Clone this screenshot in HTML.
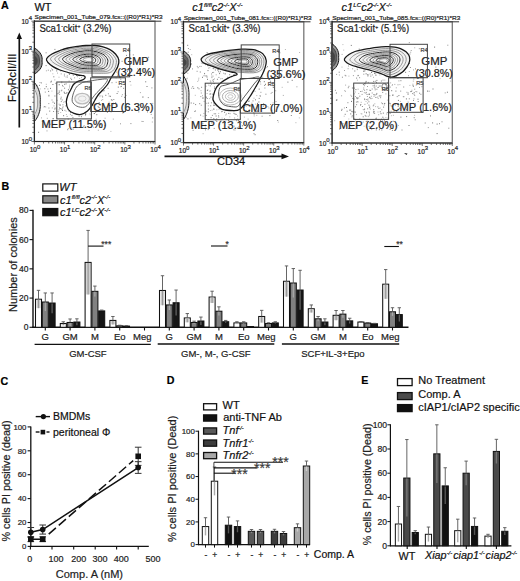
<!DOCTYPE html>
<html><head><meta charset="utf-8"><style>
html,body{margin:0;padding:0;background:#fff;}
svg{display:block;}
text{font-family:"Liberation Sans", sans-serif;}
</style></head><body>
<svg width="520" height="581" viewBox="0 0 520 581" font-family='"Liberation Sans", sans-serif'>
<rect width="520" height="581" fill="#fff"/>
<text x="1.00" y="9.20" font-size="10.7" text-anchor="start" font-weight="bold" font-style="normal" fill="#000" stroke="#000" stroke-width="0.2" >A</text>
<rect x="74.2" y="56.8" width="1" height="1" fill="rgb(116,116,116)"/>
<rect x="44.8" y="91.6" width="1" height="1" fill="rgb(156,156,156)"/>
<rect x="104.4" y="125.3" width="1" height="1" fill="rgb(137,137,137)"/>
<rect x="40.8" y="82.4" width="1" height="1" fill="rgb(118,118,118)"/>
<rect x="64.5" y="93.0" width="1" height="1" fill="rgb(117,117,117)"/>
<rect x="132.8" y="54.4" width="1" height="1" fill="rgb(138,138,138)"/>
<rect x="109.9" y="95.8" width="1" height="1" fill="rgb(117,117,117)"/>
<rect x="103.7" y="79.0" width="1" height="1" fill="rgb(138,138,138)"/>
<rect x="41.8" y="120.7" width="1" height="1" fill="rgb(147,147,147)"/>
<rect x="85.3" y="92.0" width="1" height="1" fill="rgb(183,183,183)"/>
<rect x="72.4" y="116.9" width="1" height="1" fill="rgb(133,133,133)"/>
<rect x="48.4" y="94.8" width="1" height="1" fill="rgb(134,134,134)"/>
<rect x="79.8" y="92.7" width="1" height="1" fill="rgb(118,118,118)"/>
<rect x="102.2" y="99.1" width="1" height="1" fill="rgb(173,173,173)"/>
<rect x="115.7" y="81.8" width="1" height="1" fill="rgb(150,150,150)"/>
<rect x="90.7" y="126.6" width="1" height="1" fill="rgb(156,156,156)"/>
<rect x="71.4" y="114.9" width="1" height="1" fill="rgb(141,141,141)"/>
<rect x="45.9" y="70.3" width="1" height="1" fill="rgb(173,173,173)"/>
<rect x="138.4" y="109.1" width="1" height="1" fill="rgb(146,146,146)"/>
<rect x="107.4" y="49.8" width="1" height="1" fill="rgb(175,175,175)"/>
<rect x="85.2" y="111.6" width="1" height="1" fill="rgb(129,129,129)"/>
<rect x="145.2" y="81.3" width="1" height="1" fill="rgb(119,119,119)"/>
<rect x="125.5" y="94.9" width="1" height="1" fill="rgb(150,150,150)"/>
<rect x="76.1" y="74.8" width="1" height="1" fill="rgb(173,173,173)"/>
<rect x="104.0" y="84.4" width="1" height="1" fill="rgb(121,121,121)"/>
<rect x="146.5" y="86.0" width="1" height="1" fill="rgb(118,118,118)"/>
<rect x="43.5" y="106.5" width="1" height="1" fill="rgb(183,183,183)"/>
<rect x="152.2" y="117.4" width="1" height="1" fill="rgb(146,146,146)"/>
<rect x="120.0" y="123.3" width="1" height="1" fill="rgb(154,154,154)"/>
<rect x="39.0" y="84.9" width="1" height="1" fill="rgb(131,131,131)"/>
<rect x="107.6" y="87.8" width="1" height="1" fill="rgb(137,137,137)"/>
<rect x="126.0" y="54.9" width="1" height="1" fill="rgb(141,141,141)"/>
<rect x="82.8" y="126.0" width="1" height="1" fill="rgb(173,173,173)"/>
<rect x="45.8" y="83.8" width="1" height="1" fill="rgb(180,180,180)"/>
<rect x="68.8" y="55.6" width="1" height="1" fill="rgb(165,165,165)"/>
<rect x="137.1" y="68.3" width="1" height="1" fill="rgb(163,163,163)"/>
<rect x="151.4" y="104.8" width="1" height="1" fill="rgb(158,158,158)"/>
<rect x="148.1" y="56.8" width="1" height="1" fill="rgb(132,132,132)"/>
<rect x="54.0" y="102.7" width="1" height="1" fill="rgb(111,111,111)"/>
<rect x="92.9" y="96.4" width="1" height="1" fill="rgb(143,143,143)"/>
<rect x="69.3" y="84.5" width="1" height="1" fill="rgb(178,178,178)"/>
<rect x="79.5" y="108.7" width="1" height="1" fill="rgb(126,126,126)"/>
<rect x="116.9" y="105.7" width="1" height="1" fill="rgb(189,189,189)"/>
<rect x="112.8" y="118.6" width="1" height="1" fill="rgb(168,168,168)"/>
<rect x="141.3" y="120.9" width="1" height="1" fill="rgb(181,181,181)"/>
<rect x="82.2" y="99.1" width="1" height="1" fill="rgb(123,123,123)"/>
<rect x="92.5" y="99.1" width="1" height="1" fill="rgb(134,134,134)"/>
<rect x="44.3" y="88.2" width="1" height="1" fill="rgb(130,130,130)"/>
<rect x="49.2" y="110.6" width="1" height="1" fill="rgb(123,123,123)"/>
<rect x="36.4" y="84.9" width="1" height="1" fill="rgb(122,122,122)"/>
<rect x="147.0" y="111.4" width="1" height="1" fill="rgb(119,119,119)"/>
<rect x="138.3" y="111.4" width="1" height="1" fill="rgb(129,129,129)"/>
<rect x="110.4" y="130.9" width="1" height="1" fill="rgb(187,187,187)"/>
<rect x="78.9" y="83.2" width="1" height="1" fill="rgb(172,172,172)"/>
<rect x="152.2" y="102.9" width="1" height="1" fill="rgb(171,171,171)"/>
<rect x="72.8" y="84.5" width="1" height="1" fill="rgb(153,153,153)"/>
<rect x="122.7" y="103.6" width="1" height="1" fill="rgb(130,130,130)"/>
<rect x="96.6" y="88.0" width="1" height="1" fill="rgb(177,177,177)"/>
<rect x="78.6" y="115.7" width="1" height="1" fill="rgb(113,113,113)"/>
<rect x="124.8" y="93.3" width="1" height="1" fill="rgb(121,121,121)"/>
<rect x="117.6" y="91.2" width="1" height="1" fill="rgb(156,156,156)"/>
<rect x="142.3" y="96.6" width="1" height="1" fill="rgb(138,138,138)"/>
<rect x="98.5" y="120.8" width="1" height="1" fill="rgb(152,152,152)"/>
<rect x="110.6" y="111.3" width="1" height="1" fill="rgb(134,134,134)"/>
<rect x="130.4" y="123.1" width="1" height="1" fill="rgb(139,139,139)"/>
<rect x="59.7" y="104.4" width="1" height="1" fill="rgb(113,113,113)"/>
<rect x="151.8" y="121.5" width="1" height="1" fill="rgb(170,170,170)"/>
<rect x="66.6" y="115.9" width="1" height="1" fill="rgb(154,154,154)"/>
<rect x="88.5" y="129.9" width="1" height="1" fill="rgb(154,154,154)"/>
<rect x="147.8" y="97.1" width="1" height="1" fill="rgb(138,138,138)"/>
<rect x="48.3" y="103.1" width="1" height="1" fill="rgb(153,153,153)"/>
<rect x="60.2" y="112.0" width="1" height="1" fill="rgb(188,188,188)"/>
<rect x="134.4" y="103.7" width="1" height="1" fill="rgb(154,154,154)"/>
<rect x="129.6" y="81.1" width="1" height="1" fill="rgb(125,125,125)"/>
<rect x="142.5" y="121.0" width="1" height="1" fill="rgb(135,135,135)"/>
<rect x="92.1" y="86.4" width="1" height="1" fill="rgb(152,152,152)"/>
<rect x="46.5" y="130.4" width="1" height="1" fill="rgb(160,160,160)"/>
<rect x="90.4" y="118.8" width="1" height="1" fill="rgb(120,120,120)"/>
<rect x="120.9" y="85.9" width="1" height="1" fill="rgb(126,126,126)"/>
<rect x="39.6" y="110.1" width="1" height="1" fill="rgb(169,169,169)"/>
<rect x="130.4" y="84.6" width="1" height="1" fill="rgb(186,186,186)"/>
<rect x="150.7" y="113.9" width="1" height="1" fill="rgb(154,154,154)"/>
<rect x="54.6" y="107.6" width="1" height="1" fill="rgb(112,112,112)"/>
<rect x="38.1" y="131.8" width="1" height="1" fill="rgb(123,123,123)"/>
<rect x="97.8" y="129.7" width="1" height="1" fill="rgb(165,165,165)"/>
<rect x="151.4" y="87.4" width="1" height="1" fill="rgb(137,137,137)"/>
<rect x="39.7" y="88.4" width="1" height="1" fill="rgb(174,174,174)"/>
<rect x="64.4" y="109.8" width="1" height="1" fill="rgb(143,143,143)"/>
<rect x="99.9" y="124.0" width="1" height="1" fill="rgb(117,117,117)"/>
<rect x="142.5" y="96.5" width="1" height="1" fill="rgb(168,168,168)"/>
<rect x="57.0" y="72.6" width="1" height="1" fill="rgb(176,176,176)"/>
<rect x="41.0" y="117.4" width="1" height="1" fill="rgb(174,174,174)"/>
<rect x="78.7" y="106.3" width="1" height="1" fill="rgb(175,175,175)"/>
<rect x="89.5" y="101.3" width="1" height="1" fill="rgb(133,133,133)"/>
<rect x="50.9" y="80.7" width="1" height="1" fill="rgb(129,129,129)"/>
<rect x="80.9" y="116.2" width="1" height="1" fill="rgb(125,125,125)"/>
<rect x="59.1" y="94.0" width="1" height="1" fill="rgb(176,176,176)"/>
<rect x="54.4" y="95.5" width="1" height="1" fill="rgb(123,123,123)"/>
<rect x="76.5" y="95.3" width="1" height="1" fill="rgb(134,134,134)"/>
<rect x="67.8" y="128.0" width="1" height="1" fill="rgb(174,174,174)"/>
<rect x="68.8" y="100.4" width="1" height="1" fill="rgb(118,118,118)"/>
<rect x="51.8" y="107.4" width="1" height="1" fill="rgb(174,174,174)"/>
<rect x="64.0" y="92.2" width="1" height="1" fill="rgb(145,145,145)"/>
<rect x="53.5" y="105.4" width="1" height="1" fill="rgb(171,171,171)"/>
<rect x="60.3" y="98.6" width="1" height="1" fill="rgb(176,176,176)"/>
<rect x="99.7" y="70.8" width="1" height="1" fill="rgb(143,143,143)"/>
<rect x="102.3" y="82.4" width="1" height="1" fill="rgb(135,135,135)"/>
<rect x="77.1" y="91.4" width="1" height="1" fill="rgb(125,125,125)"/>
<rect x="61.5" y="108.5" width="1" height="1" fill="rgb(140,140,140)"/>
<rect x="62.4" y="104.3" width="1" height="1" fill="rgb(148,148,148)"/>
<rect x="79.6" y="63.8" width="1" height="1" fill="rgb(129,129,129)"/>
<rect x="93.7" y="90.1" width="1" height="1" fill="rgb(156,156,156)"/>
<rect x="93.0" y="126.7" width="1" height="1" fill="rgb(169,169,169)"/>
<rect x="57.6" y="110.9" width="1" height="1" fill="rgb(138,138,138)"/>
<rect x="81.4" y="114.5" width="1" height="1" fill="rgb(175,175,175)"/>
<rect x="58.6" y="109.3" width="1" height="1" fill="rgb(155,155,155)"/>
<rect x="61.7" y="123.9" width="1" height="1" fill="rgb(112,112,112)"/>
<rect x="63.1" y="115.2" width="1" height="1" fill="rgb(112,112,112)"/>
<rect x="58.0" y="112.8" width="1" height="1" fill="rgb(147,147,147)"/>
<rect x="66.6" y="98.7" width="1" height="1" fill="rgb(139,139,139)"/>
<rect x="79.8" y="97.8" width="1" height="1" fill="rgb(143,143,143)"/>
<rect x="83.6" y="125.1" width="1" height="1" fill="rgb(164,164,164)"/>
<rect x="86.5" y="78.5" width="1" height="1" fill="rgb(143,143,143)"/>
<rect x="55.9" y="110.9" width="1" height="1" fill="rgb(175,175,175)"/>
<rect x="50.0" y="87.9" width="1" height="1" fill="rgb(121,121,121)"/>
<rect x="67.2" y="129.2" width="1" height="1" fill="rgb(133,133,133)"/>
<rect x="66.9" y="102.2" width="1" height="1" fill="rgb(112,112,112)"/>
<rect x="53.3" y="76.3" width="1" height="1" fill="rgb(120,120,120)"/>
<rect x="63.6" y="91.6" width="1" height="1" fill="rgb(143,143,143)"/>
<rect x="83.9" y="85.0" width="1" height="1" fill="rgb(153,153,153)"/>
<rect x="89.0" y="98.6" width="1" height="1" fill="rgb(144,144,144)"/>
<rect x="69.0" y="95.7" width="1" height="1" fill="rgb(140,140,140)"/>
<rect x="111.5" y="82.2" width="1" height="1" fill="rgb(143,143,143)"/>
<rect x="82.6" y="102.8" width="1" height="1" fill="rgb(149,149,149)"/>
<rect x="58.8" y="84.1" width="1" height="1" fill="rgb(136,136,136)"/>
<rect x="67.7" y="118.6" width="1" height="1" fill="rgb(132,132,132)"/>
<rect x="76.8" y="99.0" width="1" height="1" fill="rgb(112,112,112)"/>
<rect x="70.3" y="77.8" width="1" height="1" fill="rgb(134,134,134)"/>
<rect x="60.4" y="98.1" width="1" height="1" fill="rgb(167,167,167)"/>
<rect x="95.6" y="118.7" width="1" height="1" fill="rgb(165,165,165)"/>
<rect x="61.3" y="81.4" width="1" height="1" fill="rgb(160,160,160)"/>
<rect x="85.9" y="96.5" width="1" height="1" fill="rgb(137,137,137)"/>
<rect x="87.0" y="97.5" width="1" height="1" fill="rgb(127,127,127)"/>
<rect x="60.2" y="108.1" width="1" height="1" fill="rgb(116,116,116)"/>
<rect x="73.8" y="96.7" width="1" height="1" fill="rgb(190,190,190)"/>
<rect x="71.7" y="86.2" width="1" height="1" fill="rgb(130,130,130)"/>
<rect x="94.7" y="107.8" width="1" height="1" fill="rgb(158,158,158)"/>
<rect x="88.8" y="80.8" width="1" height="1" fill="rgb(146,146,146)"/>
<rect x="52.4" y="84.0" width="1" height="1" fill="rgb(115,115,115)"/>
<rect x="63.3" y="101.7" width="1" height="1" fill="rgb(167,167,167)"/>
<rect x="87.6" y="99.6" width="1" height="1" fill="rgb(152,152,152)"/>
<rect x="92.2" y="95.5" width="1" height="1" fill="rgb(141,141,141)"/>
<rect x="104.7" y="106.8" width="1" height="1" fill="rgb(137,137,137)"/>
<rect x="71.9" y="99.8" width="1" height="1" fill="rgb(158,158,158)"/>
<rect x="83.6" y="106.1" width="1" height="1" fill="rgb(135,135,135)"/>
<rect x="72.7" y="128.6" width="1" height="1" fill="rgb(121,121,121)"/>
<rect x="71.8" y="106.5" width="1" height="1" fill="rgb(161,161,161)"/>
<rect x="58.7" y="90.4" width="1" height="1" fill="rgb(148,148,148)"/>
<rect x="68.5" y="110.9" width="1" height="1" fill="rgb(184,184,184)"/>
<rect x="102.6" y="90.4" width="1" height="1" fill="rgb(129,129,129)"/>
<rect x="58.5" y="76.7" width="1" height="1" fill="rgb(186,186,186)"/>
<rect x="61.5" y="108.9" width="1" height="1" fill="rgb(173,173,173)"/>
<rect x="87.6" y="121.2" width="1" height="1" fill="rgb(128,128,128)"/>
<rect x="101.6" y="108.0" width="1" height="1" fill="rgb(175,175,175)"/>
<rect x="54.3" y="79.4" width="1" height="1" fill="rgb(174,174,174)"/>
<rect x="84.9" y="115.1" width="1" height="1" fill="rgb(174,174,174)"/>
<rect x="45.8" y="86.2" width="1" height="1" fill="rgb(112,112,112)"/>
<rect x="82.2" y="79.2" width="1" height="1" fill="rgb(139,139,139)"/>
<rect x="76.4" y="101.7" width="1" height="1" fill="rgb(156,156,156)"/>
<rect x="87.5" y="95.0" width="1" height="1" fill="rgb(167,167,167)"/>
<rect x="51.4" y="90.6" width="1" height="1" fill="rgb(190,190,190)"/>
<rect x="60.7" y="96.7" width="1" height="1" fill="rgb(143,143,143)"/>
<rect x="101.0" y="99.8" width="1" height="1" fill="rgb(174,174,174)"/>
<rect x="78.0" y="94.7" width="1" height="1" fill="rgb(177,177,177)"/>
<rect x="96.3" y="110.4" width="1" height="1" fill="rgb(142,142,142)"/>
<rect x="83.7" y="68.6" width="1" height="1" fill="rgb(140,140,140)"/>
<rect x="71.0" y="87.8" width="1" height="1" fill="rgb(168,168,168)"/>
<rect x="56.7" y="99.8" width="1" height="1" fill="rgb(171,171,171)"/>
<rect x="83.5" y="91.7" width="1" height="1" fill="rgb(115,115,115)"/>
<rect x="55.4" y="82.8" width="1" height="1" fill="rgb(119,119,119)"/>
<rect x="60.8" y="90.3" width="1" height="1" fill="rgb(148,148,148)"/>
<rect x="66.2" y="92.9" width="1" height="1" fill="rgb(171,171,171)"/>
<rect x="84.2" y="104.2" width="1" height="1" fill="rgb(122,122,122)"/>
<rect x="63.9" y="75.4" width="1" height="1" fill="rgb(147,147,147)"/>
<rect x="69.0" y="85.7" width="1" height="1" fill="rgb(169,169,169)"/>
<rect x="64.5" y="101.0" width="1" height="1" fill="rgb(180,180,180)"/>
<rect x="75.2" y="98.0" width="1" height="1" fill="rgb(168,168,168)"/>
<rect x="89.3" y="108.5" width="1" height="1" fill="rgb(167,167,167)"/>
<rect x="88.2" y="98.6" width="1" height="1" fill="rgb(136,136,136)"/>
<rect x="78.6" y="102.5" width="1" height="1" fill="rgb(177,177,177)"/>
<rect x="71.3" y="115.2" width="1" height="1" fill="rgb(187,187,187)"/>
<rect x="80.5" y="80.9" width="1" height="1" fill="rgb(124,124,124)"/>
<rect x="69.0" y="87.4" width="1" height="1" fill="rgb(172,172,172)"/>
<rect x="65.0" y="105.4" width="1" height="1" fill="rgb(172,172,172)"/>
<rect x="65.6" y="83.4" width="1" height="1" fill="rgb(128,128,128)"/>
<rect x="59.0" y="107.5" width="1" height="1" fill="rgb(125,125,125)"/>
<rect x="72.9" y="98.4" width="1" height="1" fill="rgb(153,153,153)"/>
<rect x="76.7" y="91.9" width="1" height="1" fill="rgb(135,135,135)"/>
<rect x="64.5" y="63.6" width="1" height="1" fill="rgb(147,147,147)"/>
<rect x="72.3" y="105.4" width="1" height="1" fill="rgb(159,159,159)"/>
<rect x="93.7" y="99.0" width="1" height="1" fill="rgb(156,156,156)"/>
<rect x="96.4" y="86.3" width="1" height="1" fill="rgb(116,116,116)"/>
<rect x="71.4" y="104.6" width="1" height="1" fill="rgb(146,146,146)"/>
<rect x="66.4" y="92.0" width="1" height="1" fill="rgb(144,144,144)"/>
<rect x="59.6" y="105.0" width="1" height="1" fill="rgb(157,157,157)"/>
<rect x="76.1" y="81.7" width="1" height="1" fill="rgb(113,113,113)"/>
<rect x="81.0" y="77.0" width="1" height="1" fill="rgb(180,180,180)"/>
<rect x="48.1" y="90.9" width="1" height="1" fill="rgb(116,116,116)"/>
<rect x="87.4" y="92.1" width="1" height="1" fill="rgb(188,188,188)"/>
<rect x="72.8" y="74.8" width="1" height="1" fill="rgb(146,146,146)"/>
<rect x="37.3" y="102.6" width="1" height="1" fill="rgb(180,180,180)"/>
<rect x="85.0" y="113.0" width="1" height="1" fill="rgb(153,153,153)"/>
<rect x="70.0" y="112.0" width="1" height="1" fill="rgb(143,143,143)"/>
<rect x="62.6" y="106.2" width="1" height="1" fill="rgb(171,171,171)"/>
<rect x="57.4" y="93.2" width="1" height="1" fill="rgb(131,131,131)"/>
<rect x="68.5" y="93.9" width="1" height="1" fill="rgb(174,174,174)"/>
<rect x="88.0" y="88.1" width="1" height="1" fill="rgb(138,138,138)"/>
<rect x="58.6" y="103.7" width="1" height="1" fill="rgb(167,167,167)"/>
<rect x="54.3" y="108.6" width="1" height="1" fill="rgb(141,141,141)"/>
<rect x="84.7" y="107.6" width="1" height="1" fill="rgb(121,121,121)"/>
<rect x="65.9" y="114.0" width="1" height="1" fill="rgb(182,182,182)"/>
<rect x="73.4" y="102.5" width="1" height="1" fill="rgb(162,162,162)"/>
<rect x="52.8" y="118.1" width="1" height="1" fill="rgb(136,136,136)"/>
<rect x="62.0" y="110.0" width="1" height="1" fill="rgb(117,117,117)"/>
<rect x="51.5" y="99.5" width="1" height="1" fill="rgb(156,156,156)"/>
<rect x="85.7" y="113.5" width="1" height="1" fill="rgb(190,190,190)"/>
<rect x="80.2" y="67.2" width="1" height="1" fill="rgb(121,121,121)"/>
<rect x="70.8" y="111.9" width="1" height="1" fill="rgb(161,161,161)"/>
<rect x="62.0" y="84.9" width="1" height="1" fill="rgb(149,149,149)"/>
<rect x="91.3" y="71.1" width="1" height="1" fill="rgb(112,112,112)"/>
<rect x="84.1" y="112.0" width="1" height="1" fill="rgb(170,170,170)"/>
<rect x="90.6" y="95.3" width="1" height="1" fill="rgb(119,119,119)"/>
<rect x="44.0" y="123.7" width="1" height="1" fill="rgb(177,177,177)"/>
<rect x="98.8" y="63.3" width="1" height="1" fill="rgb(141,141,141)"/>
<rect x="74.8" y="87.4" width="1" height="1" fill="rgb(129,129,129)"/>
<rect x="48.4" y="95.6" width="1" height="1" fill="rgb(168,168,168)"/>
<rect x="96.3" y="114.2" width="1" height="1" fill="rgb(110,110,110)"/>
<rect x="74.7" y="87.1" width="1" height="1" fill="rgb(114,114,114)"/>
<rect x="64.1" y="87.7" width="1" height="1" fill="rgb(126,126,126)"/>
<rect x="58.7" y="84.3" width="1" height="1" fill="rgb(165,165,165)"/>
<rect x="69.9" y="91.3" width="1" height="1" fill="rgb(119,119,119)"/>
<rect x="76.9" y="111.5" width="1" height="1" fill="rgb(186,186,186)"/>
<rect x="92.3" y="99.4" width="1" height="1" fill="rgb(168,168,168)"/>
<rect x="69.9" y="113.8" width="1" height="1" fill="rgb(141,141,141)"/>
<rect x="60.8" y="101.1" width="1" height="1" fill="rgb(141,141,141)"/>
<rect x="88.6" y="102.4" width="1" height="1" fill="rgb(149,149,149)"/>
<rect x="82.3" y="103.0" width="1" height="1" fill="rgb(163,163,163)"/>
<rect x="82.4" y="105.2" width="1" height="1" fill="rgb(164,164,164)"/>
<rect x="82.6" y="93.7" width="1" height="1" fill="rgb(114,114,114)"/>
<rect x="63.9" y="73.7" width="1" height="1" fill="rgb(156,156,156)"/>
<rect x="68.0" y="88.9" width="1" height="1" fill="rgb(147,147,147)"/>
<rect x="71.1" y="79.1" width="1" height="1" fill="rgb(136,136,136)"/>
<rect x="61.7" y="99.5" width="1" height="1" fill="rgb(134,134,134)"/>
<rect x="73.8" y="111.1" width="1" height="1" fill="rgb(147,147,147)"/>
<rect x="89.7" y="114.2" width="1" height="1" fill="rgb(188,188,188)"/>
<rect x="76.8" y="110.4" width="1" height="1" fill="rgb(163,163,163)"/>
<rect x="77.0" y="96.1" width="1" height="1" fill="rgb(186,186,186)"/>
<rect x="82.1" y="112.7" width="1" height="1" fill="rgb(137,137,137)"/>
<rect x="93.7" y="102.6" width="1" height="1" fill="rgb(163,163,163)"/>
<rect x="77.7" y="101.1" width="1" height="1" fill="rgb(160,160,160)"/>
<rect x="48.4" y="107.5" width="1" height="1" fill="rgb(150,150,150)"/>
<rect x="85.4" y="92.9" width="1" height="1" fill="rgb(133,133,133)"/>
<rect x="61.2" y="82.2" width="1" height="1" fill="rgb(169,169,169)"/>
<rect x="95.6" y="104.2" width="1" height="1" fill="rgb(158,158,158)"/>
<rect x="97.0" y="57.5" width="1" height="1" fill="rgb(166,166,166)"/>
<rect x="73.0" y="100.3" width="1" height="1" fill="rgb(145,145,145)"/>
<rect x="87.0" y="107.8" width="1" height="1" fill="rgb(125,125,125)"/>
<rect x="47.4" y="88.5" width="1" height="1" fill="rgb(158,158,158)"/>
<rect x="54.0" y="123.9" width="1" height="1" fill="rgb(165,165,165)"/>
<rect x="93.7" y="113.1" width="1" height="1" fill="rgb(135,135,135)"/>
<rect x="47.4" y="126.6" width="1" height="1" fill="rgb(134,134,134)"/>
<rect x="60.8" y="124.1" width="1" height="1" fill="rgb(170,170,170)"/>
<rect x="88.6" y="102.5" width="1" height="1" fill="rgb(190,190,190)"/>
<rect x="72.9" y="94.3" width="1" height="1" fill="rgb(114,114,114)"/>
<rect x="44.3" y="106.1" width="1" height="1" fill="rgb(117,117,117)"/>
<rect x="71.2" y="127.4" width="1" height="1" fill="rgb(187,187,187)"/>
<rect x="65.6" y="110.7" width="1" height="1" fill="rgb(188,188,188)"/>
<rect x="97.9" y="106.8" width="1" height="1" fill="rgb(150,150,150)"/>
<rect x="84.3" y="92.7" width="1" height="1" fill="rgb(186,186,186)"/>
<rect x="92.0" y="87.1" width="1" height="1" fill="rgb(118,118,118)"/>
<rect x="83.9" y="101.1" width="1" height="1" fill="rgb(170,170,170)"/>
<rect x="68.6" y="80.6" width="1" height="1" fill="rgb(159,159,159)"/>
<rect x="81.2" y="62.8" width="1" height="1" fill="rgb(173,173,173)"/>
<rect x="85.0" y="113.9" width="1" height="1" fill="rgb(111,111,111)"/>
<rect x="80.9" y="72.9" width="1" height="1" fill="rgb(129,129,129)"/>
<rect x="61.3" y="89.7" width="1" height="1" fill="rgb(150,150,150)"/>
<rect x="45.2" y="106.5" width="1" height="1" fill="rgb(186,186,186)"/>
<rect x="81.7" y="104.6" width="1" height="1" fill="rgb(130,130,130)"/>
<rect x="72.5" y="105.4" width="1" height="1" fill="rgb(114,114,114)"/>
<rect x="52.5" y="101.6" width="1" height="1" fill="rgb(130,130,130)"/>
<rect x="105.3" y="94.8" width="1" height="1" fill="rgb(119,119,119)"/>
<rect x="71.8" y="106.3" width="1" height="1" fill="rgb(122,122,122)"/>
<rect x="82.1" y="97.4" width="1" height="1" fill="rgb(127,127,127)"/>
<rect x="53.1" y="111.0" width="1" height="1" fill="rgb(140,140,140)"/>
<rect x="72.0" y="66.3" width="1" height="1" fill="rgb(125,125,125)"/>
<rect x="74.9" y="85.3" width="1" height="1" fill="rgb(145,145,145)"/>
<rect x="58.3" y="92.5" width="1" height="1" fill="rgb(143,143,143)"/>
<rect x="76.2" y="111.4" width="1" height="1" fill="rgb(141,141,141)"/>
<rect x="73.6" y="113.0" width="1" height="1" fill="rgb(184,184,184)"/>
<rect x="74.6" y="105.0" width="1" height="1" fill="rgb(142,142,142)"/>
<rect x="91.4" y="98.2" width="1" height="1" fill="rgb(139,139,139)"/>
<rect x="68.1" y="92.9" width="1" height="1" fill="rgb(169,169,169)"/>
<rect x="79.8" y="98.8" width="1" height="1" fill="rgb(170,170,170)"/>
<rect x="81.0" y="90.9" width="1" height="1" fill="rgb(167,167,167)"/>
<rect x="76.3" y="96.7" width="1" height="1" fill="rgb(147,147,147)"/>
<rect x="73.0" y="104.6" width="1" height="1" fill="rgb(186,186,186)"/>
<rect x="93.3" y="95.4" width="1" height="1" fill="rgb(119,119,119)"/>
<rect x="50.1" y="123.7" width="1" height="1" fill="rgb(167,167,167)"/>
<rect x="50.4" y="81.5" width="1" height="1" fill="rgb(110,110,110)"/>
<rect x="89.4" y="113.3" width="1" height="1" fill="rgb(189,189,189)"/>
<rect x="69.8" y="103.0" width="1" height="1" fill="rgb(153,153,153)"/>
<rect x="79.2" y="108.1" width="1" height="1" fill="rgb(142,142,142)"/>
<rect x="97.6" y="105.8" width="1" height="1" fill="rgb(136,136,136)"/>
<rect x="84.1" y="70.3" width="1" height="1" fill="rgb(162,162,162)"/>
<rect x="67.9" y="89.4" width="1" height="1" fill="rgb(149,149,149)"/>
<rect x="76.0" y="101.2" width="1" height="1" fill="rgb(173,173,173)"/>
<rect x="66.9" y="97.4" width="1" height="1" fill="rgb(122,122,122)"/>
<rect x="79.1" y="75.1" width="1" height="1" fill="rgb(129,129,129)"/>
<rect x="67.9" y="93.5" width="1" height="1" fill="rgb(130,130,130)"/>
<rect x="62.2" y="107.3" width="1" height="1" fill="rgb(146,146,146)"/>
<rect x="64.2" y="83.8" width="1" height="1" fill="rgb(116,116,116)"/>
<rect x="64.5" y="119.5" width="1" height="1" fill="rgb(155,155,155)"/>
<rect x="69.8" y="100.9" width="1" height="1" fill="rgb(156,156,156)"/>
<rect x="62.6" y="85.9" width="1" height="1" fill="rgb(161,161,161)"/>
<rect x="72.9" y="101.0" width="1" height="1" fill="rgb(130,130,130)"/>
<rect x="46.1" y="113.7" width="1" height="1" fill="rgb(161,161,161)"/>
<rect x="58.9" y="91.6" width="1" height="1" fill="rgb(130,130,130)"/>
<rect x="76.0" y="103.2" width="1" height="1" fill="rgb(128,128,128)"/>
<rect x="50.1" y="70.4" width="1" height="1" fill="rgb(121,121,121)"/>
<rect x="39.5" y="82.0" width="1" height="1" fill="rgb(174,174,174)"/>
<rect x="79.4" y="113.1" width="1" height="1" fill="rgb(130,130,130)"/>
<rect x="36.3" y="94.1" width="1" height="1" fill="rgb(123,123,123)"/>
<rect x="52.5" y="118.2" width="1" height="1" fill="rgb(135,135,135)"/>
<rect x="106.4" y="109.3" width="1" height="1" fill="rgb(150,150,150)"/>
<rect x="106.9" y="112.0" width="1" height="1" fill="rgb(159,159,159)"/>
<rect x="94.0" y="113.0" width="1" height="1" fill="rgb(130,130,130)"/>
<rect x="52.3" y="73.3" width="1" height="1" fill="rgb(189,189,189)"/>
<rect x="46.8" y="117.8" width="1" height="1" fill="rgb(170,170,170)"/>
<rect x="77.0" y="110.1" width="1" height="1" fill="rgb(161,161,161)"/>
<rect x="81.0" y="95.5" width="1" height="1" fill="rgb(155,155,155)"/>
<rect x="81.0" y="108.1" width="1" height="1" fill="rgb(134,134,134)"/>
<rect x="92.3" y="104.8" width="1" height="1" fill="rgb(114,114,114)"/>
<rect x="64.8" y="59.3" width="1" height="1" fill="rgb(159,159,159)"/>
<rect x="51.9" y="59.5" width="1" height="1" fill="rgb(190,190,190)"/>
<rect x="80.0" y="53.4" width="1" height="1" fill="rgb(149,149,149)"/>
<rect x="54.3" y="61.5" width="1" height="1" fill="rgb(157,157,157)"/>
<rect x="52.1" y="69.4" width="1" height="1" fill="rgb(112,112,112)"/>
<rect x="51.0" y="68.3" width="1" height="1" fill="rgb(189,189,189)"/>
<rect x="79.0" y="56.4" width="1" height="1" fill="rgb(132,132,132)"/>
<rect x="82.7" y="57.7" width="1" height="1" fill="rgb(118,118,118)"/>
<rect x="90.5" y="73.1" width="1" height="1" fill="rgb(121,121,121)"/>
<rect x="82.8" y="56.1" width="1" height="1" fill="rgb(115,115,115)"/>
<rect x="85.6" y="67.4" width="1" height="1" fill="rgb(150,150,150)"/>
<rect x="78.9" y="55.6" width="1" height="1" fill="rgb(116,116,116)"/>
<rect x="75.0" y="47.1" width="1" height="1" fill="rgb(127,127,127)"/>
<rect x="82.4" y="66.7" width="1" height="1" fill="rgb(188,188,188)"/>
<rect x="69.9" y="49.8" width="1" height="1" fill="rgb(134,134,134)"/>
<rect x="105.4" y="80.0" width="1" height="1" fill="rgb(146,146,146)"/>
<rect x="121.6" y="60.8" width="1" height="1" fill="rgb(131,131,131)"/>
<rect x="60.7" y="53.0" width="1" height="1" fill="rgb(138,138,138)"/>
<rect x="93.1" y="69.5" width="1" height="1" fill="rgb(142,142,142)"/>
<rect x="99.8" y="82.3" width="1" height="1" fill="rgb(145,145,145)"/>
<rect x="94.5" y="60.6" width="1" height="1" fill="rgb(142,142,142)"/>
<rect x="78.8" y="73.0" width="1" height="1" fill="rgb(174,174,174)"/>
<rect x="76.1" y="74.9" width="1" height="1" fill="rgb(135,135,135)"/>
<rect x="79.8" y="71.1" width="1" height="1" fill="rgb(145,145,145)"/>
<rect x="54.4" y="48.9" width="1" height="1" fill="rgb(131,131,131)"/>
<rect x="78.9" y="59.4" width="1" height="1" fill="rgb(177,177,177)"/>
<rect x="115.9" y="71.5" width="1" height="1" fill="rgb(167,167,167)"/>
<rect x="47.1" y="62.2" width="1" height="1" fill="rgb(123,123,123)"/>
<rect x="74.1" y="77.3" width="1" height="1" fill="rgb(160,160,160)"/>
<rect x="72.8" y="57.6" width="1" height="1" fill="rgb(158,158,158)"/>
<rect x="103.2" y="65.5" width="1" height="1" fill="rgb(156,156,156)"/>
<rect x="70.0" y="69.4" width="1" height="1" fill="rgb(139,139,139)"/>
<rect x="90.5" y="79.5" width="1" height="1" fill="rgb(116,116,116)"/>
<rect x="66.8" y="76.6" width="1" height="1" fill="rgb(149,149,149)"/>
<rect x="46.5" y="59.4" width="1" height="1" fill="rgb(150,150,150)"/>
<rect x="70.5" y="51.4" width="1" height="1" fill="rgb(138,138,138)"/>
<rect x="92.4" y="76.2" width="1" height="1" fill="rgb(165,165,165)"/>
<rect x="56.2" y="70.4" width="1" height="1" fill="rgb(116,116,116)"/>
<rect x="85.1" y="71.0" width="1" height="1" fill="rgb(115,115,115)"/>
<rect x="76.0" y="66.3" width="1" height="1" fill="rgb(155,155,155)"/>
<rect x="65.5" y="76.5" width="1" height="1" fill="rgb(178,178,178)"/>
<rect x="79.1" y="78.0" width="1" height="1" fill="rgb(185,185,185)"/>
<rect x="88.4" y="72.6" width="1" height="1" fill="rgb(170,170,170)"/>
<rect x="76.4" y="67.5" width="1" height="1" fill="rgb(141,141,141)"/>
<rect x="68.0" y="56.7" width="1" height="1" fill="rgb(118,118,118)"/>
<rect x="45.6" y="52.3" width="1" height="1" fill="rgb(144,144,144)"/>
<rect x="60.3" y="70.3" width="1" height="1" fill="rgb(111,111,111)"/>
<rect x="112.7" y="72.0" width="1" height="1" fill="rgb(154,154,154)"/>
<rect x="50.5" y="59.6" width="1" height="1" fill="rgb(187,187,187)"/>
<rect x="107.4" y="60.6" width="1" height="1" fill="rgb(141,141,141)"/>
<rect x="74.7" y="66.4" width="1" height="1" fill="rgb(117,117,117)"/>
<rect x="52.4" y="64.4" width="1" height="1" fill="rgb(140,140,140)"/>
<rect x="100.6" y="82.9" width="1" height="1" fill="rgb(123,123,123)"/>
<rect x="102.2" y="67.1" width="1" height="1" fill="rgb(135,135,135)"/>
<rect x="83.6" y="70.9" width="1" height="1" fill="rgb(187,187,187)"/>
<rect x="54.6" y="56.0" width="1" height="1" fill="rgb(163,163,163)"/>
<rect x="79.7" y="61.1" width="1" height="1" fill="rgb(149,149,149)"/>
<rect x="102.8" y="71.1" width="1" height="1" fill="rgb(171,171,171)"/>
<rect x="73.9" y="65.2" width="1" height="1" fill="rgb(165,165,165)"/>
<rect x="73.7" y="56.1" width="1" height="1" fill="rgb(167,167,167)"/>
<rect x="107.9" y="93.3" width="1" height="1" fill="rgb(143,143,143)"/>
<rect x="75.1" y="68.7" width="1" height="1" fill="rgb(152,152,152)"/>
<rect x="113.3" y="53.3" width="1" height="1" fill="rgb(143,143,143)"/>
<rect x="70.3" y="59.3" width="1" height="1" fill="rgb(180,180,180)"/>
<rect x="60.0" y="53.8" width="1" height="1" fill="rgb(176,176,176)"/>
<rect x="92.5" y="64.9" width="1" height="1" fill="rgb(137,137,137)"/>
<rect x="96.9" y="71.7" width="1" height="1" fill="rgb(131,131,131)"/>
<rect x="73.3" y="72.8" width="1" height="1" fill="rgb(135,135,135)"/>
<rect x="108.7" y="61.1" width="1" height="1" fill="rgb(151,151,151)"/>
<rect x="82.2" y="74.5" width="1" height="1" fill="rgb(186,186,186)"/>
<rect x="77.7" y="85.8" width="1" height="1" fill="rgb(190,190,190)"/>
<rect x="129.2" y="54.2" width="1" height="1" fill="rgb(178,178,178)"/>
<rect x="60.4" y="49.4" width="1" height="1" fill="rgb(165,165,165)"/>
<rect x="89.8" y="64.4" width="1" height="1" fill="rgb(149,149,149)"/>
<rect x="79.7" y="57.5" width="1" height="1" fill="rgb(184,184,184)"/>
<rect x="117.1" y="75.5" width="1" height="1" fill="rgb(128,128,128)"/>
<rect x="84.9" y="67.1" width="1" height="1" fill="rgb(189,189,189)"/>
<rect x="92.7" y="62.6" width="1" height="1" fill="rgb(128,128,128)"/>
<rect x="72.7" y="64.1" width="1" height="1" fill="rgb(127,127,127)"/>
<rect x="63.4" y="54.3" width="1" height="1" fill="rgb(118,118,118)"/>
<rect x="73.7" y="62.9" width="1" height="1" fill="rgb(185,185,185)"/>
<rect x="75.5" y="60.2" width="1" height="1" fill="rgb(178,178,178)"/>
<rect x="80.7" y="64.1" width="1" height="1" fill="rgb(159,159,159)"/>
<rect x="86.1" y="70.0" width="1" height="1" fill="rgb(124,124,124)"/>
<rect x="126.9" y="70.8" width="1" height="1" fill="rgb(121,121,121)"/>
<rect x="88.5" y="54.9" width="1" height="1" fill="rgb(146,146,146)"/>
<rect x="62.8" y="66.9" width="1" height="1" fill="rgb(136,136,136)"/>
<rect x="68.9" y="74.0" width="1" height="1" fill="rgb(143,143,143)"/>
<rect x="91.2" y="67.1" width="1" height="1" fill="rgb(146,146,146)"/>
<rect x="109.9" y="70.8" width="1" height="1" fill="rgb(151,151,151)"/>
<rect x="78.0" y="54.1" width="1" height="1" fill="rgb(170,170,170)"/>
<rect x="92.6" y="56.2" width="1" height="1" fill="rgb(113,113,113)"/>
<rect x="75.7" y="64.0" width="1" height="1" fill="rgb(176,176,176)"/>
<rect x="77.3" y="58.0" width="1" height="1" fill="rgb(116,116,116)"/>
<rect x="59.5" y="64.7" width="1" height="1" fill="rgb(121,121,121)"/>
<rect x="58.2" y="62.9" width="1" height="1" fill="rgb(165,165,165)"/>
<rect x="89.2" y="66.2" width="1" height="1" fill="rgb(116,116,116)"/>
<rect x="100.0" y="66.5" width="1" height="1" fill="rgb(172,172,172)"/>
<rect x="60.5" y="50.4" width="1" height="1" fill="rgb(173,173,173)"/>
<rect x="45.6" y="65.1" width="1" height="1" fill="rgb(130,130,130)"/>
<rect x="71.2" y="72.3" width="1" height="1" fill="rgb(139,139,139)"/>
<rect x="63.8" y="66.2" width="1" height="1" fill="rgb(120,120,120)"/>
<rect x="64.8" y="64.6" width="1" height="1" fill="rgb(151,151,151)"/>
<rect x="60.7" y="73.4" width="1" height="1" fill="rgb(160,160,160)"/>
<rect x="102.7" y="56.8" width="1" height="1" fill="rgb(164,164,164)"/>
<rect x="78.2" y="64.9" width="1" height="1" fill="rgb(136,136,136)"/>
<rect x="66.8" y="75.2" width="1" height="1" fill="rgb(179,179,179)"/>
<rect x="52.9" y="66.1" width="1" height="1" fill="rgb(190,190,190)"/>
<rect x="76.9" y="76.2" width="1" height="1" fill="rgb(178,178,178)"/>
<rect x="46.5" y="58.5" width="1" height="1" fill="rgb(187,187,187)"/>
<rect x="62.0" y="59.6" width="1" height="1" fill="rgb(151,151,151)"/>
<rect x="47.8" y="69.7" width="1" height="1" fill="rgb(151,151,151)"/>
<rect x="85.9" y="74.7" width="1" height="1" fill="rgb(142,142,142)"/>
<rect x="103.9" y="90.2" width="1" height="1" fill="rgb(169,169,169)"/>
<rect x="97.8" y="78.7" width="1" height="1" fill="rgb(174,174,174)"/>
<rect x="113.0" y="102.7" width="1" height="1" fill="rgb(189,189,189)"/>
<rect x="113.3" y="99.0" width="1" height="1" fill="rgb(141,141,141)"/>
<rect x="106.7" y="77.1" width="1" height="1" fill="rgb(154,154,154)"/>
<rect x="115.1" y="102.3" width="1" height="1" fill="rgb(134,134,134)"/>
<rect x="116.6" y="93.0" width="1" height="1" fill="rgb(123,123,123)"/>
<rect x="111.7" y="99.7" width="1" height="1" fill="rgb(128,128,128)"/>
<rect x="102.1" y="96.4" width="1" height="1" fill="rgb(123,123,123)"/>
<rect x="104.6" y="117.7" width="1" height="1" fill="rgb(169,169,169)"/>
<rect x="121.2" y="95.8" width="1" height="1" fill="rgb(165,165,165)"/>
<rect x="104.5" y="79.9" width="1" height="1" fill="rgb(190,190,190)"/>
<rect x="108.7" y="95.6" width="1" height="1" fill="rgb(142,142,142)"/>
<rect x="99.7" y="85.8" width="1" height="1" fill="rgb(141,141,141)"/>
<rect x="120.1" y="86.2" width="1" height="1" fill="rgb(183,183,183)"/>
<rect x="94.6" y="84.2" width="1" height="1" fill="rgb(139,139,139)"/>
<rect x="100.8" y="78.0" width="1" height="1" fill="rgb(184,184,184)"/>
<rect x="120.3" y="78.7" width="1" height="1" fill="rgb(125,125,125)"/>
<rect x="99.4" y="96.2" width="1" height="1" fill="rgb(190,190,190)"/>
<rect x="110.0" y="105.3" width="1" height="1" fill="rgb(190,190,190)"/>
<rect x="122.3" y="112.6" width="1" height="1" fill="rgb(171,171,171)"/>
<rect x="93.3" y="97.8" width="1" height="1" fill="rgb(162,162,162)"/>
<rect x="91.9" y="91.2" width="1" height="1" fill="rgb(133,133,133)"/>
<rect x="117.8" y="86.6" width="1" height="1" fill="rgb(111,111,111)"/>
<rect x="98.7" y="102.2" width="1" height="1" fill="rgb(123,123,123)"/>
<rect x="124.0" y="96.8" width="1" height="1" fill="rgb(130,130,130)"/>
<rect x="112.8" y="103.8" width="1" height="1" fill="rgb(183,183,183)"/>
<rect x="101.6" y="95.4" width="1" height="1" fill="rgb(170,170,170)"/>
<rect x="92.3" y="91.9" width="1" height="1" fill="rgb(157,157,157)"/>
<rect x="97.2" y="91.5" width="1" height="1" fill="rgb(168,168,168)"/>
<rect x="113.9" y="110.9" width="1" height="1" fill="rgb(160,160,160)"/>
<rect x="107.2" y="76.8" width="1" height="1" fill="rgb(117,117,117)"/>
<rect x="109.2" y="105.0" width="1" height="1" fill="rgb(117,117,117)"/>
<rect x="121.9" y="94.2" width="1" height="1" fill="rgb(163,163,163)"/>
<rect x="97.0" y="80.2" width="1" height="1" fill="rgb(184,184,184)"/>
<rect x="108.6" y="101.7" width="1" height="1" fill="rgb(161,161,161)"/>
<rect x="123.1" y="87.8" width="1" height="1" fill="rgb(138,138,138)"/>
<rect x="139.9" y="92.1" width="1" height="1" fill="rgb(169,169,169)"/>
<rect x="110.9" y="99.3" width="1" height="1" fill="rgb(118,118,118)"/>
<rect x="115.6" y="77.4" width="1" height="1" fill="rgb(170,170,170)"/>
<rect x="97.4" y="78.3" width="1" height="1" fill="rgb(128,128,128)"/>
<rect x="99.1" y="106.9" width="1" height="1" fill="rgb(162,162,162)"/>
<rect x="99.6" y="95.2" width="1" height="1" fill="rgb(180,180,180)"/>
<rect x="97.1" y="76.3" width="1" height="1" fill="rgb(170,170,170)"/>
<rect x="95.1" y="111.7" width="1" height="1" fill="rgb(144,144,144)"/>
<rect x="267.4" y="106.2" width="1" height="1" fill="rgb(164,164,164)"/>
<rect x="264.4" y="87.5" width="1" height="1" fill="rgb(145,145,145)"/>
<rect x="227.1" y="103.2" width="1" height="1" fill="rgb(151,151,151)"/>
<rect x="241.3" y="82.7" width="1" height="1" fill="rgb(120,120,120)"/>
<rect x="262.2" y="76.7" width="1" height="1" fill="rgb(148,148,148)"/>
<rect x="284.9" y="49.0" width="1" height="1" fill="rgb(182,182,182)"/>
<rect x="290.8" y="115.0" width="1" height="1" fill="rgb(127,127,127)"/>
<rect x="247.2" y="75.1" width="1" height="1" fill="rgb(184,184,184)"/>
<rect x="187.2" y="44.8" width="1" height="1" fill="rgb(119,119,119)"/>
<rect x="261.8" y="66.5" width="1" height="1" fill="rgb(122,122,122)"/>
<rect x="252.8" y="121.4" width="1" height="1" fill="rgb(133,133,133)"/>
<rect x="275.8" y="75.3" width="1" height="1" fill="rgb(129,129,129)"/>
<rect x="209.8" y="80.3" width="1" height="1" fill="rgb(178,178,178)"/>
<rect x="205.0" y="124.7" width="1" height="1" fill="rgb(187,187,187)"/>
<rect x="299.1" y="52.0" width="1" height="1" fill="rgb(180,180,180)"/>
<rect x="277.2" y="120.0" width="1" height="1" fill="rgb(135,135,135)"/>
<rect x="243.0" y="63.1" width="1" height="1" fill="rgb(120,120,120)"/>
<rect x="271.8" y="83.6" width="1" height="1" fill="rgb(124,124,124)"/>
<rect x="250.1" y="67.8" width="1" height="1" fill="rgb(139,139,139)"/>
<rect x="281.7" y="86.8" width="1" height="1" fill="rgb(181,181,181)"/>
<rect x="192.3" y="86.2" width="1" height="1" fill="rgb(128,128,128)"/>
<rect x="267.0" y="66.2" width="1" height="1" fill="rgb(131,131,131)"/>
<rect x="248.2" y="122.1" width="1" height="1" fill="rgb(110,110,110)"/>
<rect x="204.1" y="72.9" width="1" height="1" fill="rgb(182,182,182)"/>
<rect x="243.4" y="70.8" width="1" height="1" fill="rgb(169,169,169)"/>
<rect x="229.1" y="81.8" width="1" height="1" fill="rgb(119,119,119)"/>
<rect x="206.5" y="76.5" width="1" height="1" fill="rgb(113,113,113)"/>
<rect x="187.9" y="48.0" width="1" height="1" fill="rgb(152,152,152)"/>
<rect x="279.5" y="52.3" width="1" height="1" fill="rgb(171,171,171)"/>
<rect x="241.9" y="125.3" width="1" height="1" fill="rgb(114,114,114)"/>
<rect x="210.3" y="81.5" width="1" height="1" fill="rgb(126,126,126)"/>
<rect x="224.9" y="122.0" width="1" height="1" fill="rgb(156,156,156)"/>
<rect x="225.2" y="114.5" width="1" height="1" fill="rgb(180,180,180)"/>
<rect x="275.1" y="62.9" width="1" height="1" fill="rgb(165,165,165)"/>
<rect x="225.3" y="66.6" width="1" height="1" fill="rgb(116,116,116)"/>
<rect x="281.6" y="70.4" width="1" height="1" fill="rgb(173,173,173)"/>
<rect x="232.5" y="89.5" width="1" height="1" fill="rgb(144,144,144)"/>
<rect x="287.0" y="75.1" width="1" height="1" fill="rgb(136,136,136)"/>
<rect x="261.6" y="115.7" width="1" height="1" fill="rgb(152,152,152)"/>
<rect x="207.9" y="108.6" width="1" height="1" fill="rgb(126,126,126)"/>
<rect x="253.7" y="113.5" width="1" height="1" fill="rgb(115,115,115)"/>
<rect x="231.9" y="108.8" width="1" height="1" fill="rgb(161,161,161)"/>
<rect x="248.9" y="79.7" width="1" height="1" fill="rgb(148,148,148)"/>
<rect x="198.1" y="79.5" width="1" height="1" fill="rgb(170,170,170)"/>
<rect x="256.3" y="114.8" width="1" height="1" fill="rgb(174,174,174)"/>
<rect x="291.3" y="112.2" width="1" height="1" fill="rgb(188,188,188)"/>
<rect x="202.6" y="115.7" width="1" height="1" fill="rgb(186,186,186)"/>
<rect x="287.4" y="81.6" width="1" height="1" fill="rgb(115,115,115)"/>
<rect x="263.1" y="103.3" width="1" height="1" fill="rgb(132,132,132)"/>
<rect x="197.3" y="87.3" width="1" height="1" fill="rgb(114,114,114)"/>
<rect x="234.5" y="82.6" width="1" height="1" fill="rgb(111,111,111)"/>
<rect x="228.4" y="124.3" width="1" height="1" fill="rgb(149,149,149)"/>
<rect x="250.9" y="91.7" width="1" height="1" fill="rgb(148,148,148)"/>
<rect x="207.0" y="78.8" width="1" height="1" fill="rgb(112,112,112)"/>
<rect x="235.6" y="113.9" width="1" height="1" fill="rgb(116,116,116)"/>
<rect x="243.4" y="107.0" width="1" height="1" fill="rgb(125,125,125)"/>
<rect x="275.5" y="101.1" width="1" height="1" fill="rgb(161,161,161)"/>
<rect x="237.4" y="77.6" width="1" height="1" fill="rgb(159,159,159)"/>
<rect x="254.6" y="134.2" width="1" height="1" fill="rgb(129,129,129)"/>
<rect x="240.8" y="100.6" width="1" height="1" fill="rgb(123,123,123)"/>
<rect x="195.1" y="104.1" width="1" height="1" fill="rgb(129,129,129)"/>
<rect x="258.4" y="101.5" width="1" height="1" fill="rgb(111,111,111)"/>
<rect x="265.0" y="83.8" width="1" height="1" fill="rgb(121,121,121)"/>
<rect x="210.9" y="83.8" width="1" height="1" fill="rgb(170,170,170)"/>
<rect x="187.6" y="118.4" width="1" height="1" fill="rgb(141,141,141)"/>
<rect x="237.9" y="119.8" width="1" height="1" fill="rgb(116,116,116)"/>
<rect x="228.1" y="120.0" width="1" height="1" fill="rgb(128,128,128)"/>
<rect x="270.4" y="81.7" width="1" height="1" fill="rgb(190,190,190)"/>
<rect x="250.3" y="105.6" width="1" height="1" fill="rgb(142,142,142)"/>
<rect x="291.7" y="79.8" width="1" height="1" fill="rgb(114,114,114)"/>
<rect x="186.8" y="77.7" width="1" height="1" fill="rgb(189,189,189)"/>
<rect x="194.8" y="94.8" width="1" height="1" fill="rgb(186,186,186)"/>
<rect x="204.8" y="126.6" width="1" height="1" fill="rgb(172,172,172)"/>
<rect x="256.3" y="95.1" width="1" height="1" fill="rgb(183,183,183)"/>
<rect x="270.1" y="104.0" width="1" height="1" fill="rgb(131,131,131)"/>
<rect x="202.4" y="122.9" width="1" height="1" fill="rgb(156,156,156)"/>
<rect x="296.4" y="86.3" width="1" height="1" fill="rgb(163,163,163)"/>
<rect x="241.0" y="121.8" width="1" height="1" fill="rgb(167,167,167)"/>
<rect x="295.4" y="122.2" width="1" height="1" fill="rgb(182,182,182)"/>
<rect x="224.3" y="93.0" width="1" height="1" fill="rgb(189,189,189)"/>
<rect x="298.8" y="117.4" width="1" height="1" fill="rgb(186,186,186)"/>
<rect x="224.1" y="111.8" width="1" height="1" fill="rgb(111,111,111)"/>
<rect x="282.2" y="111.5" width="1" height="1" fill="rgb(149,149,149)"/>
<rect x="253.5" y="133.2" width="1" height="1" fill="rgb(141,141,141)"/>
<rect x="229.3" y="116.4" width="1" height="1" fill="rgb(187,187,187)"/>
<rect x="275.2" y="90.3" width="1" height="1" fill="rgb(167,167,167)"/>
<rect x="218.4" y="76.9" width="1" height="1" fill="rgb(143,143,143)"/>
<rect x="216.7" y="85.9" width="1" height="1" fill="rgb(115,115,115)"/>
<rect x="219.1" y="84.9" width="1" height="1" fill="rgb(183,183,183)"/>
<rect x="202.6" y="133.2" width="1" height="1" fill="rgb(180,180,180)"/>
<rect x="207.4" y="65.3" width="1" height="1" fill="rgb(154,154,154)"/>
<rect x="202.0" y="95.2" width="1" height="1" fill="rgb(172,172,172)"/>
<rect x="224.6" y="88.9" width="1" height="1" fill="rgb(139,139,139)"/>
<rect x="219.5" y="105.2" width="1" height="1" fill="rgb(160,160,160)"/>
<rect x="210.9" y="102.3" width="1" height="1" fill="rgb(142,142,142)"/>
<rect x="219.6" y="98.6" width="1" height="1" fill="rgb(159,159,159)"/>
<rect x="214.9" y="101.6" width="1" height="1" fill="rgb(155,155,155)"/>
<rect x="223.1" y="87.5" width="1" height="1" fill="rgb(184,184,184)"/>
<rect x="209.2" y="98.1" width="1" height="1" fill="rgb(176,176,176)"/>
<rect x="213.3" y="118.0" width="1" height="1" fill="rgb(135,135,135)"/>
<rect x="225.4" y="110.1" width="1" height="1" fill="rgb(133,133,133)"/>
<rect x="226.1" y="86.6" width="1" height="1" fill="rgb(183,183,183)"/>
<rect x="206.6" y="93.0" width="1" height="1" fill="rgb(176,176,176)"/>
<rect x="229.0" y="89.8" width="1" height="1" fill="rgb(173,173,173)"/>
<rect x="216.2" y="105.5" width="1" height="1" fill="rgb(190,190,190)"/>
<rect x="215.1" y="101.4" width="1" height="1" fill="rgb(150,150,150)"/>
<rect x="209.4" y="90.8" width="1" height="1" fill="rgb(176,176,176)"/>
<rect x="215.9" y="95.1" width="1" height="1" fill="rgb(136,136,136)"/>
<rect x="253.5" y="97.7" width="1" height="1" fill="rgb(172,172,172)"/>
<rect x="212.0" y="93.7" width="1" height="1" fill="rgb(145,145,145)"/>
<rect x="186.9" y="118.3" width="1" height="1" fill="rgb(185,185,185)"/>
<rect x="238.8" y="60.1" width="1" height="1" fill="rgb(142,142,142)"/>
<rect x="229.6" y="86.9" width="1" height="1" fill="rgb(133,133,133)"/>
<rect x="218.8" y="102.6" width="1" height="1" fill="rgb(114,114,114)"/>
<rect x="191.2" y="87.7" width="1" height="1" fill="rgb(168,168,168)"/>
<rect x="190.7" y="102.5" width="1" height="1" fill="rgb(118,118,118)"/>
<rect x="236.4" y="81.4" width="1" height="1" fill="rgb(125,125,125)"/>
<rect x="219.6" y="92.7" width="1" height="1" fill="rgb(150,150,150)"/>
<rect x="200.5" y="90.2" width="1" height="1" fill="rgb(174,174,174)"/>
<rect x="207.8" y="111.3" width="1" height="1" fill="rgb(130,130,130)"/>
<rect x="213.4" y="108.8" width="1" height="1" fill="rgb(138,138,138)"/>
<rect x="226.7" y="97.7" width="1" height="1" fill="rgb(180,180,180)"/>
<rect x="246.7" y="81.5" width="1" height="1" fill="rgb(116,116,116)"/>
<rect x="220.5" y="120.2" width="1" height="1" fill="rgb(171,171,171)"/>
<rect x="229.9" y="103.1" width="1" height="1" fill="rgb(110,110,110)"/>
<rect x="243.8" y="90.3" width="1" height="1" fill="rgb(148,148,148)"/>
<rect x="206.9" y="90.0" width="1" height="1" fill="rgb(123,123,123)"/>
<rect x="206.3" y="102.8" width="1" height="1" fill="rgb(159,159,159)"/>
<rect x="234.5" y="113.5" width="1" height="1" fill="rgb(131,131,131)"/>
<rect x="194.4" y="110.9" width="1" height="1" fill="rgb(111,111,111)"/>
<rect x="186.9" y="107.3" width="1" height="1" fill="rgb(114,114,114)"/>
<rect x="238.2" y="126.6" width="1" height="1" fill="rgb(119,119,119)"/>
<rect x="250.9" y="86.0" width="1" height="1" fill="rgb(127,127,127)"/>
<rect x="228.6" y="57.7" width="1" height="1" fill="rgb(159,159,159)"/>
<rect x="233.8" y="79.8" width="1" height="1" fill="rgb(167,167,167)"/>
<rect x="235.4" y="97.2" width="1" height="1" fill="rgb(139,139,139)"/>
<rect x="199.2" y="103.2" width="1" height="1" fill="rgb(128,128,128)"/>
<rect x="208.6" y="123.9" width="1" height="1" fill="rgb(133,133,133)"/>
<rect x="216.9" y="78.8" width="1" height="1" fill="rgb(128,128,128)"/>
<rect x="213.1" y="103.4" width="1" height="1" fill="rgb(163,163,163)"/>
<rect x="213.6" y="105.0" width="1" height="1" fill="rgb(144,144,144)"/>
<rect x="209.4" y="93.6" width="1" height="1" fill="rgb(131,131,131)"/>
<rect x="221.0" y="108.0" width="1" height="1" fill="rgb(168,168,168)"/>
<rect x="228.0" y="95.0" width="1" height="1" fill="rgb(175,175,175)"/>
<rect x="253.3" y="112.4" width="1" height="1" fill="rgb(137,137,137)"/>
<rect x="193.2" y="87.9" width="1" height="1" fill="rgb(125,125,125)"/>
<rect x="221.0" y="111.2" width="1" height="1" fill="rgb(156,156,156)"/>
<rect x="210.2" y="105.3" width="1" height="1" fill="rgb(140,140,140)"/>
<rect x="228.0" y="96.3" width="1" height="1" fill="rgb(147,147,147)"/>
<rect x="213.3" y="104.9" width="1" height="1" fill="rgb(147,147,147)"/>
<rect x="235.6" y="118.9" width="1" height="1" fill="rgb(166,166,166)"/>
<rect x="226.6" y="85.3" width="1" height="1" fill="rgb(127,127,127)"/>
<rect x="195.0" y="110.3" width="1" height="1" fill="rgb(177,177,177)"/>
<rect x="218.1" y="115.4" width="1" height="1" fill="rgb(115,115,115)"/>
<rect x="231.1" y="93.5" width="1" height="1" fill="rgb(183,183,183)"/>
<rect x="234.5" y="129.5" width="1" height="1" fill="rgb(176,176,176)"/>
<rect x="224.7" y="73.2" width="1" height="1" fill="rgb(135,135,135)"/>
<rect x="197.2" y="80.9" width="1" height="1" fill="rgb(187,187,187)"/>
<rect x="218.2" y="71.2" width="1" height="1" fill="rgb(132,132,132)"/>
<rect x="227.5" y="122.3" width="1" height="1" fill="rgb(190,190,190)"/>
<rect x="229.5" y="79.0" width="1" height="1" fill="rgb(135,135,135)"/>
<rect x="246.0" y="101.4" width="1" height="1" fill="rgb(176,176,176)"/>
<rect x="200.1" y="114.6" width="1" height="1" fill="rgb(117,117,117)"/>
<rect x="206.8" y="98.0" width="1" height="1" fill="rgb(146,146,146)"/>
<rect x="239.0" y="71.3" width="1" height="1" fill="rgb(173,173,173)"/>
<rect x="235.3" y="109.2" width="1" height="1" fill="rgb(171,171,171)"/>
<rect x="237.3" y="118.5" width="1" height="1" fill="rgb(141,141,141)"/>
<rect x="233.3" y="129.3" width="1" height="1" fill="rgb(156,156,156)"/>
<rect x="245.7" y="105.8" width="1" height="1" fill="rgb(183,183,183)"/>
<rect x="220.2" y="98.9" width="1" height="1" fill="rgb(176,176,176)"/>
<rect x="259.8" y="81.3" width="1" height="1" fill="rgb(119,119,119)"/>
<rect x="239.9" y="118.3" width="1" height="1" fill="rgb(151,151,151)"/>
<rect x="227.4" y="66.2" width="1" height="1" fill="rgb(183,183,183)"/>
<rect x="221.5" y="93.8" width="1" height="1" fill="rgb(123,123,123)"/>
<rect x="239.4" y="94.1" width="1" height="1" fill="rgb(175,175,175)"/>
<rect x="250.0" y="104.7" width="1" height="1" fill="rgb(127,127,127)"/>
<rect x="263.0" y="105.6" width="1" height="1" fill="rgb(138,138,138)"/>
<rect x="214.4" y="92.8" width="1" height="1" fill="rgb(149,149,149)"/>
<rect x="228.6" y="101.2" width="1" height="1" fill="rgb(134,134,134)"/>
<rect x="209.8" y="85.4" width="1" height="1" fill="rgb(140,140,140)"/>
<rect x="219.3" y="92.2" width="1" height="1" fill="rgb(122,122,122)"/>
<rect x="220.5" y="94.7" width="1" height="1" fill="rgb(125,125,125)"/>
<rect x="200.8" y="104.7" width="1" height="1" fill="rgb(145,145,145)"/>
<rect x="227.8" y="105.3" width="1" height="1" fill="rgb(127,127,127)"/>
<rect x="210.4" y="96.6" width="1" height="1" fill="rgb(139,139,139)"/>
<rect x="234.1" y="117.5" width="1" height="1" fill="rgb(160,160,160)"/>
<rect x="236.8" y="127.1" width="1" height="1" fill="rgb(159,159,159)"/>
<rect x="214.0" y="78.3" width="1" height="1" fill="rgb(187,187,187)"/>
<rect x="205.7" y="97.1" width="1" height="1" fill="rgb(116,116,116)"/>
<rect x="223.9" y="84.6" width="1" height="1" fill="rgb(140,140,140)"/>
<rect x="234.9" y="76.9" width="1" height="1" fill="rgb(182,182,182)"/>
<rect x="233.3" y="64.4" width="1" height="1" fill="rgb(161,161,161)"/>
<rect x="224.6" y="95.2" width="1" height="1" fill="rgb(176,176,176)"/>
<rect x="236.1" y="120.2" width="1" height="1" fill="rgb(155,155,155)"/>
<rect x="221.6" y="117.6" width="1" height="1" fill="rgb(190,190,190)"/>
<rect x="229.2" y="100.4" width="1" height="1" fill="rgb(133,133,133)"/>
<rect x="237.0" y="107.4" width="1" height="1" fill="rgb(174,174,174)"/>
<rect x="215.9" y="89.2" width="1" height="1" fill="rgb(163,163,163)"/>
<rect x="248.7" y="94.2" width="1" height="1" fill="rgb(168,168,168)"/>
<rect x="202.0" y="76.8" width="1" height="1" fill="rgb(115,115,115)"/>
<rect x="243.9" y="105.0" width="1" height="1" fill="rgb(144,144,144)"/>
<rect x="241.0" y="88.1" width="1" height="1" fill="rgb(190,190,190)"/>
<rect x="186.4" y="89.7" width="1" height="1" fill="rgb(189,189,189)"/>
<rect x="228.1" y="104.9" width="1" height="1" fill="rgb(111,111,111)"/>
<rect x="185.6" y="116.7" width="1" height="1" fill="rgb(146,146,146)"/>
<rect x="232.7" y="110.0" width="1" height="1" fill="rgb(131,131,131)"/>
<rect x="237.1" y="115.5" width="1" height="1" fill="rgb(175,175,175)"/>
<rect x="227.0" y="95.7" width="1" height="1" fill="rgb(185,185,185)"/>
<rect x="212.6" y="97.8" width="1" height="1" fill="rgb(125,125,125)"/>
<rect x="188.3" y="97.2" width="1" height="1" fill="rgb(162,162,162)"/>
<rect x="210.2" y="93.4" width="1" height="1" fill="rgb(121,121,121)"/>
<rect x="220.7" y="85.8" width="1" height="1" fill="rgb(168,168,168)"/>
<rect x="205.5" y="85.7" width="1" height="1" fill="rgb(159,159,159)"/>
<rect x="229.1" y="125.3" width="1" height="1" fill="rgb(168,168,168)"/>
<rect x="232.1" y="90.7" width="1" height="1" fill="rgb(171,171,171)"/>
<rect x="208.0" y="102.6" width="1" height="1" fill="rgb(141,141,141)"/>
<rect x="216.3" y="109.3" width="1" height="1" fill="rgb(179,179,179)"/>
<rect x="205.7" y="114.9" width="1" height="1" fill="rgb(111,111,111)"/>
<rect x="230.0" y="95.2" width="1" height="1" fill="rgb(140,140,140)"/>
<rect x="215.1" y="113.3" width="1" height="1" fill="rgb(144,144,144)"/>
<rect x="213.7" y="127.9" width="1" height="1" fill="rgb(130,130,130)"/>
<rect x="200.8" y="92.5" width="1" height="1" fill="rgb(154,154,154)"/>
<rect x="216.2" y="102.0" width="1" height="1" fill="rgb(159,159,159)"/>
<rect x="229.1" y="86.1" width="1" height="1" fill="rgb(123,123,123)"/>
<rect x="205.1" y="64.2" width="1" height="1" fill="rgb(163,163,163)"/>
<rect x="213.7" y="113.3" width="1" height="1" fill="rgb(135,135,135)"/>
<rect x="198.3" y="77.7" width="1" height="1" fill="rgb(176,176,176)"/>
<rect x="247.6" y="118.6" width="1" height="1" fill="rgb(170,170,170)"/>
<rect x="218.9" y="123.6" width="1" height="1" fill="rgb(190,190,190)"/>
<rect x="228.7" y="95.3" width="1" height="1" fill="rgb(123,123,123)"/>
<rect x="248.7" y="100.6" width="1" height="1" fill="rgb(184,184,184)"/>
<rect x="233.4" y="111.3" width="1" height="1" fill="rgb(183,183,183)"/>
<rect x="239.9" y="126.5" width="1" height="1" fill="rgb(145,145,145)"/>
<rect x="236.8" y="83.1" width="1" height="1" fill="rgb(158,158,158)"/>
<rect x="236.2" y="78.8" width="1" height="1" fill="rgb(146,146,146)"/>
<rect x="219.3" y="85.8" width="1" height="1" fill="rgb(160,160,160)"/>
<rect x="200.3" y="96.1" width="1" height="1" fill="rgb(151,151,151)"/>
<rect x="248.0" y="101.0" width="1" height="1" fill="rgb(173,173,173)"/>
<rect x="211.6" y="109.6" width="1" height="1" fill="rgb(178,178,178)"/>
<rect x="218.5" y="108.8" width="1" height="1" fill="rgb(183,183,183)"/>
<rect x="213.2" y="108.4" width="1" height="1" fill="rgb(152,152,152)"/>
<rect x="207.7" y="129.1" width="1" height="1" fill="rgb(141,141,141)"/>
<rect x="232.0" y="96.9" width="1" height="1" fill="rgb(164,164,164)"/>
<rect x="252.5" y="73.0" width="1" height="1" fill="rgb(113,113,113)"/>
<rect x="241.2" y="106.2" width="1" height="1" fill="rgb(173,173,173)"/>
<rect x="215.4" y="119.9" width="1" height="1" fill="rgb(149,149,149)"/>
<rect x="202.3" y="97.6" width="1" height="1" fill="rgb(165,165,165)"/>
<rect x="209.9" y="110.0" width="1" height="1" fill="rgb(186,186,186)"/>
<rect x="213.6" y="83.1" width="1" height="1" fill="rgb(111,111,111)"/>
<rect x="212.8" y="81.2" width="1" height="1" fill="rgb(122,122,122)"/>
<rect x="205.6" y="110.6" width="1" height="1" fill="rgb(181,181,181)"/>
<rect x="229.8" y="95.5" width="1" height="1" fill="rgb(134,134,134)"/>
<rect x="239.5" y="95.5" width="1" height="1" fill="rgb(166,166,166)"/>
<rect x="225.2" y="63.6" width="1" height="1" fill="rgb(185,185,185)"/>
<rect x="210.6" y="117.2" width="1" height="1" fill="rgb(121,121,121)"/>
<rect x="228.2" y="112.9" width="1" height="1" fill="rgb(119,119,119)"/>
<rect x="230.3" y="81.7" width="1" height="1" fill="rgb(124,124,124)"/>
<rect x="214.0" y="88.0" width="1" height="1" fill="rgb(153,153,153)"/>
<rect x="242.4" y="53.1" width="1" height="1" fill="rgb(163,163,163)"/>
<rect x="208.3" y="84.6" width="1" height="1" fill="rgb(175,175,175)"/>
<rect x="216.7" y="102.9" width="1" height="1" fill="rgb(182,182,182)"/>
<rect x="209.6" y="90.2" width="1" height="1" fill="rgb(190,190,190)"/>
<rect x="218.4" y="96.0" width="1" height="1" fill="rgb(162,162,162)"/>
<rect x="222.7" y="99.9" width="1" height="1" fill="rgb(180,180,180)"/>
<rect x="235.1" y="100.2" width="1" height="1" fill="rgb(122,122,122)"/>
<rect x="201.1" y="86.8" width="1" height="1" fill="rgb(135,135,135)"/>
<rect x="233.9" y="125.7" width="1" height="1" fill="rgb(182,182,182)"/>
<rect x="219.2" y="124.2" width="1" height="1" fill="rgb(178,178,178)"/>
<rect x="212.6" y="98.9" width="1" height="1" fill="rgb(135,135,135)"/>
<rect x="214.6" y="104.4" width="1" height="1" fill="rgb(130,130,130)"/>
<rect x="202.5" y="97.5" width="1" height="1" fill="rgb(113,113,113)"/>
<rect x="229.4" y="105.9" width="1" height="1" fill="rgb(176,176,176)"/>
<rect x="203.6" y="100.9" width="1" height="1" fill="rgb(165,165,165)"/>
<rect x="223.5" y="94.1" width="1" height="1" fill="rgb(111,111,111)"/>
<rect x="213.1" y="79.3" width="1" height="1" fill="rgb(128,128,128)"/>
<rect x="218.3" y="84.3" width="1" height="1" fill="rgb(131,131,131)"/>
<rect x="243.5" y="104.7" width="1" height="1" fill="rgb(184,184,184)"/>
<rect x="231.1" y="104.1" width="1" height="1" fill="rgb(189,189,189)"/>
<rect x="217.5" y="103.6" width="1" height="1" fill="rgb(160,160,160)"/>
<rect x="186.3" y="78.4" width="1" height="1" fill="rgb(166,166,166)"/>
<rect x="232.6" y="104.0" width="1" height="1" fill="rgb(138,138,138)"/>
<rect x="257.1" y="110.5" width="1" height="1" fill="rgb(132,132,132)"/>
<rect x="227.0" y="86.6" width="1" height="1" fill="rgb(187,187,187)"/>
<rect x="227.4" y="99.0" width="1" height="1" fill="rgb(159,159,159)"/>
<rect x="211.9" y="79.7" width="1" height="1" fill="rgb(162,162,162)"/>
<rect x="193.2" y="102.8" width="1" height="1" fill="rgb(141,141,141)"/>
<rect x="229.8" y="105.2" width="1" height="1" fill="rgb(158,158,158)"/>
<rect x="216.3" y="120.9" width="1" height="1" fill="rgb(124,124,124)"/>
<rect x="205.0" y="129.4" width="1" height="1" fill="rgb(152,152,152)"/>
<rect x="216.7" y="103.4" width="1" height="1" fill="rgb(125,125,125)"/>
<rect x="190.3" y="117.4" width="1" height="1" fill="rgb(180,180,180)"/>
<rect x="221.8" y="110.9" width="1" height="1" fill="rgb(146,146,146)"/>
<rect x="211.9" y="114.9" width="1" height="1" fill="rgb(145,145,145)"/>
<rect x="214.0" y="86.5" width="1" height="1" fill="rgb(129,129,129)"/>
<rect x="221.9" y="108.8" width="1" height="1" fill="rgb(135,135,135)"/>
<rect x="233.5" y="113.0" width="1" height="1" fill="rgb(140,140,140)"/>
<rect x="229.6" y="113.2" width="1" height="1" fill="rgb(161,161,161)"/>
<rect x="192.6" y="129.8" width="1" height="1" fill="rgb(136,136,136)"/>
<rect x="216.2" y="118.3" width="1" height="1" fill="rgb(136,136,136)"/>
<rect x="224.0" y="118.3" width="1" height="1" fill="rgb(126,126,126)"/>
<rect x="207.3" y="89.4" width="1" height="1" fill="rgb(157,157,157)"/>
<rect x="205.6" y="96.1" width="1" height="1" fill="rgb(175,175,175)"/>
<rect x="235.3" y="114.0" width="1" height="1" fill="rgb(179,179,179)"/>
<rect x="237.1" y="77.5" width="1" height="1" fill="rgb(159,159,159)"/>
<rect x="246.6" y="104.7" width="1" height="1" fill="rgb(128,128,128)"/>
<rect x="215.6" y="115.5" width="1" height="1" fill="rgb(121,121,121)"/>
<rect x="212.1" y="72.1" width="1" height="1" fill="rgb(139,139,139)"/>
<rect x="211.3" y="122.4" width="1" height="1" fill="rgb(123,123,123)"/>
<rect x="253.7" y="115.4" width="1" height="1" fill="rgb(174,174,174)"/>
<rect x="222.1" y="88.7" width="1" height="1" fill="rgb(149,149,149)"/>
<rect x="232.7" y="107.2" width="1" height="1" fill="rgb(161,161,161)"/>
<rect x="218.2" y="116.7" width="1" height="1" fill="rgb(169,169,169)"/>
<rect x="226.7" y="65.0" width="1" height="1" fill="rgb(126,126,126)"/>
<rect x="230.7" y="95.7" width="1" height="1" fill="rgb(156,156,156)"/>
<rect x="211.4" y="77.1" width="1" height="1" fill="rgb(154,154,154)"/>
<rect x="224.4" y="97.5" width="1" height="1" fill="rgb(169,169,169)"/>
<rect x="208.0" y="119.0" width="1" height="1" fill="rgb(133,133,133)"/>
<rect x="218.2" y="112.9" width="1" height="1" fill="rgb(187,187,187)"/>
<rect x="219.0" y="73.1" width="1" height="1" fill="rgb(115,115,115)"/>
<rect x="203.4" y="112.9" width="1" height="1" fill="rgb(165,165,165)"/>
<rect x="225.9" y="113.5" width="1" height="1" fill="rgb(158,158,158)"/>
<rect x="220.0" y="78.3" width="1" height="1" fill="rgb(190,190,190)"/>
<rect x="215.0" y="91.6" width="1" height="1" fill="rgb(139,139,139)"/>
<rect x="198.5" y="88.3" width="1" height="1" fill="rgb(142,142,142)"/>
<rect x="242.8" y="88.4" width="1" height="1" fill="rgb(183,183,183)"/>
<rect x="221.1" y="100.4" width="1" height="1" fill="rgb(146,146,146)"/>
<rect x="248.0" y="79.6" width="1" height="1" fill="rgb(184,184,184)"/>
<rect x="217.6" y="96.5" width="1" height="1" fill="rgb(141,141,141)"/>
<rect x="219.7" y="95.6" width="1" height="1" fill="rgb(150,150,150)"/>
<rect x="221.5" y="92.6" width="1" height="1" fill="rgb(160,160,160)"/>
<rect x="243.6" y="99.5" width="1" height="1" fill="rgb(138,138,138)"/>
<rect x="220.1" y="107.0" width="1" height="1" fill="rgb(164,164,164)"/>
<rect x="207.8" y="105.3" width="1" height="1" fill="rgb(174,174,174)"/>
<rect x="219.3" y="67.9" width="1" height="1" fill="rgb(190,190,190)"/>
<rect x="205.1" y="59.2" width="1" height="1" fill="rgb(136,136,136)"/>
<rect x="199.8" y="71.5" width="1" height="1" fill="rgb(126,126,126)"/>
<rect x="209.3" y="67.2" width="1" height="1" fill="rgb(181,181,181)"/>
<rect x="221.6" y="78.1" width="1" height="1" fill="rgb(140,140,140)"/>
<rect x="207.5" y="64.9" width="1" height="1" fill="rgb(117,117,117)"/>
<rect x="233.5" y="74.0" width="1" height="1" fill="rgb(121,121,121)"/>
<rect x="229.2" y="74.2" width="1" height="1" fill="rgb(127,127,127)"/>
<rect x="213.6" y="57.2" width="1" height="1" fill="rgb(171,171,171)"/>
<rect x="224.7" y="73.5" width="1" height="1" fill="rgb(175,175,175)"/>
<rect x="219.3" y="62.3" width="1" height="1" fill="rgb(154,154,154)"/>
<rect x="219.7" y="62.2" width="1" height="1" fill="rgb(128,128,128)"/>
<rect x="209.6" y="63.3" width="1" height="1" fill="rgb(190,190,190)"/>
<rect x="234.6" y="56.4" width="1" height="1" fill="rgb(131,131,131)"/>
<rect x="217.9" y="62.1" width="1" height="1" fill="rgb(169,169,169)"/>
<rect x="235.5" y="59.0" width="1" height="1" fill="rgb(136,136,136)"/>
<rect x="237.2" y="71.7" width="1" height="1" fill="rgb(156,156,156)"/>
<rect x="217.0" y="67.0" width="1" height="1" fill="rgb(145,145,145)"/>
<rect x="220.0" y="70.9" width="1" height="1" fill="rgb(149,149,149)"/>
<rect x="213.3" y="68.2" width="1" height="1" fill="rgb(151,151,151)"/>
<rect x="196.6" y="70.8" width="1" height="1" fill="rgb(147,147,147)"/>
<rect x="227.7" y="69.8" width="1" height="1" fill="rgb(111,111,111)"/>
<rect x="187.2" y="68.2" width="1" height="1" fill="rgb(152,152,152)"/>
<rect x="251.6" y="65.4" width="1" height="1" fill="rgb(123,123,123)"/>
<rect x="189.7" y="49.0" width="1" height="1" fill="rgb(172,172,172)"/>
<rect x="233.7" y="77.3" width="1" height="1" fill="rgb(111,111,111)"/>
<rect x="217.4" y="69.8" width="1" height="1" fill="rgb(146,146,146)"/>
<rect x="187.7" y="51.7" width="1" height="1" fill="rgb(142,142,142)"/>
<rect x="218.4" y="63.8" width="1" height="1" fill="rgb(113,113,113)"/>
<rect x="245.3" y="68.2" width="1" height="1" fill="rgb(128,128,128)"/>
<rect x="219.5" y="72.3" width="1" height="1" fill="rgb(177,177,177)"/>
<rect x="252.0" y="49.8" width="1" height="1" fill="rgb(131,131,131)"/>
<rect x="251.6" y="75.4" width="1" height="1" fill="rgb(149,149,149)"/>
<rect x="222.6" y="58.8" width="1" height="1" fill="rgb(133,133,133)"/>
<rect x="211.1" y="60.1" width="1" height="1" fill="rgb(139,139,139)"/>
<rect x="204.6" y="75.2" width="1" height="1" fill="rgb(157,157,157)"/>
<rect x="232.3" y="60.9" width="1" height="1" fill="rgb(117,117,117)"/>
<rect x="251.0" y="69.8" width="1" height="1" fill="rgb(190,190,190)"/>
<rect x="217.7" y="68.5" width="1" height="1" fill="rgb(137,137,137)"/>
<rect x="197.6" y="67.2" width="1" height="1" fill="rgb(130,130,130)"/>
<rect x="253.4" y="66.5" width="1" height="1" fill="rgb(190,190,190)"/>
<rect x="252.9" y="73.4" width="1" height="1" fill="rgb(130,130,130)"/>
<rect x="243.7" y="76.6" width="1" height="1" fill="rgb(161,161,161)"/>
<rect x="228.8" y="68.2" width="1" height="1" fill="rgb(166,166,166)"/>
<rect x="208.2" y="67.6" width="1" height="1" fill="rgb(157,157,157)"/>
<rect x="265.7" y="67.1" width="1" height="1" fill="rgb(175,175,175)"/>
<rect x="207.5" y="70.1" width="1" height="1" fill="rgb(117,117,117)"/>
<rect x="200.6" y="65.9" width="1" height="1" fill="rgb(153,153,153)"/>
<rect x="226.2" y="67.3" width="1" height="1" fill="rgb(132,132,132)"/>
<rect x="234.4" y="63.7" width="1" height="1" fill="rgb(147,147,147)"/>
<rect x="263.2" y="67.2" width="1" height="1" fill="rgb(154,154,154)"/>
<rect x="200.9" y="62.6" width="1" height="1" fill="rgb(179,179,179)"/>
<rect x="212.6" y="75.7" width="1" height="1" fill="rgb(178,178,178)"/>
<rect x="260.5" y="57.0" width="1" height="1" fill="rgb(161,161,161)"/>
<rect x="253.2" y="63.8" width="1" height="1" fill="rgb(117,117,117)"/>
<rect x="220.1" y="58.8" width="1" height="1" fill="rgb(148,148,148)"/>
<rect x="202.4" y="63.1" width="1" height="1" fill="rgb(157,157,157)"/>
<rect x="192.0" y="68.4" width="1" height="1" fill="rgb(148,148,148)"/>
<rect x="241.4" y="58.5" width="1" height="1" fill="rgb(113,113,113)"/>
<rect x="232.5" y="61.6" width="1" height="1" fill="rgb(167,167,167)"/>
<rect x="219.0" y="62.1" width="1" height="1" fill="rgb(184,184,184)"/>
<rect x="203.4" y="75.3" width="1" height="1" fill="rgb(163,163,163)"/>
<rect x="213.1" y="71.9" width="1" height="1" fill="rgb(166,166,166)"/>
<rect x="214.9" y="69.5" width="1" height="1" fill="rgb(133,133,133)"/>
<rect x="238.0" y="65.6" width="1" height="1" fill="rgb(124,124,124)"/>
<rect x="231.0" y="83.7" width="1" height="1" fill="rgb(122,122,122)"/>
<rect x="236.0" y="79.2" width="1" height="1" fill="rgb(172,172,172)"/>
<rect x="227.0" y="76.7" width="1" height="1" fill="rgb(179,179,179)"/>
<rect x="213.8" y="64.9" width="1" height="1" fill="rgb(175,175,175)"/>
<rect x="247.5" y="60.5" width="1" height="1" fill="rgb(162,162,162)"/>
<rect x="206.6" y="52.2" width="1" height="1" fill="rgb(127,127,127)"/>
<rect x="241.7" y="58.2" width="1" height="1" fill="rgb(124,124,124)"/>
<rect x="199.2" y="65.9" width="1" height="1" fill="rgb(160,160,160)"/>
<rect x="232.5" y="76.3" width="1" height="1" fill="rgb(121,121,121)"/>
<rect x="248.3" y="78.6" width="1" height="1" fill="rgb(117,117,117)"/>
<rect x="217.9" y="68.4" width="1" height="1" fill="rgb(115,115,115)"/>
<rect x="252.9" y="68.0" width="1" height="1" fill="rgb(137,137,137)"/>
<rect x="212.7" y="67.9" width="1" height="1" fill="rgb(127,127,127)"/>
<rect x="191.2" y="54.2" width="1" height="1" fill="rgb(182,182,182)"/>
<rect x="250.2" y="76.4" width="1" height="1" fill="rgb(155,155,155)"/>
<rect x="241.4" y="79.8" width="1" height="1" fill="rgb(153,153,153)"/>
<rect x="235.5" y="53.0" width="1" height="1" fill="rgb(111,111,111)"/>
<rect x="228.7" y="62.7" width="1" height="1" fill="rgb(157,157,157)"/>
<rect x="196.8" y="65.9" width="1" height="1" fill="rgb(155,155,155)"/>
<rect x="222.3" y="64.2" width="1" height="1" fill="rgb(187,187,187)"/>
<rect x="211.0" y="73.5" width="1" height="1" fill="rgb(151,151,151)"/>
<rect x="227.0" y="62.6" width="1" height="1" fill="rgb(141,141,141)"/>
<rect x="223.1" y="72.7" width="1" height="1" fill="rgb(167,167,167)"/>
<rect x="187.3" y="72.7" width="1" height="1" fill="rgb(172,172,172)"/>
<rect x="253.9" y="77.1" width="1" height="1" fill="rgb(133,133,133)"/>
<rect x="253.3" y="83.7" width="1" height="1" fill="rgb(158,158,158)"/>
<rect x="238.6" y="56.5" width="1" height="1" fill="rgb(142,142,142)"/>
<rect x="190.8" y="63.5" width="1" height="1" fill="rgb(144,144,144)"/>
<rect x="227.0" y="66.3" width="1" height="1" fill="rgb(153,153,153)"/>
<rect x="248.9" y="66.4" width="1" height="1" fill="rgb(171,171,171)"/>
<rect x="251.1" y="55.2" width="1" height="1" fill="rgb(114,114,114)"/>
<rect x="250.8" y="72.5" width="1" height="1" fill="rgb(186,186,186)"/>
<rect x="204.0" y="73.2" width="1" height="1" fill="rgb(130,130,130)"/>
<rect x="215.1" y="57.6" width="1" height="1" fill="rgb(139,139,139)"/>
<rect x="244.6" y="57.9" width="1" height="1" fill="rgb(119,119,119)"/>
<rect x="206.2" y="75.3" width="1" height="1" fill="rgb(149,149,149)"/>
<rect x="246.6" y="59.4" width="1" height="1" fill="rgb(115,115,115)"/>
<rect x="233.3" y="83.0" width="1" height="1" fill="rgb(169,169,169)"/>
<rect x="211.4" y="75.6" width="1" height="1" fill="rgb(155,155,155)"/>
<rect x="215.7" y="74.3" width="1" height="1" fill="rgb(171,171,171)"/>
<rect x="221.2" y="68.4" width="1" height="1" fill="rgb(168,168,168)"/>
<rect x="245.0" y="58.2" width="1" height="1" fill="rgb(190,190,190)"/>
<rect x="243.5" y="77.4" width="1" height="1" fill="rgb(144,144,144)"/>
<rect x="217.5" y="69.0" width="1" height="1" fill="rgb(143,143,143)"/>
<rect x="205.6" y="76.0" width="1" height="1" fill="rgb(184,184,184)"/>
<rect x="251.1" y="69.3" width="1" height="1" fill="rgb(122,122,122)"/>
<rect x="249.9" y="55.6" width="1" height="1" fill="rgb(183,183,183)"/>
<rect x="209.6" y="60.4" width="1" height="1" fill="rgb(146,146,146)"/>
<rect x="227.8" y="60.4" width="1" height="1" fill="rgb(128,128,128)"/>
<rect x="254.2" y="84.5" width="1" height="1" fill="rgb(153,153,153)"/>
<rect x="257.6" y="79.5" width="1" height="1" fill="rgb(141,141,141)"/>
<rect x="249.5" y="106.1" width="1" height="1" fill="rgb(161,161,161)"/>
<rect x="249.0" y="110.0" width="1" height="1" fill="rgb(151,151,151)"/>
<rect x="274.1" y="79.8" width="1" height="1" fill="rgb(174,174,174)"/>
<rect x="252.5" y="100.4" width="1" height="1" fill="rgb(140,140,140)"/>
<rect x="265.4" y="93.7" width="1" height="1" fill="rgb(136,136,136)"/>
<rect x="282.8" y="94.9" width="1" height="1" fill="rgb(168,168,168)"/>
<rect x="248.5" y="100.6" width="1" height="1" fill="rgb(148,148,148)"/>
<rect x="272.9" y="87.0" width="1" height="1" fill="rgb(128,128,128)"/>
<rect x="255.2" y="103.6" width="1" height="1" fill="rgb(183,183,183)"/>
<rect x="243.9" y="116.6" width="1" height="1" fill="rgb(184,184,184)"/>
<rect x="272.7" y="86.6" width="1" height="1" fill="rgb(148,148,148)"/>
<rect x="245.6" y="110.0" width="1" height="1" fill="rgb(164,164,164)"/>
<rect x="264.1" y="84.9" width="1" height="1" fill="rgb(132,132,132)"/>
<rect x="257.0" y="102.9" width="1" height="1" fill="rgb(112,112,112)"/>
<rect x="259.4" y="77.0" width="1" height="1" fill="rgb(140,140,140)"/>
<rect x="256.1" y="85.7" width="1" height="1" fill="rgb(161,161,161)"/>
<rect x="234.5" y="102.0" width="1" height="1" fill="rgb(146,146,146)"/>
<rect x="269.9" y="80.7" width="1" height="1" fill="rgb(135,135,135)"/>
<rect x="258.7" y="97.9" width="1" height="1" fill="rgb(126,126,126)"/>
<rect x="254.6" y="90.9" width="1" height="1" fill="rgb(183,183,183)"/>
<rect x="255.0" y="99.3" width="1" height="1" fill="rgb(134,134,134)"/>
<rect x="256.3" y="110.9" width="1" height="1" fill="rgb(111,111,111)"/>
<rect x="261.0" y="104.2" width="1" height="1" fill="rgb(113,113,113)"/>
<rect x="251.2" y="84.0" width="1" height="1" fill="rgb(153,153,153)"/>
<rect x="269.4" y="115.1" width="1" height="1" fill="rgb(115,115,115)"/>
<rect x="272.6" y="102.4" width="1" height="1" fill="rgb(173,173,173)"/>
<rect x="270.6" y="92.9" width="1" height="1" fill="rgb(169,169,169)"/>
<rect x="260.4" y="91.8" width="1" height="1" fill="rgb(150,150,150)"/>
<rect x="274.0" y="99.5" width="1" height="1" fill="rgb(152,152,152)"/>
<rect x="259.8" y="95.7" width="1" height="1" fill="rgb(136,136,136)"/>
<rect x="271.3" y="109.8" width="1" height="1" fill="rgb(121,121,121)"/>
<rect x="251.4" y="102.7" width="1" height="1" fill="rgb(154,154,154)"/>
<rect x="243.0" y="90.0" width="1" height="1" fill="rgb(181,181,181)"/>
<rect x="277.8" y="121.6" width="1" height="1" fill="rgb(183,183,183)"/>
<rect x="248.9" y="111.0" width="1" height="1" fill="rgb(143,143,143)"/>
<rect x="263.8" y="81.2" width="1" height="1" fill="rgb(114,114,114)"/>
<rect x="260.2" y="83.6" width="1" height="1" fill="rgb(180,180,180)"/>
<rect x="271.6" y="91.9" width="1" height="1" fill="rgb(145,145,145)"/>
<rect x="249.0" y="105.1" width="1" height="1" fill="rgb(145,145,145)"/>
<rect x="259.6" y="95.0" width="1" height="1" fill="rgb(170,170,170)"/>
<rect x="276.2" y="106.6" width="1" height="1" fill="rgb(156,156,156)"/>
<rect x="268.4" y="107.5" width="1" height="1" fill="rgb(161,161,161)"/>
<rect x="258.7" y="88.6" width="1" height="1" fill="rgb(113,113,113)"/>
<rect x="406.7" y="54.9" width="1" height="1" fill="rgb(179,179,179)"/>
<rect x="392.4" y="94.4" width="1" height="1" fill="rgb(133,133,133)"/>
<rect x="364.2" y="99.1" width="1" height="1" fill="rgb(129,129,129)"/>
<rect x="439.0" y="123.2" width="1" height="1" fill="rgb(130,130,130)"/>
<rect x="395.5" y="75.8" width="1" height="1" fill="rgb(141,141,141)"/>
<rect x="385.4" y="122.2" width="1" height="1" fill="rgb(137,137,137)"/>
<rect x="408.0" y="75.2" width="1" height="1" fill="rgb(159,159,159)"/>
<rect x="387.6" y="73.3" width="1" height="1" fill="rgb(113,113,113)"/>
<rect x="346.6" y="110.7" width="1" height="1" fill="rgb(118,118,118)"/>
<rect x="427.8" y="127.1" width="1" height="1" fill="rgb(154,154,154)"/>
<rect x="341.1" y="95.3" width="1" height="1" fill="rgb(162,162,162)"/>
<rect x="439.5" y="78.1" width="1" height="1" fill="rgb(190,190,190)"/>
<rect x="434.1" y="46.6" width="1" height="1" fill="rgb(112,112,112)"/>
<rect x="364.6" y="83.4" width="1" height="1" fill="rgb(139,139,139)"/>
<rect x="375.3" y="73.5" width="1" height="1" fill="rgb(164,164,164)"/>
<rect x="408.8" y="71.0" width="1" height="1" fill="rgb(173,173,173)"/>
<rect x="359.3" y="95.7" width="1" height="1" fill="rgb(130,130,130)"/>
<rect x="389.6" y="129.0" width="1" height="1" fill="rgb(144,144,144)"/>
<rect x="445.0" y="56.3" width="1" height="1" fill="rgb(148,148,148)"/>
<rect x="366.9" y="74.0" width="1" height="1" fill="rgb(172,172,172)"/>
<rect x="435.4" y="66.6" width="1" height="1" fill="rgb(150,150,150)"/>
<rect x="413.4" y="98.3" width="1" height="1" fill="rgb(167,167,167)"/>
<rect x="358.7" y="48.6" width="1" height="1" fill="rgb(136,136,136)"/>
<rect x="433.0" y="110.9" width="1" height="1" fill="rgb(115,115,115)"/>
<rect x="424.7" y="122.5" width="1" height="1" fill="rgb(133,133,133)"/>
<rect x="384.6" y="56.5" width="1" height="1" fill="rgb(148,148,148)"/>
<rect x="413.7" y="117.2" width="1" height="1" fill="rgb(129,129,129)"/>
<rect x="447.3" y="44.7" width="1" height="1" fill="rgb(148,148,148)"/>
<rect x="351.6" y="110.9" width="1" height="1" fill="rgb(122,122,122)"/>
<rect x="421.4" y="86.2" width="1" height="1" fill="rgb(160,160,160)"/>
<rect x="344.6" y="74.8" width="1" height="1" fill="rgb(160,160,160)"/>
<rect x="436.6" y="133.1" width="1" height="1" fill="rgb(114,114,114)"/>
<rect x="402.1" y="62.2" width="1" height="1" fill="rgb(190,190,190)"/>
<rect x="414.2" y="47.3" width="1" height="1" fill="rgb(174,174,174)"/>
<rect x="403.3" y="96.2" width="1" height="1" fill="rgb(123,123,123)"/>
<rect x="418.8" y="48.2" width="1" height="1" fill="rgb(150,150,150)"/>
<rect x="341.6" y="53.9" width="1" height="1" fill="rgb(172,172,172)"/>
<rect x="446.9" y="91.7" width="1" height="1" fill="rgb(110,110,110)"/>
<rect x="354.9" y="106.3" width="1" height="1" fill="rgb(128,128,128)"/>
<rect x="407.7" y="93.6" width="1" height="1" fill="rgb(124,124,124)"/>
<rect x="395.7" y="125.7" width="1" height="1" fill="rgb(119,119,119)"/>
<rect x="374.7" y="89.3" width="1" height="1" fill="rgb(138,138,138)"/>
<rect x="419.1" y="92.7" width="1" height="1" fill="rgb(132,132,132)"/>
<rect x="335.9" y="92.5" width="1" height="1" fill="rgb(115,115,115)"/>
<rect x="356.9" y="79.6" width="1" height="1" fill="rgb(181,181,181)"/>
<rect x="444.7" y="92.4" width="1" height="1" fill="rgb(151,151,151)"/>
<rect x="414.1" y="114.8" width="1" height="1" fill="rgb(179,179,179)"/>
<rect x="366.9" y="96.0" width="1" height="1" fill="rgb(162,162,162)"/>
<rect x="448.3" y="127.7" width="1" height="1" fill="rgb(144,144,144)"/>
<rect x="380.5" y="95.3" width="1" height="1" fill="rgb(163,163,163)"/>
<rect x="378.6" y="85.6" width="1" height="1" fill="rgb(159,159,159)"/>
<rect x="436.6" y="123.6" width="1" height="1" fill="rgb(110,110,110)"/>
<rect x="361.9" y="106.0" width="1" height="1" fill="rgb(142,142,142)"/>
<rect x="414.7" y="119.3" width="1" height="1" fill="rgb(140,140,140)"/>
<rect x="430.0" y="115.4" width="1" height="1" fill="rgb(121,121,121)"/>
<rect x="432.1" y="122.4" width="1" height="1" fill="rgb(116,116,116)"/>
<rect x="381.3" y="109.3" width="1" height="1" fill="rgb(166,166,166)"/>
<rect x="397.9" y="95.2" width="1" height="1" fill="rgb(183,183,183)"/>
<rect x="334.2" y="120.2" width="1" height="1" fill="rgb(170,170,170)"/>
<rect x="393.4" y="111.3" width="1" height="1" fill="rgb(158,158,158)"/>
<rect x="361.3" y="113.4" width="1" height="1" fill="rgb(158,158,158)"/>
<rect x="375.4" y="80.5" width="1" height="1" fill="rgb(177,177,177)"/>
<rect x="365.1" y="115.2" width="1" height="1" fill="rgb(151,151,151)"/>
<rect x="342.5" y="123.2" width="1" height="1" fill="rgb(138,138,138)"/>
<rect x="441.5" y="121.3" width="1" height="1" fill="rgb(143,143,143)"/>
<rect x="439.7" y="104.3" width="1" height="1" fill="rgb(154,154,154)"/>
<rect x="394.8" y="104.5" width="1" height="1" fill="rgb(138,138,138)"/>
<rect x="450.2" y="80.6" width="1" height="1" fill="rgb(177,177,177)"/>
<rect x="376.4" y="88.7" width="1" height="1" fill="rgb(131,131,131)"/>
<rect x="428.6" y="90.7" width="1" height="1" fill="rgb(132,132,132)"/>
<rect x="351.8" y="115.3" width="1" height="1" fill="rgb(132,132,132)"/>
<rect x="408.5" y="125.0" width="1" height="1" fill="rgb(115,115,115)"/>
<rect x="371.5" y="97.9" width="1" height="1" fill="rgb(164,164,164)"/>
<rect x="348.4" y="85.8" width="1" height="1" fill="rgb(142,142,142)"/>
<rect x="377.7" y="98.0" width="1" height="1" fill="rgb(176,176,176)"/>
<rect x="394.7" y="103.2" width="1" height="1" fill="rgb(121,121,121)"/>
<rect x="366.1" y="93.7" width="1" height="1" fill="rgb(167,167,167)"/>
<rect x="414.9" y="103.0" width="1" height="1" fill="rgb(171,171,171)"/>
<rect x="419.0" y="87.0" width="1" height="1" fill="rgb(176,176,176)"/>
<rect x="351.5" y="116.4" width="1" height="1" fill="rgb(156,156,156)"/>
<rect x="390.9" y="115.2" width="1" height="1" fill="rgb(189,189,189)"/>
<rect x="377.2" y="96.6" width="1" height="1" fill="rgb(158,158,158)"/>
<rect x="363.5" y="109.2" width="1" height="1" fill="rgb(110,110,110)"/>
<rect x="400.4" y="80.2" width="1" height="1" fill="rgb(132,132,132)"/>
<rect x="369.7" y="108.5" width="1" height="1" fill="rgb(151,151,151)"/>
<rect x="363.8" y="92.2" width="1" height="1" fill="rgb(166,166,166)"/>
<rect x="344.7" y="113.8" width="1" height="1" fill="rgb(121,121,121)"/>
<rect x="357.5" y="101.4" width="1" height="1" fill="rgb(147,147,147)"/>
<rect x="405.9" y="98.4" width="1" height="1" fill="rgb(115,115,115)"/>
<rect x="417.5" y="98.7" width="1" height="1" fill="rgb(115,115,115)"/>
<rect x="367.0" y="86.0" width="1" height="1" fill="rgb(162,162,162)"/>
<rect x="350.2" y="109.6" width="1" height="1" fill="rgb(142,142,142)"/>
<rect x="360.6" y="113.2" width="1" height="1" fill="rgb(184,184,184)"/>
<rect x="385.4" y="117.0" width="1" height="1" fill="rgb(184,184,184)"/>
<rect x="353.6" y="117.9" width="1" height="1" fill="rgb(152,152,152)"/>
<rect x="374.3" y="94.5" width="1" height="1" fill="rgb(167,167,167)"/>
<rect x="355.9" y="114.1" width="1" height="1" fill="rgb(173,173,173)"/>
<rect x="391.2" y="90.2" width="1" height="1" fill="rgb(113,113,113)"/>
<rect x="386.2" y="113.5" width="1" height="1" fill="rgb(169,169,169)"/>
<rect x="364.9" y="82.5" width="1" height="1" fill="rgb(170,170,170)"/>
<rect x="372.7" y="105.4" width="1" height="1" fill="rgb(160,160,160)"/>
<rect x="351.0" y="100.9" width="1" height="1" fill="rgb(111,111,111)"/>
<rect x="357.5" y="75.3" width="1" height="1" fill="rgb(161,161,161)"/>
<rect x="334.9" y="89.8" width="1" height="1" fill="rgb(147,147,147)"/>
<rect x="344.3" y="90.1" width="1" height="1" fill="rgb(168,168,168)"/>
<rect x="378.4" y="107.9" width="1" height="1" fill="rgb(119,119,119)"/>
<rect x="367.6" y="98.5" width="1" height="1" fill="rgb(173,173,173)"/>
<rect x="392.9" y="114.8" width="1" height="1" fill="rgb(182,182,182)"/>
<rect x="341.5" y="108.8" width="1" height="1" fill="rgb(135,135,135)"/>
<rect x="365.6" y="80.9" width="1" height="1" fill="rgb(117,117,117)"/>
<rect x="344.9" y="91.0" width="1" height="1" fill="rgb(184,184,184)"/>
<rect x="380.5" y="113.2" width="1" height="1" fill="rgb(116,116,116)"/>
<rect x="376.3" y="92.9" width="1" height="1" fill="rgb(152,152,152)"/>
<rect x="377.9" y="119.3" width="1" height="1" fill="rgb(176,176,176)"/>
<rect x="369.0" y="114.5" width="1" height="1" fill="rgb(142,142,142)"/>
<rect x="363.2" y="87.5" width="1" height="1" fill="rgb(160,160,160)"/>
<rect x="353.4" y="98.6" width="1" height="1" fill="rgb(116,116,116)"/>
<rect x="365.9" y="111.8" width="1" height="1" fill="rgb(158,158,158)"/>
<rect x="380.2" y="68.1" width="1" height="1" fill="rgb(142,142,142)"/>
<rect x="367.2" y="108.3" width="1" height="1" fill="rgb(136,136,136)"/>
<rect x="355.0" y="96.0" width="1" height="1" fill="rgb(169,169,169)"/>
<rect x="356.1" y="77.6" width="1" height="1" fill="rgb(128,128,128)"/>
<rect x="351.0" y="122.6" width="1" height="1" fill="rgb(135,135,135)"/>
<rect x="346.0" y="107.0" width="1" height="1" fill="rgb(116,116,116)"/>
<rect x="369.8" y="97.6" width="1" height="1" fill="rgb(118,118,118)"/>
<rect x="352.7" y="111.7" width="1" height="1" fill="rgb(151,151,151)"/>
<rect x="381.1" y="102.4" width="1" height="1" fill="rgb(166,166,166)"/>
<rect x="363.6" y="125.7" width="1" height="1" fill="rgb(185,185,185)"/>
<rect x="357.6" y="88.7" width="1" height="1" fill="rgb(166,166,166)"/>
<rect x="373.2" y="110.8" width="1" height="1" fill="rgb(133,133,133)"/>
<rect x="349.2" y="109.6" width="1" height="1" fill="rgb(116,116,116)"/>
<rect x="391.6" y="126.3" width="1" height="1" fill="rgb(186,186,186)"/>
<rect x="367.4" y="99.9" width="1" height="1" fill="rgb(181,181,181)"/>
<rect x="369.3" y="89.7" width="1" height="1" fill="rgb(138,138,138)"/>
<rect x="359.1" y="77.2" width="1" height="1" fill="rgb(147,147,147)"/>
<rect x="376.4" y="79.9" width="1" height="1" fill="rgb(130,130,130)"/>
<rect x="391.9" y="129.9" width="1" height="1" fill="rgb(136,136,136)"/>
<rect x="352.3" y="97.9" width="1" height="1" fill="rgb(135,135,135)"/>
<rect x="378.5" y="59.0" width="1" height="1" fill="rgb(163,163,163)"/>
<rect x="365.4" y="82.1" width="1" height="1" fill="rgb(164,164,164)"/>
<rect x="373.2" y="104.6" width="1" height="1" fill="rgb(127,127,127)"/>
<rect x="399.5" y="108.2" width="1" height="1" fill="rgb(147,147,147)"/>
<rect x="371.8" y="65.2" width="1" height="1" fill="rgb(150,150,150)"/>
<rect x="363.3" y="73.7" width="1" height="1" fill="rgb(149,149,149)"/>
<rect x="382.2" y="91.9" width="1" height="1" fill="rgb(137,137,137)"/>
<rect x="386.7" y="124.7" width="1" height="1" fill="rgb(139,139,139)"/>
<rect x="366.9" y="102.6" width="1" height="1" fill="rgb(158,158,158)"/>
<rect x="377.5" y="111.5" width="1" height="1" fill="rgb(179,179,179)"/>
<rect x="366.4" y="89.2" width="1" height="1" fill="rgb(129,129,129)"/>
<rect x="367.8" y="81.9" width="1" height="1" fill="rgb(161,161,161)"/>
<rect x="392.7" y="120.8" width="1" height="1" fill="rgb(125,125,125)"/>
<rect x="364.1" y="90.0" width="1" height="1" fill="rgb(177,177,177)"/>
<rect x="357.0" y="97.5" width="1" height="1" fill="rgb(154,154,154)"/>
<rect x="397.8" y="103.1" width="1" height="1" fill="rgb(121,121,121)"/>
<rect x="374.1" y="112.9" width="1" height="1" fill="rgb(148,148,148)"/>
<rect x="353.8" y="87.6" width="1" height="1" fill="rgb(121,121,121)"/>
<rect x="375.5" y="118.1" width="1" height="1" fill="rgb(139,139,139)"/>
<rect x="358.2" y="93.0" width="1" height="1" fill="rgb(184,184,184)"/>
<rect x="336.1" y="73.9" width="1" height="1" fill="rgb(154,154,154)"/>
<rect x="373.2" y="109.0" width="1" height="1" fill="rgb(148,148,148)"/>
<rect x="383.8" y="104.5" width="1" height="1" fill="rgb(167,167,167)"/>
<rect x="355.9" y="101.6" width="1" height="1" fill="rgb(156,156,156)"/>
<rect x="382.3" y="126.8" width="1" height="1" fill="rgb(148,148,148)"/>
<rect x="379.4" y="74.4" width="1" height="1" fill="rgb(168,168,168)"/>
<rect x="386.8" y="112.0" width="1" height="1" fill="rgb(130,130,130)"/>
<rect x="355.4" y="89.1" width="1" height="1" fill="rgb(114,114,114)"/>
<rect x="390.5" y="105.3" width="1" height="1" fill="rgb(162,162,162)"/>
<rect x="365.0" y="92.6" width="1" height="1" fill="rgb(183,183,183)"/>
<rect x="373.4" y="94.0" width="1" height="1" fill="rgb(130,130,130)"/>
<rect x="355.1" y="119.2" width="1" height="1" fill="rgb(121,121,121)"/>
<rect x="355.0" y="128.3" width="1" height="1" fill="rgb(171,171,171)"/>
<rect x="366.0" y="112.3" width="1" height="1" fill="rgb(123,123,123)"/>
<rect x="375.9" y="94.0" width="1" height="1" fill="rgb(173,173,173)"/>
<rect x="367.5" y="120.8" width="1" height="1" fill="rgb(151,151,151)"/>
<rect x="360.7" y="101.8" width="1" height="1" fill="rgb(178,178,178)"/>
<rect x="382.0" y="103.2" width="1" height="1" fill="rgb(135,135,135)"/>
<rect x="365.8" y="121.0" width="1" height="1" fill="rgb(126,126,126)"/>
<rect x="391.7" y="84.9" width="1" height="1" fill="rgb(178,178,178)"/>
<rect x="336.4" y="99.4" width="1" height="1" fill="rgb(111,111,111)"/>
<rect x="374.3" y="103.3" width="1" height="1" fill="rgb(183,183,183)"/>
<rect x="376.5" y="127.0" width="1" height="1" fill="rgb(121,121,121)"/>
<rect x="370.1" y="90.0" width="1" height="1" fill="rgb(143,143,143)"/>
<rect x="386.9" y="99.6" width="1" height="1" fill="rgb(189,189,189)"/>
<rect x="356.9" y="98.2" width="1" height="1" fill="rgb(125,125,125)"/>
<rect x="388.2" y="111.1" width="1" height="1" fill="rgb(139,139,139)"/>
<rect x="371.2" y="129.1" width="1" height="1" fill="rgb(175,175,175)"/>
<rect x="368.7" y="93.9" width="1" height="1" fill="rgb(141,141,141)"/>
<rect x="383.1" y="106.6" width="1" height="1" fill="rgb(122,122,122)"/>
<rect x="391.6" y="105.8" width="1" height="1" fill="rgb(132,132,132)"/>
<rect x="375.9" y="85.5" width="1" height="1" fill="rgb(169,169,169)"/>
<rect x="361.6" y="93.9" width="1" height="1" fill="rgb(150,150,150)"/>
<rect x="385.4" y="93.4" width="1" height="1" fill="rgb(162,162,162)"/>
<rect x="397.7" y="105.8" width="1" height="1" fill="rgb(128,128,128)"/>
<rect x="367.6" y="74.3" width="1" height="1" fill="rgb(129,129,129)"/>
<rect x="378.2" y="71.9" width="1" height="1" fill="rgb(136,136,136)"/>
<rect x="373.7" y="111.1" width="1" height="1" fill="rgb(152,152,152)"/>
<rect x="368.6" y="93.7" width="1" height="1" fill="rgb(110,110,110)"/>
<rect x="374.8" y="81.0" width="1" height="1" fill="rgb(173,173,173)"/>
<rect x="356.0" y="97.4" width="1" height="1" fill="rgb(118,118,118)"/>
<rect x="370.3" y="75.6" width="1" height="1" fill="rgb(135,135,135)"/>
<rect x="373.5" y="95.7" width="1" height="1" fill="rgb(156,156,156)"/>
<rect x="371.7" y="92.5" width="1" height="1" fill="rgb(154,154,154)"/>
<rect x="345.1" y="84.6" width="1" height="1" fill="rgb(173,173,173)"/>
<rect x="357.7" y="74.9" width="1" height="1" fill="rgb(127,127,127)"/>
<rect x="368.7" y="125.9" width="1" height="1" fill="rgb(148,148,148)"/>
<rect x="392.0" y="84.0" width="1" height="1" fill="rgb(185,185,185)"/>
<rect x="378.2" y="114.2" width="1" height="1" fill="rgb(175,175,175)"/>
<rect x="401.5" y="129.5" width="1" height="1" fill="rgb(142,142,142)"/>
<rect x="370.2" y="66.8" width="1" height="1" fill="rgb(140,140,140)"/>
<rect x="375.8" y="117.6" width="1" height="1" fill="rgb(140,140,140)"/>
<rect x="385.1" y="84.3" width="1" height="1" fill="rgb(116,116,116)"/>
<rect x="348.3" y="118.5" width="1" height="1" fill="rgb(190,190,190)"/>
<rect x="354.5" y="62.8" width="1" height="1" fill="rgb(158,158,158)"/>
<rect x="364.4" y="103.8" width="1" height="1" fill="rgb(153,153,153)"/>
<rect x="352.1" y="68.3" width="1" height="1" fill="rgb(164,164,164)"/>
<rect x="370.5" y="98.2" width="1" height="1" fill="rgb(172,172,172)"/>
<rect x="338.9" y="74.5" width="1" height="1" fill="rgb(170,170,170)"/>
<rect x="351.1" y="111.1" width="1" height="1" fill="rgb(168,168,168)"/>
<rect x="382.3" y="116.7" width="1" height="1" fill="rgb(120,120,120)"/>
<rect x="351.4" y="125.9" width="1" height="1" fill="rgb(189,189,189)"/>
<rect x="384.3" y="102.9" width="1" height="1" fill="rgb(144,144,144)"/>
<rect x="353.5" y="111.4" width="1" height="1" fill="rgb(140,140,140)"/>
<rect x="387.7" y="117.5" width="1" height="1" fill="rgb(115,115,115)"/>
<rect x="345.9" y="125.3" width="1" height="1" fill="rgb(159,159,159)"/>
<rect x="362.7" y="109.0" width="1" height="1" fill="rgb(188,188,188)"/>
<rect x="400.1" y="70.6" width="1" height="1" fill="rgb(149,149,149)"/>
<rect x="381.3" y="129.5" width="1" height="1" fill="rgb(130,130,130)"/>
<rect x="368.4" y="101.3" width="1" height="1" fill="rgb(132,132,132)"/>
<rect x="379.7" y="107.5" width="1" height="1" fill="rgb(182,182,182)"/>
<rect x="374.5" y="87.8" width="1" height="1" fill="rgb(155,155,155)"/>
<rect x="349.4" y="55.9" width="1" height="1" fill="rgb(175,175,175)"/>
<rect x="365.8" y="91.9" width="1" height="1" fill="rgb(142,142,142)"/>
<rect x="366.9" y="94.0" width="1" height="1" fill="rgb(189,189,189)"/>
<rect x="364.0" y="111.5" width="1" height="1" fill="rgb(147,147,147)"/>
<rect x="354.9" y="118.9" width="1" height="1" fill="rgb(190,190,190)"/>
<rect x="355.4" y="62.9" width="1" height="1" fill="rgb(117,117,117)"/>
<rect x="385.8" y="88.8" width="1" height="1" fill="rgb(156,156,156)"/>
<rect x="369.0" y="96.8" width="1" height="1" fill="rgb(125,125,125)"/>
<rect x="353.8" y="93.3" width="1" height="1" fill="rgb(175,175,175)"/>
<rect x="390.1" y="82.4" width="1" height="1" fill="rgb(168,168,168)"/>
<rect x="383.9" y="103.1" width="1" height="1" fill="rgb(127,127,127)"/>
<rect x="407.6" y="101.6" width="1" height="1" fill="rgb(144,144,144)"/>
<rect x="383.2" y="117.6" width="1" height="1" fill="rgb(183,183,183)"/>
<rect x="380.0" y="119.9" width="1" height="1" fill="rgb(145,145,145)"/>
<rect x="361.8" y="90.7" width="1" height="1" fill="rgb(179,179,179)"/>
<rect x="390.0" y="103.3" width="1" height="1" fill="rgb(162,162,162)"/>
<rect x="352.9" y="75.1" width="1" height="1" fill="rgb(158,158,158)"/>
<rect x="348.0" y="128.0" width="1" height="1" fill="rgb(151,151,151)"/>
<rect x="381.1" y="118.7" width="1" height="1" fill="rgb(116,116,116)"/>
<rect x="374.1" y="84.7" width="1" height="1" fill="rgb(127,127,127)"/>
<rect x="378.9" y="129.2" width="1" height="1" fill="rgb(117,117,117)"/>
<rect x="383.8" y="123.5" width="1" height="1" fill="rgb(131,131,131)"/>
<rect x="355.5" y="66.1" width="1" height="1" fill="rgb(185,185,185)"/>
<rect x="365.5" y="115.8" width="1" height="1" fill="rgb(156,156,156)"/>
<rect x="380.1" y="97.2" width="1" height="1" fill="rgb(149,149,149)"/>
<rect x="384.2" y="87.6" width="1" height="1" fill="rgb(189,189,189)"/>
<rect x="362.7" y="116.3" width="1" height="1" fill="rgb(123,123,123)"/>
<rect x="363.8" y="85.2" width="1" height="1" fill="rgb(150,150,150)"/>
<rect x="339.1" y="128.6" width="1" height="1" fill="rgb(144,144,144)"/>
<rect x="397.9" y="125.0" width="1" height="1" fill="rgb(189,189,189)"/>
<rect x="341.1" y="109.8" width="1" height="1" fill="rgb(130,130,130)"/>
<rect x="372.6" y="85.3" width="1" height="1" fill="rgb(129,129,129)"/>
<rect x="366.5" y="120.5" width="1" height="1" fill="rgb(181,181,181)"/>
<rect x="379.6" y="85.5" width="1" height="1" fill="rgb(119,119,119)"/>
<rect x="367.7" y="115.7" width="1" height="1" fill="rgb(160,160,160)"/>
<rect x="357.1" y="97.2" width="1" height="1" fill="rgb(190,190,190)"/>
<rect x="382.8" y="112.6" width="1" height="1" fill="rgb(111,111,111)"/>
<rect x="399.0" y="108.0" width="1" height="1" fill="rgb(182,182,182)"/>
<rect x="362.7" y="121.5" width="1" height="1" fill="rgb(156,156,156)"/>
<rect x="368.9" y="112.4" width="1" height="1" fill="rgb(118,118,118)"/>
<rect x="375.2" y="94.4" width="1" height="1" fill="rgb(187,187,187)"/>
<rect x="362.9" y="84.0" width="1" height="1" fill="rgb(124,124,124)"/>
<rect x="378.8" y="95.4" width="1" height="1" fill="rgb(132,132,132)"/>
<rect x="392.3" y="94.9" width="1" height="1" fill="rgb(125,125,125)"/>
<rect x="372.6" y="83.0" width="1" height="1" fill="rgb(153,153,153)"/>
<rect x="354.9" y="111.6" width="1" height="1" fill="rgb(153,153,153)"/>
<rect x="364.1" y="108.6" width="1" height="1" fill="rgb(128,128,128)"/>
<rect x="351.1" y="95.7" width="1" height="1" fill="rgb(146,146,146)"/>
<rect x="379.8" y="111.3" width="1" height="1" fill="rgb(118,118,118)"/>
<rect x="375.4" y="96.9" width="1" height="1" fill="rgb(110,110,110)"/>
<rect x="384.3" y="79.6" width="1" height="1" fill="rgb(183,183,183)"/>
<rect x="360.0" y="104.7" width="1" height="1" fill="rgb(145,145,145)"/>
<rect x="375.4" y="74.8" width="1" height="1" fill="rgb(126,126,126)"/>
<rect x="384.0" y="120.4" width="1" height="1" fill="rgb(140,140,140)"/>
<rect x="335.9" y="99.7" width="1" height="1" fill="rgb(114,114,114)"/>
<rect x="368.8" y="68.3" width="1" height="1" fill="rgb(158,158,158)"/>
<rect x="376.2" y="93.6" width="1" height="1" fill="rgb(159,159,159)"/>
<rect x="360.3" y="91.0" width="1" height="1" fill="rgb(118,118,118)"/>
<rect x="373.0" y="76.8" width="1" height="1" fill="rgb(175,175,175)"/>
<rect x="368.5" y="111.4" width="1" height="1" fill="rgb(138,138,138)"/>
<rect x="364.6" y="114.8" width="1" height="1" fill="rgb(182,182,182)"/>
<rect x="398.5" y="95.0" width="1" height="1" fill="rgb(156,156,156)"/>
<rect x="389.2" y="102.8" width="1" height="1" fill="rgb(125,125,125)"/>
<rect x="377.6" y="87.0" width="1" height="1" fill="rgb(110,110,110)"/>
<rect x="343.9" y="107.4" width="1" height="1" fill="rgb(167,167,167)"/>
<rect x="369.2" y="105.7" width="1" height="1" fill="rgb(167,167,167)"/>
<rect x="351.9" y="87.5" width="1" height="1" fill="rgb(114,114,114)"/>
<rect x="399.2" y="107.6" width="1" height="1" fill="rgb(124,124,124)"/>
<rect x="356.8" y="101.2" width="1" height="1" fill="rgb(153,153,153)"/>
<rect x="389.3" y="95.2" width="1" height="1" fill="rgb(139,139,139)"/>
<rect x="375.8" y="129.4" width="1" height="1" fill="rgb(136,136,136)"/>
<rect x="347.8" y="87.2" width="1" height="1" fill="rgb(138,138,138)"/>
<rect x="370.8" y="95.8" width="1" height="1" fill="rgb(174,174,174)"/>
<rect x="368.3" y="116.2" width="1" height="1" fill="rgb(190,190,190)"/>
<rect x="369.1" y="107.1" width="1" height="1" fill="rgb(124,124,124)"/>
<rect x="354.6" y="111.8" width="1" height="1" fill="rgb(185,185,185)"/>
<rect x="350.2" y="113.4" width="1" height="1" fill="rgb(117,117,117)"/>
<rect x="383.7" y="58.9" width="1" height="1" fill="rgb(152,152,152)"/>
<rect x="363.4" y="89.0" width="1" height="1" fill="rgb(171,171,171)"/>
<rect x="355.0" y="91.5" width="1" height="1" fill="rgb(189,189,189)"/>
<rect x="356.1" y="104.2" width="1" height="1" fill="rgb(134,134,134)"/>
<rect x="377.4" y="106.4" width="1" height="1" fill="rgb(134,134,134)"/>
<rect x="400.4" y="116.6" width="1" height="1" fill="rgb(112,112,112)"/>
<rect x="360.3" y="104.0" width="1" height="1" fill="rgb(135,135,135)"/>
<rect x="371.7" y="88.5" width="1" height="1" fill="rgb(147,147,147)"/>
<rect x="369.5" y="58.4" width="1" height="1" fill="rgb(188,188,188)"/>
<rect x="369.0" y="93.8" width="1" height="1" fill="rgb(136,136,136)"/>
<rect x="343.7" y="115.7" width="1" height="1" fill="rgb(190,190,190)"/>
<rect x="350.2" y="94.7" width="1" height="1" fill="rgb(190,190,190)"/>
<rect x="381.8" y="120.4" width="1" height="1" fill="rgb(155,155,155)"/>
<rect x="368.4" y="104.6" width="1" height="1" fill="rgb(132,132,132)"/>
<rect x="364.1" y="83.2" width="1" height="1" fill="rgb(113,113,113)"/>
<rect x="376.0" y="82.2" width="1" height="1" fill="rgb(123,123,123)"/>
<rect x="352.7" y="127.8" width="1" height="1" fill="rgb(156,156,156)"/>
<rect x="373.2" y="80.9" width="1" height="1" fill="rgb(120,120,120)"/>
<rect x="394.3" y="83.9" width="1" height="1" fill="rgb(170,170,170)"/>
<rect x="405.1" y="71.8" width="1" height="1" fill="rgb(123,123,123)"/>
<rect x="358.1" y="97.5" width="1" height="1" fill="rgb(159,159,159)"/>
<rect x="373.2" y="112.3" width="1" height="1" fill="rgb(112,112,112)"/>
<rect x="379.8" y="95.5" width="1" height="1" fill="rgb(145,145,145)"/>
<rect x="412.4" y="83.7" width="1" height="1" fill="rgb(165,165,165)"/>
<rect x="374.0" y="72.8" width="1" height="1" fill="rgb(130,130,130)"/>
<rect x="381.7" y="69.6" width="1" height="1" fill="rgb(127,127,127)"/>
<rect x="375.1" y="106.1" width="1" height="1" fill="rgb(184,184,184)"/>
<rect x="366.4" y="99.0" width="1" height="1" fill="rgb(121,121,121)"/>
<rect x="365.5" y="100.9" width="1" height="1" fill="rgb(183,183,183)"/>
<rect x="364.1" y="98.4" width="1" height="1" fill="rgb(151,151,151)"/>
<rect x="359.3" y="118.3" width="1" height="1" fill="rgb(169,169,169)"/>
<rect x="347.4" y="102.2" width="1" height="1" fill="rgb(136,136,136)"/>
<rect x="387.0" y="67.1" width="1" height="1" fill="rgb(155,155,155)"/>
<rect x="364.5" y="69.6" width="1" height="1" fill="rgb(185,185,185)"/>
<rect x="410.2" y="51.7" width="1" height="1" fill="rgb(166,166,166)"/>
<rect x="344.0" y="70.0" width="1" height="1" fill="rgb(166,166,166)"/>
<rect x="374.2" y="55.1" width="1" height="1" fill="rgb(116,116,116)"/>
<rect x="380.7" y="62.6" width="1" height="1" fill="rgb(140,140,140)"/>
<rect x="367.0" y="56.9" width="1" height="1" fill="rgb(170,170,170)"/>
<rect x="363.4" y="64.0" width="1" height="1" fill="rgb(173,173,173)"/>
<rect x="365.7" y="64.9" width="1" height="1" fill="rgb(140,140,140)"/>
<rect x="386.4" y="48.8" width="1" height="1" fill="rgb(110,110,110)"/>
<rect x="341.9" y="76.7" width="1" height="1" fill="rgb(138,138,138)"/>
<rect x="348.0" y="55.8" width="1" height="1" fill="rgb(114,114,114)"/>
<rect x="374.3" y="86.4" width="1" height="1" fill="rgb(135,135,135)"/>
<rect x="374.1" y="64.4" width="1" height="1" fill="rgb(116,116,116)"/>
<rect x="408.9" y="62.9" width="1" height="1" fill="rgb(115,115,115)"/>
<rect x="400.5" y="61.4" width="1" height="1" fill="rgb(162,162,162)"/>
<rect x="371.1" y="72.0" width="1" height="1" fill="rgb(112,112,112)"/>
<rect x="374.8" y="48.2" width="1" height="1" fill="rgb(122,122,122)"/>
<rect x="387.5" y="81.9" width="1" height="1" fill="rgb(130,130,130)"/>
<rect x="357.6" y="61.5" width="1" height="1" fill="rgb(175,175,175)"/>
<rect x="382.7" y="48.4" width="1" height="1" fill="rgb(110,110,110)"/>
<rect x="377.0" y="67.8" width="1" height="1" fill="rgb(120,120,120)"/>
<rect x="341.5" y="66.6" width="1" height="1" fill="rgb(186,186,186)"/>
<rect x="379.2" y="56.0" width="1" height="1" fill="rgb(116,116,116)"/>
<rect x="356.0" y="56.2" width="1" height="1" fill="rgb(168,168,168)"/>
<rect x="369.9" y="67.5" width="1" height="1" fill="rgb(136,136,136)"/>
<rect x="413.0" y="69.4" width="1" height="1" fill="rgb(168,168,168)"/>
<rect x="380.9" y="80.5" width="1" height="1" fill="rgb(136,136,136)"/>
<rect x="342.4" y="44.1" width="1" height="1" fill="rgb(188,188,188)"/>
<rect x="399.5" y="65.1" width="1" height="1" fill="rgb(155,155,155)"/>
<rect x="368.0" y="63.3" width="1" height="1" fill="rgb(140,140,140)"/>
<rect x="397.2" y="52.6" width="1" height="1" fill="rgb(122,122,122)"/>
<rect x="387.0" y="70.7" width="1" height="1" fill="rgb(149,149,149)"/>
<rect x="373.1" y="61.7" width="1" height="1" fill="rgb(187,187,187)"/>
<rect x="354.5" y="63.1" width="1" height="1" fill="rgb(134,134,134)"/>
<rect x="380.8" y="67.0" width="1" height="1" fill="rgb(124,124,124)"/>
<rect x="356.7" y="52.8" width="1" height="1" fill="rgb(137,137,137)"/>
<rect x="348.0" y="65.5" width="1" height="1" fill="rgb(162,162,162)"/>
<rect x="397.6" y="61.4" width="1" height="1" fill="rgb(136,136,136)"/>
<rect x="403.0" y="59.5" width="1" height="1" fill="rgb(120,120,120)"/>
<rect x="407.9" y="57.9" width="1" height="1" fill="rgb(113,113,113)"/>
<rect x="366.4" y="62.6" width="1" height="1" fill="rgb(165,165,165)"/>
<rect x="374.4" y="63.9" width="1" height="1" fill="rgb(189,189,189)"/>
<rect x="394.3" y="63.4" width="1" height="1" fill="rgb(127,127,127)"/>
<rect x="371.8" y="74.4" width="1" height="1" fill="rgb(154,154,154)"/>
<rect x="393.4" y="68.4" width="1" height="1" fill="rgb(130,130,130)"/>
<rect x="343.2" y="49.6" width="1" height="1" fill="rgb(189,189,189)"/>
<rect x="408.8" y="42.1" width="1" height="1" fill="rgb(151,151,151)"/>
<rect x="369.6" y="73.5" width="1" height="1" fill="rgb(162,162,162)"/>
<rect x="352.6" y="64.9" width="1" height="1" fill="rgb(179,179,179)"/>
<rect x="409.5" y="53.5" width="1" height="1" fill="rgb(152,152,152)"/>
<rect x="409.9" y="67.0" width="1" height="1" fill="rgb(140,140,140)"/>
<rect x="402.2" y="56.6" width="1" height="1" fill="rgb(178,178,178)"/>
<rect x="375.2" y="68.9" width="1" height="1" fill="rgb(150,150,150)"/>
<rect x="354.3" y="70.5" width="1" height="1" fill="rgb(118,118,118)"/>
<rect x="386.4" y="76.2" width="1" height="1" fill="rgb(178,178,178)"/>
<rect x="373.7" y="86.9" width="1" height="1" fill="rgb(176,176,176)"/>
<rect x="350.8" y="44.9" width="1" height="1" fill="rgb(121,121,121)"/>
<rect x="362.9" y="61.7" width="1" height="1" fill="rgb(111,111,111)"/>
<rect x="366.9" y="57.5" width="1" height="1" fill="rgb(125,125,125)"/>
<rect x="385.8" y="66.4" width="1" height="1" fill="rgb(166,166,166)"/>
<rect x="362.1" y="63.2" width="1" height="1" fill="rgb(146,146,146)"/>
<rect x="372.4" y="60.0" width="1" height="1" fill="rgb(142,142,142)"/>
<rect x="381.5" y="65.8" width="1" height="1" fill="rgb(136,136,136)"/>
<rect x="352.8" y="57.1" width="1" height="1" fill="rgb(185,185,185)"/>
<rect x="377.3" y="69.5" width="1" height="1" fill="rgb(118,118,118)"/>
<rect x="365.7" y="59.6" width="1" height="1" fill="rgb(118,118,118)"/>
<rect x="368.6" y="55.7" width="1" height="1" fill="rgb(119,119,119)"/>
<rect x="364.2" y="70.6" width="1" height="1" fill="rgb(124,124,124)"/>
<rect x="366.6" y="54.0" width="1" height="1" fill="rgb(175,175,175)"/>
<rect x="365.4" y="60.2" width="1" height="1" fill="rgb(167,167,167)"/>
<rect x="376.5" y="70.5" width="1" height="1" fill="rgb(148,148,148)"/>
<rect x="345.3" y="75.3" width="1" height="1" fill="rgb(132,132,132)"/>
<rect x="338.7" y="71.7" width="1" height="1" fill="rgb(122,122,122)"/>
<rect x="387.8" y="59.1" width="1" height="1" fill="rgb(151,151,151)"/>
<rect x="374.8" y="64.8" width="1" height="1" fill="rgb(138,138,138)"/>
<rect x="383.9" y="70.6" width="1" height="1" fill="rgb(154,154,154)"/>
<rect x="363.6" y="60.4" width="1" height="1" fill="rgb(111,111,111)"/>
<rect x="376.9" y="63.9" width="1" height="1" fill="rgb(121,121,121)"/>
<rect x="389.7" y="77.9" width="1" height="1" fill="rgb(185,185,185)"/>
<rect x="365.6" y="73.3" width="1" height="1" fill="rgb(115,115,115)"/>
<rect x="378.3" y="70.0" width="1" height="1" fill="rgb(117,117,117)"/>
<rect x="348.4" y="75.6" width="1" height="1" fill="rgb(182,182,182)"/>
<rect x="365.3" y="65.2" width="1" height="1" fill="rgb(147,147,147)"/>
<rect x="415.0" y="68.4" width="1" height="1" fill="rgb(126,126,126)"/>
<rect x="391.1" y="63.5" width="1" height="1" fill="rgb(179,179,179)"/>
<rect x="370.0" y="62.0" width="1" height="1" fill="rgb(142,142,142)"/>
<rect x="363.0" y="70.7" width="1" height="1" fill="rgb(124,124,124)"/>
<rect x="405.6" y="52.6" width="1" height="1" fill="rgb(131,131,131)"/>
<rect x="367.4" y="75.4" width="1" height="1" fill="rgb(113,113,113)"/>
<rect x="374.5" y="72.6" width="1" height="1" fill="rgb(138,138,138)"/>
<rect x="375.5" y="49.2" width="1" height="1" fill="rgb(140,140,140)"/>
<rect x="356.4" y="58.9" width="1" height="1" fill="rgb(110,110,110)"/>
<rect x="403.0" y="71.0" width="1" height="1" fill="rgb(157,157,157)"/>
<rect x="372.6" y="69.0" width="1" height="1" fill="rgb(166,166,166)"/>
<rect x="361.5" y="67.1" width="1" height="1" fill="rgb(181,181,181)"/>
<rect x="369.8" y="62.9" width="1" height="1" fill="rgb(125,125,125)"/>
<rect x="391.7" y="61.7" width="1" height="1" fill="rgb(117,117,117)"/>
<rect x="378.2" y="69.1" width="1" height="1" fill="rgb(156,156,156)"/>
<rect x="356.8" y="69.1" width="1" height="1" fill="rgb(153,153,153)"/>
<rect x="364.1" y="65.6" width="1" height="1" fill="rgb(138,138,138)"/>
<rect x="356.8" y="67.4" width="1" height="1" fill="rgb(188,188,188)"/>
<rect x="410.7" y="50.0" width="1" height="1" fill="rgb(158,158,158)"/>
<rect x="412.8" y="80.6" width="1" height="1" fill="rgb(177,177,177)"/>
<rect x="397.2" y="70.6" width="1" height="1" fill="rgb(175,175,175)"/>
<rect x="382.1" y="62.1" width="1" height="1" fill="rgb(120,120,120)"/>
<rect x="347.6" y="68.2" width="1" height="1" fill="rgb(168,168,168)"/>
<rect x="374.7" y="62.1" width="1" height="1" fill="rgb(167,167,167)"/>
<rect x="365.3" y="63.8" width="1" height="1" fill="rgb(145,145,145)"/>
<rect x="361.3" y="59.5" width="1" height="1" fill="rgb(125,125,125)"/>
<rect x="364.9" y="57.0" width="1" height="1" fill="rgb(142,142,142)"/>
<rect x="373.5" y="68.0" width="1" height="1" fill="rgb(175,175,175)"/>
<rect x="398.0" y="59.4" width="1" height="1" fill="rgb(114,114,114)"/>
<rect x="356.5" y="65.3" width="1" height="1" fill="rgb(173,173,173)"/>
<rect x="365.9" y="62.6" width="1" height="1" fill="rgb(156,156,156)"/>
<rect x="420.4" y="110.9" width="1" height="1" fill="rgb(151,151,151)"/>
<rect x="389.6" y="112.9" width="1" height="1" fill="rgb(133,133,133)"/>
<rect x="406.4" y="91.8" width="1" height="1" fill="rgb(168,168,168)"/>
<rect x="411.1" y="90.9" width="1" height="1" fill="rgb(137,137,137)"/>
<rect x="412.9" y="85.8" width="1" height="1" fill="rgb(127,127,127)"/>
<rect x="412.5" y="85.1" width="1" height="1" fill="rgb(150,150,150)"/>
<rect x="382.5" y="79.6" width="1" height="1" fill="rgb(161,161,161)"/>
<rect x="414.2" y="94.9" width="1" height="1" fill="rgb(156,156,156)"/>
<rect x="415.4" y="91.0" width="1" height="1" fill="rgb(171,171,171)"/>
<rect x="390.6" y="110.6" width="1" height="1" fill="rgb(172,172,172)"/>
<rect x="403.2" y="86.5" width="1" height="1" fill="rgb(137,137,137)"/>
<rect x="411.9" y="106.5" width="1" height="1" fill="rgb(149,149,149)"/>
<rect x="420.4" y="93.8" width="1" height="1" fill="rgb(138,138,138)"/>
<rect x="427.0" y="90.6" width="1" height="1" fill="rgb(114,114,114)"/>
<rect x="397.9" y="99.9" width="1" height="1" fill="rgb(112,112,112)"/>
<rect x="388.4" y="85.2" width="1" height="1" fill="rgb(140,140,140)"/>
<rect x="407.2" y="93.6" width="1" height="1" fill="rgb(187,187,187)"/>
<rect x="413.3" y="78.6" width="1" height="1" fill="rgb(170,170,170)"/>
<rect x="389.6" y="86.6" width="1" height="1" fill="rgb(127,127,127)"/>
<rect x="406.0" y="109.2" width="1" height="1" fill="rgb(145,145,145)"/>
<rect x="413.7" y="92.1" width="1" height="1" fill="rgb(127,127,127)"/>
<rect x="413.6" y="93.7" width="1" height="1" fill="rgb(151,151,151)"/>
<rect x="410.2" y="91.1" width="1" height="1" fill="rgb(139,139,139)"/>
<rect x="402.8" y="96.1" width="1" height="1" fill="rgb(167,167,167)"/>
<rect x="409.4" y="84.9" width="1" height="1" fill="rgb(182,182,182)"/>
<rect x="416.3" y="91.3" width="1" height="1" fill="rgb(162,162,162)"/>
<rect x="417.7" y="101.0" width="1" height="1" fill="rgb(123,123,123)"/>
<rect x="432.5" y="88.5" width="1" height="1" fill="rgb(119,119,119)"/>
<rect x="415.7" y="84.7" width="1" height="1" fill="rgb(177,177,177)"/>
<rect x="399.8" y="100.9" width="1" height="1" fill="rgb(175,175,175)"/>
<rect x="395.8" y="87.3" width="1" height="1" fill="rgb(173,173,173)"/>
<rect x="398.4" y="80.4" width="1" height="1" fill="rgb(157,157,157)"/>
<rect x="408.8" y="98.3" width="1" height="1" fill="rgb(142,142,142)"/>
<rect x="400.2" y="90.6" width="1" height="1" fill="rgb(142,142,142)"/>
<rect x="399.4" y="84.1" width="1" height="1" fill="rgb(177,177,177)"/>
<rect x="406.1" y="116.1" width="1" height="1" fill="rgb(117,117,117)"/>
<rect x="397.5" y="84.3" width="1" height="1" fill="rgb(151,151,151)"/>
<rect x="407.6" y="92.2" width="1" height="1" fill="rgb(170,170,170)"/>
<rect x="396.2" y="110.9" width="1" height="1" fill="rgb(133,133,133)"/>
<rect x="396.7" y="96.1" width="1" height="1" fill="rgb(139,139,139)"/>
<rect x="412.2" y="93.1" width="1" height="1" fill="rgb(136,136,136)"/>
<rect x="395.4" y="90.6" width="1" height="1" fill="rgb(127,127,127)"/>
<rect x="414.2" y="88.7" width="1" height="1" fill="rgb(156,156,156)"/>
<rect x="396.9" y="103.4" width="1" height="1" fill="rgb(156,156,156)"/>
<rect x="413.0" y="99.9" width="1" height="1" fill="rgb(137,137,137)"/>
<rect x="411.4" y="89.7" width="1" height="1" fill="rgb(175,175,175)"/>
<text x="34.40" y="11.20" font-size="11" font-style="normal" fill="#111" stroke="#111" stroke-width="0.2"><tspan dy="0.00">WT</tspan></text>
<text x="34.60" y="19.20" font-size="6.0" text-anchor="start" font-weight="normal" font-style="normal" fill="#222" stroke="#222" stroke-width="0.2" textLength="128" lengthAdjust="spacingAndGlyphs">Specimen_001_Tube_079.fcs::((R0)*R1)*R3</text>
<rect x="34.40" y="21.20" width="120.60" height="120.30" fill="none" stroke="#777" stroke-width="1.3" />
<line x1="34.40" y1="21.20" x2="161.40" y2="21.20" stroke="#333" stroke-width="1.0" />
<line x1="34.40" y1="20.20" x2="34.40" y2="142.00" stroke="#222" stroke-width="1.1" />
<line x1="33.90" y1="141.50" x2="155.00" y2="141.50" stroke="#222" stroke-width="1.1" />
<line x1="31.40" y1="141.50" x2="34.40" y2="141.50" stroke="#333" stroke-width="0.7" />
<line x1="34.40" y1="141.50" x2="34.40" y2="144.50" stroke="#333" stroke-width="0.7" />
<line x1="32.40" y1="132.45" x2="34.40" y2="132.45" stroke="#333" stroke-width="0.7" />
<line x1="43.48" y1="141.50" x2="43.48" y2="143.50" stroke="#333" stroke-width="0.7" />
<line x1="32.40" y1="127.15" x2="34.40" y2="127.15" stroke="#333" stroke-width="0.7" />
<line x1="48.79" y1="141.50" x2="48.79" y2="143.50" stroke="#333" stroke-width="0.7" />
<line x1="32.40" y1="123.39" x2="34.40" y2="123.39" stroke="#333" stroke-width="0.7" />
<line x1="52.55" y1="141.50" x2="52.55" y2="143.50" stroke="#333" stroke-width="0.7" />
<line x1="32.40" y1="120.48" x2="34.40" y2="120.48" stroke="#333" stroke-width="0.7" />
<line x1="55.47" y1="141.50" x2="55.47" y2="143.50" stroke="#333" stroke-width="0.7" />
<line x1="32.40" y1="118.10" x2="34.40" y2="118.10" stroke="#333" stroke-width="0.7" />
<line x1="57.86" y1="141.50" x2="57.86" y2="143.50" stroke="#333" stroke-width="0.7" />
<line x1="32.40" y1="116.08" x2="34.40" y2="116.08" stroke="#333" stroke-width="0.7" />
<line x1="59.88" y1="141.50" x2="59.88" y2="143.50" stroke="#333" stroke-width="0.7" />
<line x1="32.40" y1="114.34" x2="34.40" y2="114.34" stroke="#333" stroke-width="0.7" />
<line x1="61.63" y1="141.50" x2="61.63" y2="143.50" stroke="#333" stroke-width="0.7" />
<line x1="32.40" y1="112.80" x2="34.40" y2="112.80" stroke="#333" stroke-width="0.7" />
<line x1="63.17" y1="141.50" x2="63.17" y2="143.50" stroke="#333" stroke-width="0.7" />
<line x1="31.40" y1="111.42" x2="34.40" y2="111.42" stroke="#333" stroke-width="0.7" />
<line x1="64.55" y1="141.50" x2="64.55" y2="144.50" stroke="#333" stroke-width="0.7" />
<line x1="32.40" y1="102.37" x2="34.40" y2="102.37" stroke="#333" stroke-width="0.7" />
<line x1="73.63" y1="141.50" x2="73.63" y2="143.50" stroke="#333" stroke-width="0.7" />
<line x1="32.40" y1="97.08" x2="34.40" y2="97.08" stroke="#333" stroke-width="0.7" />
<line x1="78.94" y1="141.50" x2="78.94" y2="143.50" stroke="#333" stroke-width="0.7" />
<line x1="32.40" y1="93.32" x2="34.40" y2="93.32" stroke="#333" stroke-width="0.7" />
<line x1="82.70" y1="141.50" x2="82.70" y2="143.50" stroke="#333" stroke-width="0.7" />
<line x1="32.40" y1="90.40" x2="34.40" y2="90.40" stroke="#333" stroke-width="0.7" />
<line x1="85.62" y1="141.50" x2="85.62" y2="143.50" stroke="#333" stroke-width="0.7" />
<line x1="32.40" y1="88.02" x2="34.40" y2="88.02" stroke="#333" stroke-width="0.7" />
<line x1="88.01" y1="141.50" x2="88.01" y2="143.50" stroke="#333" stroke-width="0.7" />
<line x1="32.40" y1="86.01" x2="34.40" y2="86.01" stroke="#333" stroke-width="0.7" />
<line x1="90.03" y1="141.50" x2="90.03" y2="143.50" stroke="#333" stroke-width="0.7" />
<line x1="32.40" y1="84.26" x2="34.40" y2="84.26" stroke="#333" stroke-width="0.7" />
<line x1="91.78" y1="141.50" x2="91.78" y2="143.50" stroke="#333" stroke-width="0.7" />
<line x1="32.40" y1="82.73" x2="34.40" y2="82.73" stroke="#333" stroke-width="0.7" />
<line x1="93.32" y1="141.50" x2="93.32" y2="143.50" stroke="#333" stroke-width="0.7" />
<line x1="31.40" y1="81.35" x2="34.40" y2="81.35" stroke="#333" stroke-width="0.7" />
<line x1="94.70" y1="141.50" x2="94.70" y2="144.50" stroke="#333" stroke-width="0.7" />
<line x1="32.40" y1="72.30" x2="34.40" y2="72.30" stroke="#333" stroke-width="0.7" />
<line x1="103.78" y1="141.50" x2="103.78" y2="143.50" stroke="#333" stroke-width="0.7" />
<line x1="32.40" y1="67.00" x2="34.40" y2="67.00" stroke="#333" stroke-width="0.7" />
<line x1="109.09" y1="141.50" x2="109.09" y2="143.50" stroke="#333" stroke-width="0.7" />
<line x1="32.40" y1="63.24" x2="34.40" y2="63.24" stroke="#333" stroke-width="0.7" />
<line x1="112.85" y1="141.50" x2="112.85" y2="143.50" stroke="#333" stroke-width="0.7" />
<line x1="32.40" y1="60.33" x2="34.40" y2="60.33" stroke="#333" stroke-width="0.7" />
<line x1="115.77" y1="141.50" x2="115.77" y2="143.50" stroke="#333" stroke-width="0.7" />
<line x1="32.40" y1="57.95" x2="34.40" y2="57.95" stroke="#333" stroke-width="0.7" />
<line x1="118.16" y1="141.50" x2="118.16" y2="143.50" stroke="#333" stroke-width="0.7" />
<line x1="32.40" y1="55.93" x2="34.40" y2="55.93" stroke="#333" stroke-width="0.7" />
<line x1="120.18" y1="141.50" x2="120.18" y2="143.50" stroke="#333" stroke-width="0.7" />
<line x1="32.40" y1="54.19" x2="34.40" y2="54.19" stroke="#333" stroke-width="0.7" />
<line x1="121.93" y1="141.50" x2="121.93" y2="143.50" stroke="#333" stroke-width="0.7" />
<line x1="32.40" y1="52.65" x2="34.40" y2="52.65" stroke="#333" stroke-width="0.7" />
<line x1="123.47" y1="141.50" x2="123.47" y2="143.50" stroke="#333" stroke-width="0.7" />
<line x1="31.40" y1="51.28" x2="34.40" y2="51.28" stroke="#333" stroke-width="0.7" />
<line x1="124.85" y1="141.50" x2="124.85" y2="144.50" stroke="#333" stroke-width="0.7" />
<line x1="32.40" y1="42.22" x2="34.40" y2="42.22" stroke="#333" stroke-width="0.7" />
<line x1="133.93" y1="141.50" x2="133.93" y2="143.50" stroke="#333" stroke-width="0.7" />
<line x1="32.40" y1="36.93" x2="34.40" y2="36.93" stroke="#333" stroke-width="0.7" />
<line x1="139.24" y1="141.50" x2="139.24" y2="143.50" stroke="#333" stroke-width="0.7" />
<line x1="32.40" y1="33.17" x2="34.40" y2="33.17" stroke="#333" stroke-width="0.7" />
<line x1="143.00" y1="141.50" x2="143.00" y2="143.50" stroke="#333" stroke-width="0.7" />
<line x1="32.40" y1="30.25" x2="34.40" y2="30.25" stroke="#333" stroke-width="0.7" />
<line x1="145.92" y1="141.50" x2="145.92" y2="143.50" stroke="#333" stroke-width="0.7" />
<line x1="32.40" y1="27.87" x2="34.40" y2="27.87" stroke="#333" stroke-width="0.7" />
<line x1="148.31" y1="141.50" x2="148.31" y2="143.50" stroke="#333" stroke-width="0.7" />
<line x1="32.40" y1="25.86" x2="34.40" y2="25.86" stroke="#333" stroke-width="0.7" />
<line x1="150.33" y1="141.50" x2="150.33" y2="143.50" stroke="#333" stroke-width="0.7" />
<line x1="32.40" y1="24.11" x2="34.40" y2="24.11" stroke="#333" stroke-width="0.7" />
<line x1="152.08" y1="141.50" x2="152.08" y2="143.50" stroke="#333" stroke-width="0.7" />
<line x1="32.40" y1="22.58" x2="34.40" y2="22.58" stroke="#333" stroke-width="0.7" />
<line x1="153.62" y1="141.50" x2="153.62" y2="143.50" stroke="#333" stroke-width="0.7" />
<line x1="31.40" y1="21.20" x2="34.40" y2="21.20" stroke="#333" stroke-width="0.7" />
<line x1="155.00" y1="141.50" x2="155.00" y2="144.50" stroke="#333" stroke-width="0.7" />
<text x="32.00" y="144.10" font-size="6.5" text-anchor="end" fill="#222" stroke="#222" stroke-width="0.2">10<tspan font-size="6" dy="-3.6">0</tspan></text>
<text x="35.00" y="152.30" font-size="6.5" text-anchor="middle" fill="#222" stroke="#222" stroke-width="0.2">10<tspan font-size="6" dy="-3.6">0</tspan></text>
<text x="32.00" y="114.02" font-size="6.5" text-anchor="end" fill="#222" stroke="#222" stroke-width="0.2">10<tspan font-size="6" dy="-3.6">1</tspan></text>
<text x="65.15" y="152.30" font-size="6.5" text-anchor="middle" fill="#222" stroke="#222" stroke-width="0.2">10<tspan font-size="6" dy="-3.6">1</tspan></text>
<text x="32.00" y="83.95" font-size="6.5" text-anchor="end" fill="#222" stroke="#222" stroke-width="0.2">10<tspan font-size="6" dy="-3.6">2</tspan></text>
<text x="95.30" y="152.30" font-size="6.5" text-anchor="middle" fill="#222" stroke="#222" stroke-width="0.2">10<tspan font-size="6" dy="-3.6">2</tspan></text>
<text x="32.00" y="53.88" font-size="6.5" text-anchor="end" fill="#222" stroke="#222" stroke-width="0.2">10<tspan font-size="6" dy="-3.6">3</tspan></text>
<text x="125.45" y="152.30" font-size="6.5" text-anchor="middle" fill="#222" stroke="#222" stroke-width="0.2">10<tspan font-size="6" dy="-3.6">3</tspan></text>
<text x="32.00" y="23.80" font-size="6.5" text-anchor="end" fill="#222" stroke="#222" stroke-width="0.2">10<tspan font-size="6" dy="-3.6">4</tspan></text>
<text x="155.60" y="152.30" font-size="6.5" text-anchor="middle" fill="#222" stroke="#222" stroke-width="0.2">10<tspan font-size="6" dy="-3.6">4</tspan></text>
<text x="39.40" y="31.80" font-size="10" fill="#222" stroke="#222" stroke-width="0.2" textLength="72" lengthAdjust="spacingAndGlyphs">Sca1<tspan font-size="5.3" dy="-3.8">-</tspan><tspan dy="3.8">ckit</tspan><tspan font-size="5.3" dy="-3.8">+</tspan><tspan dy="3.8"> (3.2%)</tspan></text>
<text x="123.70" y="64.80" font-size="10.6" text-anchor="start" font-weight="normal" font-style="normal" fill="#222" stroke="#222" stroke-width="0.2" textLength="25.0" lengthAdjust="spacingAndGlyphs">GMP</text>
<text x="117.20" y="75.90" font-size="10.6" text-anchor="start" font-weight="normal" font-style="normal" fill="#222" stroke="#222" stroke-width="0.2" textLength="38.0" lengthAdjust="spacingAndGlyphs">(32.4%)</text>
<text x="93.20" y="110.80" font-size="10.6" text-anchor="start" font-weight="normal" font-style="normal" fill="#222" stroke="#222" stroke-width="0.2" textLength="60.2" lengthAdjust="spacingAndGlyphs">CMP (6.3%)</text>
<text x="41.50" y="128.40" font-size="10.6" text-anchor="start" font-weight="normal" font-style="normal" fill="#222" stroke="#222" stroke-width="0.2" textLength="65.0" lengthAdjust="spacingAndGlyphs">MEP (11.5%)</text>
<text x="192.30" y="11.20" font-size="11" font-style="italic" fill="#111" stroke="#111" stroke-width="0.2"><tspan dy="0.00">c1</tspan><tspan font-size="6.2" dy="-4.40">fl/fl</tspan><tspan dy="4.40">c2</tspan><tspan font-size="6.2" dy="-4.40">-/-</tspan><tspan dy="4.40">X</tspan><tspan font-size="6.2" dy="-4.40">-/-</tspan></text>
<text x="183.70" y="19.80" font-size="6.0" text-anchor="start" font-weight="normal" font-style="normal" fill="#222" stroke="#222" stroke-width="0.2" textLength="128" lengthAdjust="spacingAndGlyphs">Specimen_001_Tube_081.fcs::((R0)*R1)*R3</text>
<rect x="183.50" y="21.80" width="120.30" height="120.80" fill="none" stroke="#777" stroke-width="1.3" />
<line x1="183.50" y1="21.80" x2="310.50" y2="21.80" stroke="#333" stroke-width="1.0" />
<line x1="183.50" y1="20.80" x2="183.50" y2="143.10" stroke="#222" stroke-width="1.1" />
<line x1="183.00" y1="142.60" x2="303.80" y2="142.60" stroke="#222" stroke-width="1.1" />
<line x1="180.50" y1="142.60" x2="183.50" y2="142.60" stroke="#333" stroke-width="0.7" />
<line x1="183.50" y1="142.60" x2="183.50" y2="145.60" stroke="#333" stroke-width="0.7" />
<line x1="181.50" y1="133.51" x2="183.50" y2="133.51" stroke="#333" stroke-width="0.7" />
<line x1="192.55" y1="142.60" x2="192.55" y2="144.60" stroke="#333" stroke-width="0.7" />
<line x1="181.50" y1="128.19" x2="183.50" y2="128.19" stroke="#333" stroke-width="0.7" />
<line x1="197.85" y1="142.60" x2="197.85" y2="144.60" stroke="#333" stroke-width="0.7" />
<line x1="181.50" y1="124.42" x2="183.50" y2="124.42" stroke="#333" stroke-width="0.7" />
<line x1="201.61" y1="142.60" x2="201.61" y2="144.60" stroke="#333" stroke-width="0.7" />
<line x1="181.50" y1="121.49" x2="183.50" y2="121.49" stroke="#333" stroke-width="0.7" />
<line x1="204.52" y1="142.60" x2="204.52" y2="144.60" stroke="#333" stroke-width="0.7" />
<line x1="181.50" y1="119.10" x2="183.50" y2="119.10" stroke="#333" stroke-width="0.7" />
<line x1="206.90" y1="142.60" x2="206.90" y2="144.60" stroke="#333" stroke-width="0.7" />
<line x1="181.50" y1="117.08" x2="183.50" y2="117.08" stroke="#333" stroke-width="0.7" />
<line x1="208.92" y1="142.60" x2="208.92" y2="144.60" stroke="#333" stroke-width="0.7" />
<line x1="181.50" y1="115.33" x2="183.50" y2="115.33" stroke="#333" stroke-width="0.7" />
<line x1="210.66" y1="142.60" x2="210.66" y2="144.60" stroke="#333" stroke-width="0.7" />
<line x1="181.50" y1="113.78" x2="183.50" y2="113.78" stroke="#333" stroke-width="0.7" />
<line x1="212.20" y1="142.60" x2="212.20" y2="144.60" stroke="#333" stroke-width="0.7" />
<line x1="180.50" y1="112.40" x2="183.50" y2="112.40" stroke="#333" stroke-width="0.7" />
<line x1="213.57" y1="142.60" x2="213.57" y2="145.60" stroke="#333" stroke-width="0.7" />
<line x1="181.50" y1="103.31" x2="183.50" y2="103.31" stroke="#333" stroke-width="0.7" />
<line x1="222.63" y1="142.60" x2="222.63" y2="144.60" stroke="#333" stroke-width="0.7" />
<line x1="181.50" y1="97.99" x2="183.50" y2="97.99" stroke="#333" stroke-width="0.7" />
<line x1="227.92" y1="142.60" x2="227.92" y2="144.60" stroke="#333" stroke-width="0.7" />
<line x1="181.50" y1="94.22" x2="183.50" y2="94.22" stroke="#333" stroke-width="0.7" />
<line x1="231.68" y1="142.60" x2="231.68" y2="144.60" stroke="#333" stroke-width="0.7" />
<line x1="181.50" y1="91.29" x2="183.50" y2="91.29" stroke="#333" stroke-width="0.7" />
<line x1="234.60" y1="142.60" x2="234.60" y2="144.60" stroke="#333" stroke-width="0.7" />
<line x1="181.50" y1="88.90" x2="183.50" y2="88.90" stroke="#333" stroke-width="0.7" />
<line x1="236.98" y1="142.60" x2="236.98" y2="144.60" stroke="#333" stroke-width="0.7" />
<line x1="181.50" y1="86.88" x2="183.50" y2="86.88" stroke="#333" stroke-width="0.7" />
<line x1="238.99" y1="142.60" x2="238.99" y2="144.60" stroke="#333" stroke-width="0.7" />
<line x1="181.50" y1="85.13" x2="183.50" y2="85.13" stroke="#333" stroke-width="0.7" />
<line x1="240.74" y1="142.60" x2="240.74" y2="144.60" stroke="#333" stroke-width="0.7" />
<line x1="181.50" y1="83.58" x2="183.50" y2="83.58" stroke="#333" stroke-width="0.7" />
<line x1="242.27" y1="142.60" x2="242.27" y2="144.60" stroke="#333" stroke-width="0.7" />
<line x1="180.50" y1="82.20" x2="183.50" y2="82.20" stroke="#333" stroke-width="0.7" />
<line x1="243.65" y1="142.60" x2="243.65" y2="145.60" stroke="#333" stroke-width="0.7" />
<line x1="181.50" y1="73.11" x2="183.50" y2="73.11" stroke="#333" stroke-width="0.7" />
<line x1="252.70" y1="142.60" x2="252.70" y2="144.60" stroke="#333" stroke-width="0.7" />
<line x1="181.50" y1="67.79" x2="183.50" y2="67.79" stroke="#333" stroke-width="0.7" />
<line x1="258.00" y1="142.60" x2="258.00" y2="144.60" stroke="#333" stroke-width="0.7" />
<line x1="181.50" y1="64.02" x2="183.50" y2="64.02" stroke="#333" stroke-width="0.7" />
<line x1="261.76" y1="142.60" x2="261.76" y2="144.60" stroke="#333" stroke-width="0.7" />
<line x1="181.50" y1="61.09" x2="183.50" y2="61.09" stroke="#333" stroke-width="0.7" />
<line x1="264.67" y1="142.60" x2="264.67" y2="144.60" stroke="#333" stroke-width="0.7" />
<line x1="181.50" y1="58.70" x2="183.50" y2="58.70" stroke="#333" stroke-width="0.7" />
<line x1="267.05" y1="142.60" x2="267.05" y2="144.60" stroke="#333" stroke-width="0.7" />
<line x1="181.50" y1="56.68" x2="183.50" y2="56.68" stroke="#333" stroke-width="0.7" />
<line x1="269.07" y1="142.60" x2="269.07" y2="144.60" stroke="#333" stroke-width="0.7" />
<line x1="181.50" y1="54.93" x2="183.50" y2="54.93" stroke="#333" stroke-width="0.7" />
<line x1="270.81" y1="142.60" x2="270.81" y2="144.60" stroke="#333" stroke-width="0.7" />
<line x1="181.50" y1="53.38" x2="183.50" y2="53.38" stroke="#333" stroke-width="0.7" />
<line x1="272.35" y1="142.60" x2="272.35" y2="144.60" stroke="#333" stroke-width="0.7" />
<line x1="180.50" y1="52.00" x2="183.50" y2="52.00" stroke="#333" stroke-width="0.7" />
<line x1="273.73" y1="142.60" x2="273.73" y2="145.60" stroke="#333" stroke-width="0.7" />
<line x1="181.50" y1="42.91" x2="183.50" y2="42.91" stroke="#333" stroke-width="0.7" />
<line x1="282.78" y1="142.60" x2="282.78" y2="144.60" stroke="#333" stroke-width="0.7" />
<line x1="181.50" y1="37.59" x2="183.50" y2="37.59" stroke="#333" stroke-width="0.7" />
<line x1="288.07" y1="142.60" x2="288.07" y2="144.60" stroke="#333" stroke-width="0.7" />
<line x1="181.50" y1="33.82" x2="183.50" y2="33.82" stroke="#333" stroke-width="0.7" />
<line x1="291.83" y1="142.60" x2="291.83" y2="144.60" stroke="#333" stroke-width="0.7" />
<line x1="181.50" y1="30.89" x2="183.50" y2="30.89" stroke="#333" stroke-width="0.7" />
<line x1="294.75" y1="142.60" x2="294.75" y2="144.60" stroke="#333" stroke-width="0.7" />
<line x1="181.50" y1="28.50" x2="183.50" y2="28.50" stroke="#333" stroke-width="0.7" />
<line x1="297.13" y1="142.60" x2="297.13" y2="144.60" stroke="#333" stroke-width="0.7" />
<line x1="181.50" y1="26.48" x2="183.50" y2="26.48" stroke="#333" stroke-width="0.7" />
<line x1="299.14" y1="142.60" x2="299.14" y2="144.60" stroke="#333" stroke-width="0.7" />
<line x1="181.50" y1="24.73" x2="183.50" y2="24.73" stroke="#333" stroke-width="0.7" />
<line x1="300.89" y1="142.60" x2="300.89" y2="144.60" stroke="#333" stroke-width="0.7" />
<line x1="181.50" y1="23.18" x2="183.50" y2="23.18" stroke="#333" stroke-width="0.7" />
<line x1="302.42" y1="142.60" x2="302.42" y2="144.60" stroke="#333" stroke-width="0.7" />
<line x1="180.50" y1="21.80" x2="183.50" y2="21.80" stroke="#333" stroke-width="0.7" />
<line x1="303.80" y1="142.60" x2="303.80" y2="145.60" stroke="#333" stroke-width="0.7" />
<text x="181.10" y="145.20" font-size="6.5" text-anchor="end" fill="#222" stroke="#222" stroke-width="0.2">10<tspan font-size="6" dy="-3.6">0</tspan></text>
<text x="184.10" y="153.40" font-size="6.5" text-anchor="middle" fill="#222" stroke="#222" stroke-width="0.2">10<tspan font-size="6" dy="-3.6">0</tspan></text>
<text x="181.10" y="115.00" font-size="6.5" text-anchor="end" fill="#222" stroke="#222" stroke-width="0.2">10<tspan font-size="6" dy="-3.6">1</tspan></text>
<text x="214.17" y="153.40" font-size="6.5" text-anchor="middle" fill="#222" stroke="#222" stroke-width="0.2">10<tspan font-size="6" dy="-3.6">1</tspan></text>
<text x="181.10" y="84.80" font-size="6.5" text-anchor="end" fill="#222" stroke="#222" stroke-width="0.2">10<tspan font-size="6" dy="-3.6">2</tspan></text>
<text x="244.25" y="153.40" font-size="6.5" text-anchor="middle" fill="#222" stroke="#222" stroke-width="0.2">10<tspan font-size="6" dy="-3.6">2</tspan></text>
<text x="181.10" y="54.60" font-size="6.5" text-anchor="end" fill="#222" stroke="#222" stroke-width="0.2">10<tspan font-size="6" dy="-3.6">3</tspan></text>
<text x="274.33" y="153.40" font-size="6.5" text-anchor="middle" fill="#222" stroke="#222" stroke-width="0.2">10<tspan font-size="6" dy="-3.6">3</tspan></text>
<text x="181.10" y="24.40" font-size="6.5" text-anchor="end" fill="#222" stroke="#222" stroke-width="0.2">10<tspan font-size="6" dy="-3.6">4</tspan></text>
<text x="304.40" y="153.40" font-size="6.5" text-anchor="middle" fill="#222" stroke="#222" stroke-width="0.2">10<tspan font-size="6" dy="-3.6">4</tspan></text>
<text x="188.50" y="32.40" font-size="10" fill="#222" stroke="#222" stroke-width="0.2" textLength="72" lengthAdjust="spacingAndGlyphs">Sca1<tspan font-size="5.3" dy="-3.8">-</tspan><tspan dy="3.8">ckit</tspan><tspan font-size="5.3" dy="-3.8">+</tspan><tspan dy="3.8"> (3.3%)</tspan></text>
<text x="273.20" y="66.20" font-size="10.6" text-anchor="start" font-weight="normal" font-style="normal" fill="#222" stroke="#222" stroke-width="0.2" textLength="25.1" lengthAdjust="spacingAndGlyphs">GMP</text>
<text x="266.40" y="77.70" font-size="10.6" text-anchor="start" font-weight="normal" font-style="normal" fill="#222" stroke="#222" stroke-width="0.2" textLength="39.0" lengthAdjust="spacingAndGlyphs">(35.6%)</text>
<text x="242.50" y="112.00" font-size="10.6" text-anchor="start" font-weight="normal" font-style="normal" fill="#222" stroke="#222" stroke-width="0.2" textLength="60.2" lengthAdjust="spacingAndGlyphs">CMP (7.0%)</text>
<text x="190.90" y="129.00" font-size="10.6" text-anchor="start" font-weight="normal" font-style="normal" fill="#222" stroke="#222" stroke-width="0.2" textLength="65.5" lengthAdjust="spacingAndGlyphs">MEP (13.1%)</text>
<text x="341.60" y="11.20" font-size="11" font-style="italic" fill="#111" stroke="#111" stroke-width="0.2"><tspan dy="0.00">c1</tspan><tspan font-size="6.2" dy="-4.40">LC</tspan><tspan dy="4.40">c2</tspan><tspan font-size="6.2" dy="-4.40">-/-</tspan><tspan dy="4.40">X</tspan><tspan font-size="6.2" dy="-4.40">-/-</tspan></text>
<text x="332.30" y="19.80" font-size="6.0" text-anchor="start" font-weight="normal" font-style="normal" fill="#222" stroke="#222" stroke-width="0.2" textLength="128" lengthAdjust="spacingAndGlyphs">Specimen_001_Tube_085.fcs::((R0)*R1)*R3</text>
<rect x="332.10" y="21.80" width="120.20" height="121.20" fill="none" stroke="#777" stroke-width="1.3" />
<line x1="332.10" y1="21.80" x2="459.10" y2="21.80" stroke="#333" stroke-width="1.0" />
<line x1="332.10" y1="20.80" x2="332.10" y2="143.50" stroke="#222" stroke-width="1.1" />
<line x1="331.60" y1="143.00" x2="452.30" y2="143.00" stroke="#222" stroke-width="1.1" />
<line x1="329.10" y1="143.00" x2="332.10" y2="143.00" stroke="#333" stroke-width="0.7" />
<line x1="332.10" y1="143.00" x2="332.10" y2="146.00" stroke="#333" stroke-width="0.7" />
<line x1="330.10" y1="133.88" x2="332.10" y2="133.88" stroke="#333" stroke-width="0.7" />
<line x1="341.15" y1="143.00" x2="341.15" y2="145.00" stroke="#333" stroke-width="0.7" />
<line x1="330.10" y1="128.54" x2="332.10" y2="128.54" stroke="#333" stroke-width="0.7" />
<line x1="346.44" y1="143.00" x2="346.44" y2="145.00" stroke="#333" stroke-width="0.7" />
<line x1="330.10" y1="124.76" x2="332.10" y2="124.76" stroke="#333" stroke-width="0.7" />
<line x1="350.19" y1="143.00" x2="350.19" y2="145.00" stroke="#333" stroke-width="0.7" />
<line x1="330.10" y1="121.82" x2="332.10" y2="121.82" stroke="#333" stroke-width="0.7" />
<line x1="353.10" y1="143.00" x2="353.10" y2="145.00" stroke="#333" stroke-width="0.7" />
<line x1="330.10" y1="119.42" x2="332.10" y2="119.42" stroke="#333" stroke-width="0.7" />
<line x1="355.48" y1="143.00" x2="355.48" y2="145.00" stroke="#333" stroke-width="0.7" />
<line x1="330.10" y1="117.39" x2="332.10" y2="117.39" stroke="#333" stroke-width="0.7" />
<line x1="357.50" y1="143.00" x2="357.50" y2="145.00" stroke="#333" stroke-width="0.7" />
<line x1="330.10" y1="115.64" x2="332.10" y2="115.64" stroke="#333" stroke-width="0.7" />
<line x1="359.24" y1="143.00" x2="359.24" y2="145.00" stroke="#333" stroke-width="0.7" />
<line x1="330.10" y1="114.09" x2="332.10" y2="114.09" stroke="#333" stroke-width="0.7" />
<line x1="360.77" y1="143.00" x2="360.77" y2="145.00" stroke="#333" stroke-width="0.7" />
<line x1="329.10" y1="112.70" x2="332.10" y2="112.70" stroke="#333" stroke-width="0.7" />
<line x1="362.15" y1="143.00" x2="362.15" y2="146.00" stroke="#333" stroke-width="0.7" />
<line x1="330.10" y1="103.58" x2="332.10" y2="103.58" stroke="#333" stroke-width="0.7" />
<line x1="371.20" y1="143.00" x2="371.20" y2="145.00" stroke="#333" stroke-width="0.7" />
<line x1="330.10" y1="98.24" x2="332.10" y2="98.24" stroke="#333" stroke-width="0.7" />
<line x1="376.49" y1="143.00" x2="376.49" y2="145.00" stroke="#333" stroke-width="0.7" />
<line x1="330.10" y1="94.46" x2="332.10" y2="94.46" stroke="#333" stroke-width="0.7" />
<line x1="380.24" y1="143.00" x2="380.24" y2="145.00" stroke="#333" stroke-width="0.7" />
<line x1="330.10" y1="91.52" x2="332.10" y2="91.52" stroke="#333" stroke-width="0.7" />
<line x1="383.15" y1="143.00" x2="383.15" y2="145.00" stroke="#333" stroke-width="0.7" />
<line x1="330.10" y1="89.12" x2="332.10" y2="89.12" stroke="#333" stroke-width="0.7" />
<line x1="385.53" y1="143.00" x2="385.53" y2="145.00" stroke="#333" stroke-width="0.7" />
<line x1="330.10" y1="87.09" x2="332.10" y2="87.09" stroke="#333" stroke-width="0.7" />
<line x1="387.55" y1="143.00" x2="387.55" y2="145.00" stroke="#333" stroke-width="0.7" />
<line x1="330.10" y1="85.34" x2="332.10" y2="85.34" stroke="#333" stroke-width="0.7" />
<line x1="389.29" y1="143.00" x2="389.29" y2="145.00" stroke="#333" stroke-width="0.7" />
<line x1="330.10" y1="83.79" x2="332.10" y2="83.79" stroke="#333" stroke-width="0.7" />
<line x1="390.82" y1="143.00" x2="390.82" y2="145.00" stroke="#333" stroke-width="0.7" />
<line x1="329.10" y1="82.40" x2="332.10" y2="82.40" stroke="#333" stroke-width="0.7" />
<line x1="392.20" y1="143.00" x2="392.20" y2="146.00" stroke="#333" stroke-width="0.7" />
<line x1="330.10" y1="73.28" x2="332.10" y2="73.28" stroke="#333" stroke-width="0.7" />
<line x1="401.25" y1="143.00" x2="401.25" y2="145.00" stroke="#333" stroke-width="0.7" />
<line x1="330.10" y1="67.94" x2="332.10" y2="67.94" stroke="#333" stroke-width="0.7" />
<line x1="406.54" y1="143.00" x2="406.54" y2="145.00" stroke="#333" stroke-width="0.7" />
<line x1="330.10" y1="64.16" x2="332.10" y2="64.16" stroke="#333" stroke-width="0.7" />
<line x1="410.29" y1="143.00" x2="410.29" y2="145.00" stroke="#333" stroke-width="0.7" />
<line x1="330.10" y1="61.22" x2="332.10" y2="61.22" stroke="#333" stroke-width="0.7" />
<line x1="413.20" y1="143.00" x2="413.20" y2="145.00" stroke="#333" stroke-width="0.7" />
<line x1="330.10" y1="58.82" x2="332.10" y2="58.82" stroke="#333" stroke-width="0.7" />
<line x1="415.58" y1="143.00" x2="415.58" y2="145.00" stroke="#333" stroke-width="0.7" />
<line x1="330.10" y1="56.79" x2="332.10" y2="56.79" stroke="#333" stroke-width="0.7" />
<line x1="417.60" y1="143.00" x2="417.60" y2="145.00" stroke="#333" stroke-width="0.7" />
<line x1="330.10" y1="55.04" x2="332.10" y2="55.04" stroke="#333" stroke-width="0.7" />
<line x1="419.34" y1="143.00" x2="419.34" y2="145.00" stroke="#333" stroke-width="0.7" />
<line x1="330.10" y1="53.49" x2="332.10" y2="53.49" stroke="#333" stroke-width="0.7" />
<line x1="420.87" y1="143.00" x2="420.87" y2="145.00" stroke="#333" stroke-width="0.7" />
<line x1="329.10" y1="52.10" x2="332.10" y2="52.10" stroke="#333" stroke-width="0.7" />
<line x1="422.25" y1="143.00" x2="422.25" y2="146.00" stroke="#333" stroke-width="0.7" />
<line x1="330.10" y1="42.98" x2="332.10" y2="42.98" stroke="#333" stroke-width="0.7" />
<line x1="431.30" y1="143.00" x2="431.30" y2="145.00" stroke="#333" stroke-width="0.7" />
<line x1="330.10" y1="37.64" x2="332.10" y2="37.64" stroke="#333" stroke-width="0.7" />
<line x1="436.59" y1="143.00" x2="436.59" y2="145.00" stroke="#333" stroke-width="0.7" />
<line x1="330.10" y1="33.86" x2="332.10" y2="33.86" stroke="#333" stroke-width="0.7" />
<line x1="440.34" y1="143.00" x2="440.34" y2="145.00" stroke="#333" stroke-width="0.7" />
<line x1="330.10" y1="30.92" x2="332.10" y2="30.92" stroke="#333" stroke-width="0.7" />
<line x1="443.25" y1="143.00" x2="443.25" y2="145.00" stroke="#333" stroke-width="0.7" />
<line x1="330.10" y1="28.52" x2="332.10" y2="28.52" stroke="#333" stroke-width="0.7" />
<line x1="445.63" y1="143.00" x2="445.63" y2="145.00" stroke="#333" stroke-width="0.7" />
<line x1="330.10" y1="26.49" x2="332.10" y2="26.49" stroke="#333" stroke-width="0.7" />
<line x1="447.65" y1="143.00" x2="447.65" y2="145.00" stroke="#333" stroke-width="0.7" />
<line x1="330.10" y1="24.74" x2="332.10" y2="24.74" stroke="#333" stroke-width="0.7" />
<line x1="449.39" y1="143.00" x2="449.39" y2="145.00" stroke="#333" stroke-width="0.7" />
<line x1="330.10" y1="23.19" x2="332.10" y2="23.19" stroke="#333" stroke-width="0.7" />
<line x1="450.92" y1="143.00" x2="450.92" y2="145.00" stroke="#333" stroke-width="0.7" />
<line x1="329.10" y1="21.80" x2="332.10" y2="21.80" stroke="#333" stroke-width="0.7" />
<line x1="452.30" y1="143.00" x2="452.30" y2="146.00" stroke="#333" stroke-width="0.7" />
<text x="329.70" y="145.60" font-size="6.5" text-anchor="end" fill="#222" stroke="#222" stroke-width="0.2">10<tspan font-size="6" dy="-3.6">0</tspan></text>
<text x="332.70" y="153.80" font-size="6.5" text-anchor="middle" fill="#222" stroke="#222" stroke-width="0.2">10<tspan font-size="6" dy="-3.6">0</tspan></text>
<text x="329.70" y="115.30" font-size="6.5" text-anchor="end" fill="#222" stroke="#222" stroke-width="0.2">10<tspan font-size="6" dy="-3.6">1</tspan></text>
<text x="362.75" y="153.80" font-size="6.5" text-anchor="middle" fill="#222" stroke="#222" stroke-width="0.2">10<tspan font-size="6" dy="-3.6">1</tspan></text>
<text x="329.70" y="85.00" font-size="6.5" text-anchor="end" fill="#222" stroke="#222" stroke-width="0.2">10<tspan font-size="6" dy="-3.6">2</tspan></text>
<text x="392.80" y="153.80" font-size="6.5" text-anchor="middle" fill="#222" stroke="#222" stroke-width="0.2">10<tspan font-size="6" dy="-3.6">2</tspan></text>
<text x="329.70" y="54.70" font-size="6.5" text-anchor="end" fill="#222" stroke="#222" stroke-width="0.2">10<tspan font-size="6" dy="-3.6">3</tspan></text>
<text x="422.85" y="153.80" font-size="6.5" text-anchor="middle" fill="#222" stroke="#222" stroke-width="0.2">10<tspan font-size="6" dy="-3.6">3</tspan></text>
<text x="329.70" y="24.40" font-size="6.5" text-anchor="end" fill="#222" stroke="#222" stroke-width="0.2">10<tspan font-size="6" dy="-3.6">4</tspan></text>
<text x="452.90" y="153.80" font-size="6.5" text-anchor="middle" fill="#222" stroke="#222" stroke-width="0.2">10<tspan font-size="6" dy="-3.6">4</tspan></text>
<text x="337.10" y="32.40" font-size="10" fill="#222" stroke="#222" stroke-width="0.2" textLength="72" lengthAdjust="spacingAndGlyphs">Sca1<tspan font-size="5.3" dy="-3.8">-</tspan><tspan dy="3.8">ckit</tspan><tspan font-size="5.3" dy="-3.8">+</tspan><tspan dy="3.8"> (5.1%)</tspan></text>
<text x="421.30" y="65.40" font-size="10.6" text-anchor="start" font-weight="normal" font-style="normal" fill="#222" stroke="#222" stroke-width="0.2" textLength="26.0" lengthAdjust="spacingAndGlyphs">GMP</text>
<text x="415.20" y="76.90" font-size="10.6" text-anchor="start" font-weight="normal" font-style="normal" fill="#222" stroke="#222" stroke-width="0.2" textLength="37.6" lengthAdjust="spacingAndGlyphs">(30.8%)</text>
<text x="391.50" y="110.80" font-size="10.6" text-anchor="start" font-weight="normal" font-style="normal" fill="#222" stroke="#222" stroke-width="0.2" textLength="60.5" lengthAdjust="spacingAndGlyphs">CMP (1.6%)</text>
<text x="338.90" y="128.60" font-size="10.6" text-anchor="start" font-weight="normal" font-style="normal" fill="#222" stroke="#222" stroke-width="0.2" textLength="58.7" lengthAdjust="spacingAndGlyphs">MEP (2.0%)</text>
<g>
<path d="M46.50,59.00 C47.08,57.50 49.75,55.42 52.00,54.00 C54.25,52.58 57.33,51.50 60.00,50.50 C62.67,49.50 65.12,48.67 68.00,48.00 C70.88,47.33 74.30,46.92 77.30,46.50 C80.30,46.08 83.12,45.67 86.00,45.50 C88.88,45.33 91.77,45.28 94.60,45.50 C97.43,45.72 100.43,46.12 103.00,46.80 C105.57,47.48 107.92,48.40 110.00,49.60 C112.08,50.80 114.03,52.27 115.50,54.00 C116.97,55.73 118.42,57.92 118.80,60.00 C119.18,62.08 118.52,64.42 117.80,66.50 C117.08,68.58 115.63,70.58 114.50,72.50 C113.37,74.42 112.17,76.00 111.00,78.00 C109.83,80.00 108.83,82.53 107.50,84.50 C106.17,86.47 104.50,88.13 103.00,89.80 C101.50,91.47 99.83,92.80 98.50,94.50 C97.17,96.20 96.08,98.17 95.00,100.00 C93.92,101.83 93.25,103.67 92.00,105.50 C90.75,107.33 89.33,109.52 87.50,111.00 C85.67,112.48 83.25,114.00 81.00,114.40 C78.75,114.80 76.12,114.22 74.00,113.40 C71.88,112.58 69.58,111.40 68.30,109.50 C67.02,107.60 66.35,104.42 66.30,102.00 C66.25,99.58 67.28,97.00 68.00,95.00 C68.72,93.00 69.68,91.75 70.60,90.00 C71.52,88.25 72.35,85.90 73.50,84.50 C74.65,83.10 75.92,82.38 77.50,81.60 C79.08,80.82 81.72,80.50 83.00,79.80 C84.28,79.10 85.12,78.10 85.20,77.40 C85.28,76.70 84.70,76.00 83.50,75.60 C82.30,75.20 80.15,75.40 78.00,75.00 C75.85,74.60 73.60,74.03 70.60,73.20 C67.60,72.37 62.93,71.10 60.00,70.00 C57.07,68.90 54.92,67.77 53.00,66.60 C51.08,65.43 49.58,64.27 48.50,63.00 C47.42,61.73 45.92,60.50 46.50,59.00Z" stroke="none" stroke-width="1" fill="#fff" />
<path d="M47.58,58.55 C47.87,57.01 50.99,55.47 53.11,54.18 C55.23,52.89 57.86,51.75 60.29,50.78 C62.71,49.81 65.17,48.99 67.66,48.36 C70.15,47.73 72.80,47.39 75.23,47.00 C77.65,46.61 79.72,46.23 82.21,46.03 C84.70,45.84 87.90,45.77 90.16,45.84 C92.43,45.90 93.80,46.10 95.79,46.42 C97.78,46.74 100.16,47.21 102.09,47.78 C104.03,48.34 105.70,49.07 107.43,49.81 C109.16,50.56 111.02,51.19 112.47,52.24 C113.93,53.29 115.16,54.75 116.16,56.12 C117.16,57.49 118.16,59.03 118.49,60.48 C118.81,61.94 118.36,63.49 118.10,64.85 C117.84,66.21 117.58,67.42 116.94,68.63 C116.29,69.85 115.48,71.22 114.22,72.12 C112.96,73.03 111.80,73.69 109.37,74.06 C106.95,74.44 102.90,74.36 99.67,74.36 C96.44,74.36 92.80,74.15 89.97,74.06 C87.14,73.98 85.60,74.15 82.69,73.87 C79.78,73.60 76.24,73.40 72.51,72.42 C68.78,71.43 63.81,69.46 60.29,67.95 C56.76,66.45 53.48,64.96 51.36,63.40 C49.25,61.83 47.29,60.08 47.58,58.55Z" stroke="none" stroke-width="1" fill="#f2f2f2" />
<path d="M50.57,58.60 C50.84,57.17 53.73,55.75 55.70,54.55 C57.66,53.35 60.11,52.30 62.36,51.40 C64.61,50.50 66.89,49.73 69.20,49.15 C71.51,48.56 73.97,48.25 76.22,47.89 C78.47,47.53 80.39,47.17 82.70,46.99 C85.01,46.81 87.98,46.75 90.08,46.81 C92.18,46.87 93.45,47.05 95.30,47.35 C97.14,47.65 99.35,48.09 101.15,48.61 C102.95,49.13 104.49,49.81 106.10,50.50 C107.70,51.19 109.43,51.77 110.78,52.75 C112.13,53.73 113.27,55.08 114.20,56.35 C115.13,57.62 116.06,59.05 116.36,60.40 C116.66,61.75 116.24,63.19 116.00,64.45 C115.76,65.71 115.52,66.84 114.92,67.96 C114.32,69.09 113.57,70.36 112.40,71.20 C111.23,72.04 110.15,72.66 107.90,73.00 C105.65,73.34 101.90,73.27 98.90,73.27 C95.90,73.27 92.53,73.08 89.90,73.00 C87.28,72.92 85.85,73.07 83.15,72.82 C80.45,72.56 77.17,72.38 73.70,71.47 C70.23,70.56 65.63,68.72 62.36,67.33 C59.09,65.94 56.05,64.56 54.08,63.10 C52.11,61.65 50.30,60.03 50.57,58.60Z" stroke="#7c7c7c" stroke-width="0.8" fill="none" />
<path d="M54.84,58.70 C55.08,57.43 57.65,56.17 59.40,55.10 C61.15,54.03 63.32,53.10 65.32,52.30 C67.32,51.50 69.35,50.82 71.40,50.30 C73.45,49.78 75.64,49.50 77.64,49.18 C79.64,48.86 81.35,48.54 83.40,48.38 C85.45,48.22 88.09,48.17 89.96,48.22 C91.83,48.27 92.96,48.43 94.60,48.70 C96.24,48.97 98.20,49.35 99.80,49.82 C101.40,50.29 102.77,50.89 104.20,51.50 C105.63,52.11 107.16,52.63 108.36,53.50 C109.56,54.37 110.57,55.57 111.40,56.70 C112.23,57.83 113.05,59.10 113.32,60.30 C113.59,61.50 113.21,62.78 113.00,63.90 C112.79,65.02 112.57,66.02 112.04,67.02 C111.51,68.02 110.84,69.15 109.80,69.90 C108.76,70.65 107.80,71.19 105.80,71.50 C103.80,71.81 100.47,71.74 97.80,71.74 C95.13,71.74 92.13,71.57 89.80,71.50 C87.47,71.43 86.20,71.57 83.80,71.34 C81.40,71.11 78.48,70.95 75.40,70.14 C72.32,69.33 68.23,67.70 65.32,66.46 C62.41,65.22 59.71,63.99 57.96,62.70 C56.21,61.41 54.60,59.97 54.84,58.70Z" stroke="#7c7c7c" stroke-width="0.8" fill="none" />
<path d="M58.68,58.79 C58.90,57.67 61.18,56.54 62.73,55.59 C64.28,54.65 66.21,53.82 67.98,53.11 C69.76,52.40 71.56,51.80 73.38,51.34 C75.20,50.87 77.14,50.62 78.92,50.34 C80.69,50.06 82.21,49.77 84.03,49.63 C85.85,49.49 88.20,49.44 89.85,49.49 C91.51,49.54 92.51,49.68 93.97,49.91 C95.43,50.15 97.16,50.49 98.58,50.91 C100.00,51.32 101.22,51.86 102.49,52.40 C103.76,52.94 105.12,53.41 106.18,54.17 C107.25,54.94 108.15,56.01 108.88,57.02 C109.61,58.02 110.35,59.15 110.58,60.21 C110.82,61.27 110.49,62.41 110.30,63.41 C110.11,64.40 109.92,65.29 109.45,66.17 C108.97,67.06 108.38,68.07 107.46,68.73 C106.54,69.39 105.69,69.88 103.91,70.15 C102.13,70.42 99.18,70.36 96.81,70.36 C94.44,70.36 91.78,70.21 89.71,70.15 C87.64,70.09 86.52,70.21 84.39,70.01 C82.26,69.81 79.66,69.66 76.93,68.94 C74.20,68.22 70.56,66.78 67.98,65.68 C65.40,64.58 63.00,63.49 61.45,62.34 C59.90,61.19 58.47,59.91 58.68,58.79Z" stroke="#7c7c7c" stroke-width="0.8" fill="none" />
<path d="M62.53,58.88 C62.71,57.90 64.71,56.92 66.06,56.09 C67.41,55.26 69.10,54.54 70.65,53.92 C72.20,53.30 73.77,52.77 75.36,52.37 C76.95,51.97 78.65,51.75 80.20,51.50 C81.75,51.25 83.07,51.01 84.66,50.88 C86.25,50.76 88.30,50.72 89.74,50.76 C91.19,50.80 92.07,50.92 93.34,51.13 C94.61,51.34 96.13,51.64 97.37,52.00 C98.61,52.36 99.67,52.82 100.78,53.30 C101.89,53.78 103.07,54.18 104.00,54.85 C104.93,55.52 105.72,56.45 106.36,57.33 C107.00,58.21 107.64,59.19 107.85,60.12 C108.05,61.05 107.77,62.04 107.60,62.91 C107.43,63.78 107.27,64.55 106.86,65.33 C106.44,66.10 105.93,66.98 105.12,67.56 C104.31,68.14 103.57,68.56 102.02,68.80 C100.47,69.04 97.89,68.99 95.82,68.99 C93.75,68.99 91.43,68.85 89.62,68.80 C87.81,68.75 86.83,68.85 84.97,68.68 C83.11,68.50 80.85,68.38 78.46,67.75 C76.07,67.12 72.90,65.86 70.65,64.89 C68.40,63.93 66.30,62.98 64.94,61.98 C63.59,60.98 62.34,59.86 62.53,58.88Z" stroke="#262626" stroke-width="1.0" fill="none" />
<path d="M65.94,58.96 C66.10,58.11 67.84,57.25 69.02,56.53 C70.20,55.81 71.67,55.18 73.02,54.64 C74.37,54.10 75.73,53.64 77.12,53.29 C78.51,52.94 79.98,52.75 81.33,52.53 C82.68,52.32 83.83,52.10 85.22,51.99 C86.61,51.89 88.39,51.85 89.65,51.89 C90.91,51.92 91.67,52.03 92.78,52.21 C93.89,52.39 95.21,52.65 96.29,52.97 C97.37,53.28 98.30,53.69 99.26,54.10 C100.22,54.51 101.26,54.87 102.07,55.45 C102.88,56.04 103.56,56.84 104.12,57.61 C104.68,58.38 105.24,59.23 105.42,60.04 C105.60,60.85 105.34,61.71 105.20,62.47 C105.06,63.23 104.91,63.90 104.55,64.58 C104.19,65.25 103.74,66.02 103.04,66.52 C102.34,67.02 101.69,67.39 100.34,67.60 C98.99,67.81 96.74,67.76 94.94,67.76 C93.14,67.76 91.12,67.64 89.54,67.60 C87.97,67.55 87.11,67.65 85.49,67.49 C83.87,67.34 81.90,67.23 79.82,66.68 C77.74,66.13 74.98,65.04 73.02,64.20 C71.05,63.36 69.23,62.53 68.05,61.66 C66.87,60.79 65.78,59.81 65.94,58.96Z" stroke="#7c7c7c" stroke-width="0.8" fill="none" />
<path d="M69.36,59.04 C69.50,58.31 70.98,57.58 71.98,56.97 C72.98,56.36 74.23,55.82 75.38,55.36 C76.53,54.90 77.70,54.51 78.88,54.21 C80.06,53.91 81.32,53.75 82.47,53.57 C83.62,53.38 84.60,53.20 85.78,53.11 C86.96,53.01 88.48,52.98 89.55,53.01 C90.63,53.04 91.28,53.14 92.22,53.29 C93.16,53.44 94.29,53.67 95.21,53.93 C96.13,54.20 96.92,54.55 97.74,54.90 C98.56,55.25 99.44,55.55 100.13,56.05 C100.82,56.55 101.40,57.24 101.88,57.89 C102.36,58.54 102.83,59.27 102.98,59.96 C103.14,60.65 102.92,61.39 102.80,62.03 C102.68,62.67 102.55,63.25 102.25,63.82 C101.94,64.40 101.56,65.05 100.96,65.48 C100.36,65.91 99.81,66.22 98.66,66.40 C97.51,66.58 95.59,66.54 94.06,66.54 C92.53,66.54 90.80,66.44 89.46,66.40 C88.12,66.36 87.39,66.44 86.01,66.31 C84.63,66.18 82.95,66.09 81.18,65.62 C79.41,65.15 77.06,64.22 75.38,63.50 C73.71,62.79 72.16,62.08 71.15,61.34 C70.15,60.60 69.22,59.77 69.36,59.04Z" stroke="#7c7c7c" stroke-width="0.8" fill="none" />
<path d="M72.77,59.12 C72.89,58.52 74.11,57.92 74.94,57.41 C75.77,56.90 76.80,56.46 77.75,56.08 C78.70,55.70 79.66,55.38 80.64,55.13 C81.62,54.88 82.65,54.75 83.60,54.60 C84.55,54.45 85.36,54.29 86.34,54.22 C87.32,54.14 88.57,54.12 89.46,54.14 C90.34,54.17 90.88,54.24 91.66,54.37 C92.44,54.50 93.37,54.68 94.13,54.90 C94.89,55.12 95.54,55.41 96.22,55.70 C96.90,55.99 97.63,56.24 98.20,56.65 C98.77,57.06 99.25,57.63 99.64,58.17 C100.03,58.71 100.43,59.31 100.55,59.88 C100.68,60.45 100.50,61.06 100.40,61.59 C100.30,62.12 100.20,62.60 99.94,63.07 C99.69,63.55 99.37,64.09 98.88,64.44 C98.39,64.79 97.93,65.05 96.98,65.20 C96.03,65.35 94.45,65.31 93.18,65.31 C91.91,65.31 90.49,65.23 89.38,65.20 C88.27,65.17 87.67,65.23 86.53,65.12 C85.39,65.02 84.00,64.94 82.54,64.55 C81.08,64.17 79.13,63.39 77.75,62.81 C76.37,62.22 75.09,61.63 74.26,61.02 C73.43,60.41 72.66,59.72 72.77,59.12Z" stroke="#262626" stroke-width="1.0" fill="none" />
<path d="M76.19,59.20 C76.28,58.73 77.25,58.25 77.90,57.85 C78.56,57.45 79.37,57.10 80.12,56.80 C80.87,56.50 81.63,56.24 82.40,56.05 C83.17,55.85 83.99,55.75 84.74,55.63 C85.49,55.51 86.13,55.39 86.90,55.33 C87.67,55.27 88.66,55.25 89.36,55.27 C90.06,55.29 90.48,55.35 91.10,55.45 C91.71,55.55 92.45,55.70 93.05,55.87 C93.65,56.04 94.17,56.27 94.70,56.50 C95.23,56.73 95.81,56.92 96.26,57.25 C96.71,57.58 97.09,58.03 97.40,58.45 C97.71,58.88 98.02,59.35 98.12,59.80 C98.22,60.25 98.08,60.73 98.00,61.15 C97.92,61.57 97.84,61.95 97.64,62.32 C97.44,62.70 97.19,63.12 96.80,63.40 C96.41,63.68 96.05,63.88 95.30,64.00 C94.55,64.11 93.30,64.09 92.30,64.09 C91.30,64.09 90.17,64.03 89.30,64.00 C88.42,63.98 87.95,64.02 87.05,63.94 C86.15,63.85 85.06,63.80 83.90,63.49 C82.75,63.19 81.21,62.58 80.12,62.11 C79.03,61.64 78.02,61.19 77.36,60.70 C76.70,60.22 76.10,59.68 76.19,59.20Z" stroke="#7c7c7c" stroke-width="0.8" fill="none" />
<path d="M79.61,59.28 C79.67,58.93 80.38,58.58 80.86,58.29 C81.34,58.00 81.94,57.74 82.49,57.52 C83.04,57.30 83.60,57.11 84.16,56.97 C84.72,56.83 85.33,56.75 85.88,56.66 C86.43,56.57 86.90,56.49 87.46,56.44 C88.02,56.40 88.75,56.38 89.26,56.40 C89.78,56.41 90.09,56.46 90.54,56.53 C90.99,56.60 91.53,56.71 91.97,56.84 C92.41,56.97 92.79,57.13 93.18,57.30 C93.57,57.47 93.99,57.61 94.32,57.85 C94.65,58.09 94.93,58.42 95.16,58.73 C95.39,59.04 95.61,59.39 95.69,59.72 C95.76,60.05 95.66,60.40 95.60,60.71 C95.54,61.02 95.48,61.29 95.34,61.57 C95.19,61.84 95.01,62.15 94.72,62.36 C94.43,62.57 94.17,62.72 93.62,62.80 C93.07,62.88 92.15,62.87 91.42,62.87 C90.69,62.87 89.86,62.82 89.22,62.80 C88.58,62.78 88.23,62.82 87.57,62.76 C86.91,62.69 86.11,62.65 85.26,62.43 C84.41,62.20 83.29,61.76 82.49,61.41 C81.69,61.07 80.94,60.74 80.46,60.38 C79.98,60.02 79.54,59.63 79.61,59.28Z" stroke="#262626" stroke-width="1.0" fill="none" />
<path d="M83.02,59.36 C83.06,59.14 83.51,58.92 83.82,58.73 C84.13,58.54 84.51,58.38 84.86,58.24 C85.21,58.10 85.56,57.98 85.92,57.89 C86.28,57.80 86.66,57.75 87.01,57.69 C87.36,57.64 87.66,57.58 88.02,57.55 C88.38,57.53 88.84,57.52 89.17,57.53 C89.49,57.54 89.69,57.56 89.98,57.61 C90.27,57.66 90.61,57.72 90.89,57.81 C91.17,57.89 91.41,57.99 91.66,58.10 C91.91,58.21 92.18,58.30 92.39,58.45 C92.60,58.60 92.78,58.81 92.92,59.01 C93.06,59.21 93.21,59.43 93.26,59.64 C93.30,59.85 93.24,60.07 93.20,60.27 C93.16,60.47 93.13,60.64 93.03,60.82 C92.94,60.99 92.82,61.19 92.64,61.32 C92.46,61.45 92.29,61.55 91.94,61.60 C91.59,61.65 91.01,61.64 90.54,61.64 C90.07,61.64 89.55,61.61 89.14,61.60 C88.73,61.59 88.51,61.61 88.09,61.57 C87.67,61.53 87.16,61.50 86.62,61.36 C86.08,61.22 85.36,60.94 84.86,60.72 C84.35,60.50 83.87,60.29 83.57,60.06 C83.26,59.83 82.98,59.58 83.02,59.36Z" stroke="#7c7c7c" stroke-width="0.8" fill="none" />
<path d="M81.00,83.50 C79.75,84.33 77.80,85.25 76.50,87.00 C75.20,88.75 73.90,91.58 73.20,94.00 C72.50,96.42 71.68,99.47 72.30,101.50 C72.92,103.53 74.90,105.25 76.90,106.20 C78.90,107.15 82.28,107.65 84.30,107.20 C86.32,106.75 87.63,105.03 89.00,103.50 C90.37,101.97 91.17,99.83 92.50,98.00 C93.83,96.17 95.25,94.42 97.00,92.50 C98.75,90.58 101.25,88.67 103.00,86.50 C104.75,84.33 108.00,80.67 107.50,79.50 C107.00,78.33 102.92,79.25 100.00,79.50 C97.08,79.75 92.67,80.58 90.00,81.00 C87.33,81.42 85.50,81.58 84.00,82.00 C82.50,82.42 82.25,82.67 81.00,83.50Z" stroke="#555" stroke-width="0.9" fill="none" />
<ellipse cx="82.2" cy="98.6" rx="7.4" ry="5.3" fill="#f2f2f2" stroke="#bbb" stroke-width="1.3"/>
<ellipse cx="82.2" cy="98.6" rx="3.8" ry="2.6" fill="none" stroke="#ccc" stroke-width="0.8"/>
<path d="M46.50,59.00 C47.08,57.50 49.75,55.42 52.00,54.00 C54.25,52.58 57.33,51.50 60.00,50.50 C62.67,49.50 65.12,48.67 68.00,48.00 C70.88,47.33 74.30,46.92 77.30,46.50 C80.30,46.08 83.12,45.67 86.00,45.50 C88.88,45.33 91.77,45.28 94.60,45.50 C97.43,45.72 100.43,46.12 103.00,46.80 C105.57,47.48 107.92,48.40 110.00,49.60 C112.08,50.80 114.03,52.27 115.50,54.00 C116.97,55.73 118.42,57.92 118.80,60.00 C119.18,62.08 118.52,64.42 117.80,66.50 C117.08,68.58 115.63,70.58 114.50,72.50 C113.37,74.42 112.17,76.00 111.00,78.00 C109.83,80.00 108.83,82.53 107.50,84.50 C106.17,86.47 104.50,88.13 103.00,89.80 C101.50,91.47 99.83,92.80 98.50,94.50 C97.17,96.20 96.08,98.17 95.00,100.00 C93.92,101.83 93.25,103.67 92.00,105.50 C90.75,107.33 89.33,109.52 87.50,111.00 C85.67,112.48 83.25,114.00 81.00,114.40 C78.75,114.80 76.12,114.22 74.00,113.40 C71.88,112.58 69.58,111.40 68.30,109.50 C67.02,107.60 66.35,104.42 66.30,102.00 C66.25,99.58 67.28,97.00 68.00,95.00 C68.72,93.00 69.68,91.75 70.60,90.00 C71.52,88.25 72.35,85.90 73.50,84.50 C74.65,83.10 75.92,82.38 77.50,81.60 C79.08,80.82 81.72,80.50 83.00,79.80 C84.28,79.10 85.12,78.10 85.20,77.40 C85.28,76.70 84.70,76.00 83.50,75.60 C82.30,75.20 80.15,75.40 78.00,75.00 C75.85,74.60 73.60,74.03 70.60,73.20 C67.60,72.37 62.93,71.10 60.00,70.00 C57.07,68.90 54.92,67.77 53.00,66.60 C51.08,65.43 49.58,64.27 48.50,63.00 C47.42,61.73 45.92,60.50 46.50,59.00Z" stroke="#1a1a1a" stroke-width="1.3" fill="none" />
</g>
<path d="M201.20,59.00 C201.53,57.83 203.40,56.42 205.00,55.50 C206.60,54.58 207.53,54.25 210.80,53.50 C214.07,52.75 220.73,51.62 224.60,51.00 C228.47,50.38 231.12,50.10 234.00,49.80 C236.88,49.50 239.23,49.28 241.90,49.20 C244.57,49.12 247.68,49.13 250.00,49.30 C252.32,49.47 253.68,49.48 255.80,50.20 C257.92,50.92 260.97,51.88 262.70,53.60 C264.43,55.32 265.82,58.10 266.20,60.50 C266.58,62.90 265.70,65.58 265.00,68.00 C264.30,70.42 263.08,72.67 262.00,75.00 C260.92,77.33 259.75,79.67 258.50,82.00 C257.25,84.33 255.92,86.58 254.50,89.00 C253.08,91.42 251.58,94.08 250.00,96.50 C248.42,98.92 246.73,101.33 245.00,103.50 C243.27,105.67 241.47,108.32 239.60,109.50 C237.73,110.68 236.68,110.62 233.80,110.60 C230.92,110.58 225.18,110.33 222.30,109.40 C219.42,108.47 218.03,106.57 216.50,105.00 C214.97,103.43 213.57,101.75 213.10,100.00 C212.63,98.25 213.13,96.62 213.70,94.50 C214.27,92.38 215.25,89.30 216.50,87.30 C217.75,85.30 219.27,84.03 221.20,82.50 C223.13,80.97 226.13,79.18 228.10,78.10 C230.07,77.02 231.52,76.58 233.00,76.00 C234.48,75.42 236.58,75.13 237.00,74.60 C237.42,74.07 236.42,73.23 235.50,72.80 C234.58,72.37 233.88,72.57 231.50,72.00 C229.12,71.43 224.95,70.55 221.20,69.40 C217.45,68.25 212.03,66.25 209.00,65.10 C205.97,63.95 204.30,63.52 203.00,62.50 C201.70,61.48 200.87,60.17 201.20,59.00Z" stroke="none" stroke-width="1" fill="#fff" />
<path d="M202.42,59.08 C202.99,58.03 205.33,56.65 207.08,55.68 C208.83,54.71 209.89,54.02 212.90,53.26 C215.91,52.50 221.57,51.64 225.12,51.12 C228.68,50.61 231.44,50.41 234.24,50.15 C237.04,49.90 239.32,49.64 241.90,49.57 C244.49,49.51 247.40,49.57 249.76,49.77 C252.12,49.96 254.21,50.15 256.06,50.74 C257.92,51.32 259.54,52.19 260.92,53.26 C262.29,54.33 263.55,55.84 264.31,57.14 C265.07,58.43 265.39,59.56 265.47,61.02 C265.55,62.47 265.23,64.33 264.80,65.87 C264.36,67.40 264.07,69.02 262.86,70.23 C261.64,71.45 259.70,72.58 257.52,73.14 C255.34,73.71 252.67,73.63 249.76,73.63 C246.85,73.63 242.97,73.39 240.06,73.14 C237.15,72.90 234.89,72.66 232.30,72.17 C229.71,71.69 227.45,71.04 224.54,70.23 C221.63,69.42 217.67,68.29 214.84,67.32 C212.01,66.35 209.42,65.30 207.56,64.41 C205.71,63.52 204.54,62.88 203.69,61.99 C202.83,61.10 201.86,60.13 202.42,59.08Z" stroke="none" stroke-width="1" fill="#f2f2f2" />
<path d="M205.48,59.26 C206.00,58.28 208.18,57.01 209.80,56.11 C211.42,55.21 212.41,54.56 215.20,53.86 C217.99,53.16 223.24,52.36 226.54,51.88 C229.84,51.40 232.41,51.22 235.00,50.98 C237.59,50.74 239.71,50.50 242.11,50.44 C244.51,50.38 247.21,50.44 249.40,50.62 C251.59,50.80 253.53,50.98 255.25,51.52 C256.98,52.06 258.48,52.87 259.75,53.86 C261.02,54.85 262.19,56.26 262.90,57.46 C263.60,58.66 263.91,59.71 263.98,61.06 C264.06,62.41 263.75,64.14 263.35,65.56 C262.95,66.98 262.68,68.48 261.55,69.61 C260.43,70.73 258.62,71.78 256.60,72.31 C254.58,72.84 252.10,72.76 249.40,72.76 C246.70,72.76 243.10,72.53 240.40,72.31 C237.70,72.09 235.60,71.86 233.20,71.41 C230.80,70.96 228.70,70.36 226.00,69.61 C223.30,68.86 219.62,67.81 217.00,66.91 C214.38,66.01 211.97,65.03 210.25,64.21 C208.53,63.38 207.44,62.78 206.65,61.96 C205.86,61.14 204.95,60.23 205.48,59.26Z" stroke="#7c7c7c" stroke-width="0.8" fill="none" />
<path d="M209.76,59.52 C210.23,58.65 212.16,57.52 213.60,56.72 C215.04,55.92 215.92,55.35 218.40,54.72 C220.88,54.09 225.55,53.39 228.48,52.96 C231.41,52.53 233.69,52.37 236.00,52.16 C238.31,51.95 240.19,51.73 242.32,51.68 C244.45,51.63 246.85,51.68 248.80,51.84 C250.75,52.00 252.47,52.16 254.00,52.64 C255.53,53.12 256.87,53.84 258.00,54.72 C259.13,55.60 260.17,56.85 260.80,57.92 C261.43,58.99 261.69,59.92 261.76,61.12 C261.83,62.32 261.56,63.85 261.20,65.12 C260.84,66.39 260.60,67.72 259.60,68.72 C258.60,69.72 257.00,70.65 255.20,71.12 C253.40,71.59 251.20,71.52 248.80,71.52 C246.40,71.52 243.20,71.32 240.80,71.12 C238.40,70.92 236.53,70.72 234.40,70.32 C232.27,69.92 230.40,69.39 228.00,68.72 C225.60,68.05 222.33,67.12 220.00,66.32 C217.67,65.52 215.53,64.65 214.00,63.92 C212.47,63.19 211.51,62.65 210.80,61.92 C210.09,61.19 209.29,60.39 209.76,59.52Z" stroke="#7c7c7c" stroke-width="0.8" fill="none" />
<path d="M213.61,59.75 C214.03,58.98 215.74,57.98 217.02,57.27 C218.30,56.56 219.08,56.05 221.28,55.49 C223.48,54.94 227.62,54.31 230.23,53.93 C232.83,53.55 234.85,53.41 236.90,53.22 C238.95,53.03 240.62,52.84 242.51,52.80 C244.40,52.75 246.53,52.80 248.26,52.94 C249.99,53.08 251.51,53.22 252.88,53.65 C254.24,54.07 255.42,54.71 256.43,55.49 C257.43,56.27 258.35,57.39 258.91,58.33 C259.47,59.28 259.70,60.11 259.76,61.17 C259.82,62.24 259.58,63.60 259.26,64.72 C258.95,65.85 258.73,67.03 257.85,67.92 C256.96,68.81 255.54,69.63 253.94,70.05 C252.34,70.46 250.39,70.40 248.26,70.40 C246.13,70.40 243.29,70.23 241.16,70.05 C239.03,69.87 237.37,69.69 235.48,69.34 C233.59,68.98 231.93,68.51 229.80,67.92 C227.67,67.33 224.77,66.50 222.70,65.79 C220.63,65.08 218.74,64.31 217.38,63.66 C216.01,63.01 215.16,62.53 214.53,61.88 C213.91,61.23 213.20,60.52 213.61,59.75Z" stroke="#7c7c7c" stroke-width="0.8" fill="none" />
<path d="M217.46,59.99 C217.83,59.32 219.32,58.44 220.44,57.82 C221.56,57.20 222.24,56.75 224.16,56.27 C226.08,55.78 229.70,55.23 231.97,54.90 C234.25,54.57 236.01,54.45 237.80,54.28 C239.59,54.12 241.04,53.95 242.70,53.91 C244.35,53.87 246.21,53.91 247.72,54.04 C249.23,54.16 250.56,54.28 251.75,54.66 C252.94,55.03 253.97,55.59 254.85,56.27 C255.73,56.95 256.53,57.92 257.02,58.75 C257.51,59.57 257.71,60.30 257.76,61.23 C257.82,62.16 257.61,63.35 257.33,64.33 C257.05,65.31 256.86,66.34 256.09,67.12 C255.31,67.89 254.07,68.62 252.68,68.98 C251.29,69.34 249.58,69.29 247.72,69.29 C245.86,69.29 243.38,69.13 241.52,68.98 C239.66,68.82 238.21,68.67 236.56,68.36 C234.91,68.05 233.46,67.63 231.60,67.12 C229.74,66.60 227.21,65.88 225.40,65.26 C223.59,64.64 221.94,63.97 220.75,63.40 C219.56,62.83 218.82,62.42 218.27,61.85 C217.72,61.28 217.10,60.66 217.46,59.99Z" stroke="#262626" stroke-width="1.0" fill="none" />
<path d="M220.89,60.20 C221.20,59.61 222.51,58.85 223.48,58.31 C224.45,57.77 225.05,57.38 226.72,56.96 C228.39,56.53 231.54,56.06 233.52,55.77 C235.50,55.48 237.04,55.37 238.60,55.23 C240.16,55.08 241.43,54.94 242.87,54.90 C244.31,54.87 245.93,54.90 247.24,55.01 C248.55,55.12 249.72,55.23 250.75,55.55 C251.78,55.88 252.69,56.36 253.45,56.96 C254.21,57.55 254.92,58.40 255.34,59.12 C255.76,59.84 255.94,60.47 255.99,61.28 C256.03,62.09 255.85,63.12 255.61,63.98 C255.37,64.83 255.21,65.73 254.53,66.41 C253.85,67.08 252.78,67.71 251.56,68.03 C250.34,68.34 248.86,68.30 247.24,68.30 C245.62,68.30 243.46,68.16 241.84,68.03 C240.22,67.89 238.96,67.76 237.52,67.49 C236.08,67.22 234.82,66.86 233.20,66.41 C231.58,65.96 229.38,65.33 227.80,64.79 C226.23,64.25 224.78,63.66 223.75,63.17 C222.72,62.67 222.07,62.31 221.59,61.82 C221.11,61.32 220.57,60.78 220.89,60.20Z" stroke="#7c7c7c" stroke-width="0.8" fill="none" />
<path d="M224.31,60.40 C224.58,59.91 225.69,59.25 226.52,58.79 C227.35,58.33 227.85,58.00 229.28,57.64 C230.71,57.28 233.39,56.88 235.08,56.63 C236.76,56.39 238.07,56.29 239.40,56.17 C240.73,56.05 241.81,55.93 243.03,55.90 C244.26,55.87 245.64,55.90 246.76,55.99 C247.88,56.08 248.87,56.17 249.75,56.45 C250.63,56.72 251.40,57.14 252.05,57.64 C252.70,58.15 253.30,58.87 253.66,59.48 C254.02,60.10 254.17,60.63 254.21,61.32 C254.25,62.01 254.10,62.90 253.89,63.62 C253.68,64.35 253.54,65.12 252.97,65.69 C252.40,66.27 251.47,66.81 250.44,67.07 C249.41,67.34 248.14,67.30 246.76,67.30 C245.38,67.30 243.54,67.19 242.16,67.07 C240.78,66.96 239.71,66.84 238.48,66.61 C237.25,66.38 236.18,66.08 234.80,65.69 C233.42,65.31 231.54,64.77 230.20,64.31 C228.86,63.85 227.63,63.36 226.75,62.93 C225.87,62.51 225.32,62.21 224.91,61.78 C224.50,61.36 224.04,60.90 224.31,60.40Z" stroke="#7c7c7c" stroke-width="0.8" fill="none" />
<path d="M227.74,60.61 C227.96,60.20 228.88,59.66 229.56,59.28 C230.24,58.90 230.66,58.63 231.84,58.33 C233.02,58.03 235.23,57.70 236.63,57.50 C238.02,57.29 239.10,57.22 240.20,57.12 C241.30,57.01 242.19,56.91 243.20,56.89 C244.22,56.86 245.36,56.89 246.28,56.96 C247.20,57.04 248.02,57.12 248.75,57.34 C249.48,57.57 250.11,57.91 250.65,58.33 C251.19,58.75 251.68,59.35 251.98,59.85 C252.28,60.36 252.40,60.80 252.44,61.37 C252.47,61.94 252.34,62.67 252.17,63.27 C252.00,63.87 251.88,64.51 251.41,64.98 C250.94,65.46 250.17,65.90 249.32,66.12 C248.47,66.34 247.42,66.31 246.28,66.31 C245.14,66.31 243.62,66.22 242.48,66.12 C241.34,66.03 240.45,65.93 239.44,65.74 C238.43,65.55 237.54,65.30 236.40,64.98 C235.26,64.67 233.71,64.22 232.60,63.84 C231.49,63.46 230.48,63.05 229.75,62.70 C229.02,62.35 228.57,62.10 228.23,61.75 C227.89,61.40 227.51,61.02 227.74,60.61Z" stroke="#262626" stroke-width="1.0" fill="none" />
<path d="M231.16,60.82 C231.33,60.50 232.06,60.07 232.60,59.77 C233.14,59.47 233.47,59.26 234.40,59.02 C235.33,58.79 237.08,58.52 238.18,58.36 C239.28,58.20 240.13,58.14 241.00,58.06 C241.87,57.98 242.57,57.90 243.37,57.88 C244.17,57.86 245.07,57.88 245.80,57.94 C246.53,58.00 247.18,58.06 247.75,58.24 C248.32,58.42 248.82,58.69 249.25,59.02 C249.68,59.35 250.06,59.82 250.30,60.22 C250.54,60.62 250.63,60.97 250.66,61.42 C250.69,61.87 250.58,62.45 250.45,62.92 C250.31,63.40 250.22,63.89 249.85,64.27 C249.47,64.64 248.88,65.00 248.20,65.17 C247.52,65.34 246.70,65.32 245.80,65.32 C244.90,65.32 243.70,65.25 242.80,65.17 C241.90,65.09 241.20,65.02 240.40,64.87 C239.60,64.72 238.90,64.52 238.00,64.27 C237.10,64.02 235.88,63.67 235.00,63.37 C234.12,63.07 233.32,62.74 232.75,62.47 C232.18,62.20 231.81,61.99 231.55,61.72 C231.29,61.45 230.99,61.14 231.16,60.82Z" stroke="#7c7c7c" stroke-width="0.8" fill="none" />
<path d="M234.58,61.03 C234.71,60.79 235.24,60.48 235.64,60.26 C236.04,60.04 236.28,59.88 236.96,59.71 C237.64,59.54 238.93,59.34 239.73,59.22 C240.54,59.11 241.17,59.06 241.80,59.00 C242.43,58.95 242.95,58.89 243.54,58.87 C244.12,58.86 244.78,58.87 245.32,58.92 C245.86,58.96 246.33,59.00 246.75,59.14 C247.17,59.27 247.54,59.47 247.85,59.71 C248.16,59.95 248.45,60.29 248.62,60.59 C248.79,60.88 248.87,61.14 248.88,61.47 C248.90,61.80 248.83,62.22 248.73,62.57 C248.63,62.92 248.56,63.28 248.29,63.56 C248.01,63.83 247.58,64.09 247.08,64.22 C246.59,64.35 245.98,64.33 245.32,64.33 C244.66,64.33 243.78,64.27 243.12,64.22 C242.46,64.16 241.95,64.11 241.36,64.00 C240.77,63.89 240.26,63.74 239.60,63.56 C238.94,63.37 238.04,63.12 237.40,62.90 C236.76,62.68 236.17,62.44 235.75,62.24 C235.33,62.04 235.06,61.89 234.87,61.69 C234.68,61.49 234.46,61.27 234.58,61.03Z" stroke="#262626" stroke-width="1.0" fill="none" />
<path d="M238.01,61.24 C238.09,61.08 238.43,60.89 238.68,60.75 C238.93,60.61 239.09,60.51 239.52,60.40 C239.95,60.29 240.77,60.16 241.28,60.09 C241.80,60.01 242.20,59.99 242.60,59.95 C243.00,59.91 243.33,59.87 243.71,59.86 C244.08,59.85 244.50,59.86 244.84,59.89 C245.18,59.92 245.48,59.95 245.75,60.03 C246.02,60.12 246.25,60.24 246.45,60.40 C246.65,60.55 246.83,60.77 246.94,60.96 C247.05,61.14 247.10,61.31 247.11,61.52 C247.12,61.73 247.07,61.99 247.01,62.22 C246.95,62.44 246.90,62.67 246.73,62.85 C246.56,63.02 246.28,63.18 245.96,63.27 C245.65,63.35 245.26,63.34 244.84,63.34 C244.42,63.34 243.86,63.30 243.44,63.27 C243.02,63.23 242.69,63.20 242.32,63.13 C241.95,63.06 241.62,62.96 241.20,62.85 C240.78,62.73 240.21,62.57 239.80,62.43 C239.39,62.29 239.02,62.13 238.75,62.01 C238.48,61.88 238.31,61.78 238.19,61.66 C238.07,61.53 237.93,61.39 238.01,61.24Z" stroke="#7c7c7c" stroke-width="0.8" fill="none" />
<path d="M220.00,87.30 C218.83,89.22 218.22,93.62 218.80,96.50 C219.38,99.38 221.00,102.87 223.50,104.60 C226.00,106.33 231.30,106.70 233.80,106.90 C236.30,107.10 237.15,106.95 238.50,105.80 C239.85,104.65 240.32,102.30 241.90,100.00 C243.48,97.70 245.98,94.67 248.00,92.00 C250.02,89.33 252.13,86.47 254.00,84.00 C255.87,81.53 259.87,78.15 259.20,77.20 C258.53,76.25 253.20,77.92 250.00,78.30 C246.80,78.68 242.88,78.77 240.00,79.50 C237.12,80.23 235.07,81.78 232.70,82.70 C230.33,83.62 227.92,84.23 225.80,85.00 C223.68,85.77 221.17,85.38 220.00,87.30Z" stroke="#444" stroke-width="0.9" fill="none" />
<ellipse cx="230.4" cy="96.5" rx="11" ry="8.5" fill="none" stroke="#aaa" stroke-width="0.8"/>
<ellipse cx="230.4" cy="96.5" rx="8" ry="6" fill="none" stroke="#999" stroke-width="0.8"/>
<ellipse cx="230.4" cy="96.5" rx="5" ry="3.8" fill="none" stroke="#aaa" stroke-width="0.8"/>
<ellipse cx="230.4" cy="96.5" rx="2.5" ry="1.8" fill="none" stroke="#bbb" stroke-width="0.8"/>
<path d="M201.20,59.00 C201.53,57.83 203.40,56.42 205.00,55.50 C206.60,54.58 207.53,54.25 210.80,53.50 C214.07,52.75 220.73,51.62 224.60,51.00 C228.47,50.38 231.12,50.10 234.00,49.80 C236.88,49.50 239.23,49.28 241.90,49.20 C244.57,49.12 247.68,49.13 250.00,49.30 C252.32,49.47 253.68,49.48 255.80,50.20 C257.92,50.92 260.97,51.88 262.70,53.60 C264.43,55.32 265.82,58.10 266.20,60.50 C266.58,62.90 265.70,65.58 265.00,68.00 C264.30,70.42 263.08,72.67 262.00,75.00 C260.92,77.33 259.75,79.67 258.50,82.00 C257.25,84.33 255.92,86.58 254.50,89.00 C253.08,91.42 251.58,94.08 250.00,96.50 C248.42,98.92 246.73,101.33 245.00,103.50 C243.27,105.67 241.47,108.32 239.60,109.50 C237.73,110.68 236.68,110.62 233.80,110.60 C230.92,110.58 225.18,110.33 222.30,109.40 C219.42,108.47 218.03,106.57 216.50,105.00 C214.97,103.43 213.57,101.75 213.10,100.00 C212.63,98.25 213.13,96.62 213.70,94.50 C214.27,92.38 215.25,89.30 216.50,87.30 C217.75,85.30 219.27,84.03 221.20,82.50 C223.13,80.97 226.13,79.18 228.10,78.10 C230.07,77.02 231.52,76.58 233.00,76.00 C234.48,75.42 236.58,75.13 237.00,74.60 C237.42,74.07 236.42,73.23 235.50,72.80 C234.58,72.37 233.88,72.57 231.50,72.00 C229.12,71.43 224.95,70.55 221.20,69.40 C217.45,68.25 212.03,66.25 209.00,65.10 C205.97,63.95 204.30,63.52 203.00,62.50 C201.70,61.48 200.87,60.17 201.20,59.00Z" stroke="#1a1a1a" stroke-width="1.3" fill="none" />
<path d="M345.56,59.24 C345.96,57.96 348.31,55.92 350.02,54.68 C351.73,53.44 353.74,52.53 355.84,51.77 C357.94,51.01 360.45,50.57 362.63,50.12 C364.81,49.67 366.51,49.44 368.94,49.05 C371.36,48.67 374.38,48.12 377.18,47.79 C379.98,47.47 383.29,47.21 385.72,47.11 C388.14,47.02 389.87,47.05 391.73,47.21 C393.59,47.37 395.25,47.68 396.87,48.08 C398.49,48.49 400.02,48.97 401.43,49.64 C402.84,50.30 404.18,51.06 405.31,52.06 C406.44,53.06 407.61,54.41 408.22,55.65 C408.83,56.89 409.03,58.24 409.00,59.53 C408.96,60.82 408.56,62.12 408.03,63.41 C407.49,64.70 406.81,65.92 405.80,67.29 C404.78,68.66 403.45,70.39 401.92,71.66 C400.38,72.92 398.36,74.02 396.58,74.86 C394.80,75.70 392.75,76.52 391.25,76.70 C389.74,76.88 388.93,76.36 387.56,75.92 C386.18,75.49 384.57,74.68 383.00,74.08 C381.43,73.48 380.09,72.98 378.15,72.33 C376.21,71.69 373.53,70.83 371.36,70.20 C369.19,69.57 367.42,69.15 365.15,68.55 C362.89,67.95 359.95,67.23 357.78,66.61 C355.61,66.00 353.85,65.58 352.15,64.86 C350.46,64.15 348.69,63.28 347.60,62.34 C346.50,61.41 345.15,60.52 345.56,59.24Z" stroke="none" stroke-width="1" fill="#f2f2f2" />
<path d="M349.94,59.38 C350.30,58.25 352.38,56.44 353.90,55.34 C355.42,54.24 357.20,53.43 359.06,52.76 C360.92,52.09 363.14,51.70 365.08,51.30 C367.01,50.90 368.52,50.70 370.67,50.35 C372.82,50.01 375.50,49.52 377.98,49.23 C380.46,48.95 383.40,48.72 385.55,48.63 C387.70,48.55 389.23,48.57 390.88,48.72 C392.53,48.86 394.00,49.13 395.44,49.49 C396.87,49.85 398.23,50.28 399.48,50.87 C400.73,51.46 401.92,52.13 402.92,53.02 C403.92,53.91 404.96,55.10 405.50,56.20 C406.04,57.30 406.22,58.49 406.19,59.64 C406.16,60.79 405.80,61.93 405.33,63.08 C404.86,64.23 404.25,65.30 403.35,66.52 C402.45,67.74 401.27,69.27 399.91,70.39 C398.55,71.51 396.76,72.48 395.18,73.23 C393.60,73.97 391.78,74.70 390.45,74.86 C389.12,75.02 388.40,74.56 387.18,74.17 C385.96,73.79 384.53,73.07 383.14,72.54 C381.75,72.01 380.56,71.57 378.84,70.99 C377.12,70.42 374.74,69.66 372.82,69.10 C370.90,68.54 369.32,68.17 367.32,67.64 C365.31,67.11 362.70,66.46 360.78,65.92 C358.86,65.37 357.30,65.00 355.79,64.37 C354.29,63.74 352.72,62.97 351.75,62.13 C350.78,61.30 349.59,60.51 349.94,59.38Z" stroke="#7c7c7c" stroke-width="0.8" fill="none" />
<path d="M354.70,59.54 C355.00,58.56 356.79,57.01 358.10,56.06 C359.41,55.11 360.94,54.42 362.54,53.84 C364.14,53.26 366.06,52.93 367.72,52.58 C369.38,52.24 370.68,52.06 372.53,51.77 C374.38,51.47 376.69,51.05 378.82,50.81 C380.95,50.56 383.48,50.36 385.33,50.29 C387.18,50.21 388.50,50.24 389.92,50.36 C391.34,50.49 392.61,50.72 393.84,51.03 C395.08,51.34 396.25,51.71 397.32,52.21 C398.39,52.72 399.42,53.30 400.28,54.06 C401.14,54.83 402.03,55.85 402.50,56.80 C402.97,57.75 403.12,58.77 403.09,59.76 C403.07,60.75 402.76,61.73 402.35,62.72 C401.95,63.71 401.43,64.63 400.65,65.68 C399.87,66.73 398.86,68.05 397.69,69.01 C396.52,69.97 394.98,70.81 393.62,71.45 C392.26,72.09 390.70,72.72 389.55,72.86 C388.40,72.99 387.79,72.60 386.74,72.27 C385.69,71.93 384.46,71.32 383.26,70.86 C382.06,70.40 381.04,70.02 379.56,69.53 C378.08,69.03 376.03,68.38 374.38,67.90 C372.73,67.42 371.37,67.10 369.64,66.64 C367.92,66.19 365.67,65.63 364.02,65.16 C362.37,64.69 361.02,64.37 359.73,63.83 C358.43,63.29 357.09,62.62 356.25,61.91 C355.41,61.19 354.39,60.51 354.70,59.54Z" stroke="#7c7c7c" stroke-width="0.8" fill="none" />
<path d="M359.45,59.69 C359.71,58.88 361.20,57.58 362.30,56.78 C363.40,55.98 364.68,55.41 366.02,54.92 C367.36,54.43 368.97,54.16 370.36,53.87 C371.75,53.58 372.84,53.43 374.39,53.18 C375.94,52.94 377.87,52.58 379.66,52.38 C381.45,52.17 383.57,52.01 385.12,51.94 C386.67,51.88 387.77,51.90 388.96,52.01 C390.15,52.11 391.21,52.31 392.25,52.56 C393.28,52.82 394.26,53.13 395.16,53.56 C396.06,53.98 396.92,54.47 397.64,55.11 C398.36,55.75 399.11,56.60 399.50,57.40 C399.89,58.20 400.02,59.05 400.00,59.88 C399.98,60.71 399.72,61.53 399.38,62.36 C399.04,63.19 398.60,63.96 397.95,64.84 C397.30,65.72 396.45,66.82 395.47,67.63 C394.49,68.44 393.20,69.14 392.06,69.68 C390.92,70.21 389.61,70.74 388.65,70.85 C387.69,70.97 387.17,70.64 386.29,70.36 C385.42,70.08 384.38,69.56 383.38,69.18 C382.38,68.80 381.52,68.48 380.28,68.06 C379.04,67.65 377.32,67.10 375.94,66.70 C374.56,66.30 373.42,66.03 371.97,65.65 C370.53,65.26 368.64,64.80 367.26,64.41 C365.88,64.01 364.75,63.74 363.66,63.29 C362.58,62.84 361.45,62.28 360.75,61.68 C360.05,61.08 359.19,60.51 359.45,59.69Z" stroke="#262626" stroke-width="1.0" fill="none" />
<path d="M363.01,59.81 C363.23,59.11 364.51,58.00 365.45,57.32 C366.39,56.64 367.48,56.15 368.63,55.73 C369.78,55.31 371.15,55.08 372.34,54.83 C373.53,54.58 374.46,54.46 375.79,54.25 C377.11,54.03 378.76,53.73 380.29,53.56 C381.82,53.38 383.63,53.24 384.95,53.19 C386.28,53.13 387.22,53.15 388.24,53.24 C389.26,53.33 390.17,53.50 391.05,53.72 C391.93,53.94 392.77,54.20 393.54,54.56 C394.31,54.93 395.04,55.34 395.66,55.89 C396.28,56.44 396.91,57.17 397.25,57.85 C397.59,58.53 397.69,59.26 397.67,59.97 C397.66,60.68 397.44,61.38 397.14,62.09 C396.85,62.80 396.48,63.46 395.93,64.21 C395.37,64.96 394.64,65.91 393.81,66.59 C392.97,67.28 391.86,67.88 390.89,68.34 C389.92,68.80 388.80,69.25 387.98,69.35 C387.15,69.45 386.71,69.17 385.96,68.93 C385.21,68.69 384.33,68.25 383.47,67.92 C382.61,67.59 381.88,67.32 380.82,66.97 C379.76,66.61 378.29,66.14 377.11,65.80 C375.93,65.46 374.95,65.23 373.72,64.90 C372.48,64.57 370.87,64.17 369.69,63.84 C368.51,63.50 367.54,63.27 366.62,62.88 C365.69,62.50 364.73,62.02 364.12,61.51 C363.52,60.99 362.79,60.51 363.01,59.81Z" stroke="#7c7c7c" stroke-width="0.8" fill="none" />
<path d="M366.58,59.93 C366.76,59.35 367.82,58.42 368.60,57.86 C369.38,57.30 370.29,56.88 371.24,56.54 C372.19,56.20 373.33,56.00 374.32,55.79 C375.31,55.59 376.08,55.48 377.18,55.31 C378.28,55.13 379.65,54.88 380.92,54.74 C382.19,54.59 383.69,54.47 384.79,54.43 C385.89,54.38 386.68,54.40 387.52,54.47 C388.36,54.55 389.12,54.68 389.85,54.87 C390.59,55.05 391.28,55.27 391.92,55.57 C392.56,55.87 393.17,56.22 393.68,56.67 C394.19,57.13 394.72,57.74 395.00,58.30 C395.28,58.86 395.37,59.47 395.35,60.06 C395.34,60.65 395.15,61.23 394.91,61.82 C394.67,62.41 394.36,62.96 393.90,63.58 C393.44,64.20 392.84,64.99 392.14,65.56 C391.44,66.13 390.53,66.63 389.72,67.01 C388.91,67.39 387.98,67.77 387.30,67.85 C386.62,67.93 386.25,67.69 385.63,67.50 C385.00,67.30 384.27,66.93 383.56,66.66 C382.85,66.39 382.24,66.16 381.36,65.87 C380.48,65.57 379.26,65.19 378.28,64.90 C377.30,64.61 376.49,64.42 375.46,64.15 C374.44,63.88 373.10,63.55 372.12,63.27 C371.14,62.99 370.34,62.80 369.57,62.48 C368.80,62.16 368.00,61.76 367.50,61.34 C367.00,60.91 366.39,60.51 366.58,59.93Z" stroke="#7c7c7c" stroke-width="0.8" fill="none" />
<path d="M369.74,60.03 C369.89,59.56 370.76,58.80 371.40,58.34 C372.04,57.88 372.78,57.54 373.56,57.26 C374.34,56.98 375.27,56.82 376.08,56.65 C376.89,56.48 377.52,56.40 378.42,56.25 C379.32,56.11 380.44,55.90 381.48,55.78 C382.52,55.66 383.75,55.57 384.65,55.53 C385.55,55.50 386.19,55.51 386.88,55.57 C387.57,55.63 388.19,55.74 388.79,55.89 C389.39,56.04 389.96,56.22 390.48,56.47 C391.00,56.71 391.50,57.00 391.92,57.37 C392.34,57.74 392.77,58.24 393.00,58.70 C393.23,59.16 393.30,59.66 393.29,60.14 C393.28,60.62 393.13,61.10 392.93,61.58 C392.73,62.06 392.48,62.51 392.10,63.02 C391.72,63.53 391.23,64.17 390.66,64.64 C390.09,65.11 389.34,65.52 388.68,65.83 C388.02,66.14 387.26,66.45 386.70,66.51 C386.14,66.58 385.84,66.39 385.33,66.22 C384.82,66.06 384.22,65.76 383.64,65.54 C383.06,65.32 382.56,65.13 381.84,64.89 C381.12,64.65 380.12,64.33 379.32,64.10 C378.52,63.87 377.86,63.71 377.02,63.49 C376.18,63.27 375.08,63.00 374.28,62.77 C373.48,62.54 372.82,62.38 372.19,62.12 C371.56,61.86 370.91,61.53 370.50,61.18 C370.09,60.84 369.59,60.51 369.74,60.03Z" stroke="#262626" stroke-width="1.0" fill="none" />
<path d="M372.91,60.14 C373.03,59.77 373.71,59.18 374.20,58.82 C374.69,58.46 375.27,58.20 375.88,57.98 C376.49,57.76 377.21,57.63 377.84,57.50 C378.47,57.37 378.96,57.31 379.66,57.20 C380.36,57.08 381.23,56.93 382.04,56.83 C382.85,56.74 383.80,56.66 384.50,56.64 C385.20,56.61 385.70,56.62 386.24,56.66 C386.78,56.71 387.26,56.80 387.72,56.92 C388.19,57.03 388.63,57.17 389.04,57.36 C389.45,57.56 389.83,57.77 390.16,58.06 C390.49,58.35 390.82,58.74 391.00,59.10 C391.18,59.46 391.23,59.85 391.22,60.22 C391.21,60.59 391.10,60.97 390.94,61.34 C390.79,61.71 390.59,62.06 390.30,62.46 C390.01,62.86 389.62,63.36 389.18,63.72 C388.74,64.08 388.15,64.40 387.64,64.64 C387.13,64.89 386.53,65.12 386.10,65.18 C385.67,65.23 385.43,65.08 385.04,64.95 C384.64,64.83 384.17,64.59 383.72,64.42 C383.27,64.25 382.88,64.10 382.32,63.92 C381.76,63.73 380.99,63.48 380.36,63.30 C379.73,63.12 379.22,63.00 378.57,62.82 C377.91,62.65 377.07,62.44 376.44,62.26 C375.81,62.09 375.31,61.97 374.82,61.76 C374.33,61.55 373.82,61.30 373.50,61.03 C373.18,60.76 372.80,60.50 372.91,60.14Z" stroke="#7c7c7c" stroke-width="0.8" fill="none" />
<path d="M376.08,60.24 C376.16,59.98 376.65,59.56 377.00,59.30 C377.35,59.04 377.77,58.86 378.20,58.70 C378.63,58.54 379.15,58.45 379.60,58.36 C380.05,58.27 380.40,58.22 380.90,58.14 C381.40,58.06 382.02,57.95 382.60,57.88 C383.18,57.81 383.86,57.76 384.36,57.74 C384.86,57.72 385.22,57.73 385.60,57.76 C385.98,57.79 386.33,57.86 386.66,57.94 C386.99,58.02 387.31,58.12 387.60,58.26 C387.89,58.40 388.17,58.55 388.40,58.76 C388.63,58.97 388.87,59.24 389.00,59.50 C389.13,59.76 389.17,60.03 389.16,60.30 C389.15,60.57 389.07,60.83 388.96,61.10 C388.85,61.37 388.71,61.62 388.50,61.90 C388.29,62.18 388.02,62.54 387.70,62.80 C387.38,63.06 386.97,63.29 386.60,63.46 C386.23,63.63 385.81,63.80 385.50,63.84 C385.19,63.88 385.02,63.77 384.74,63.68 C384.46,63.59 384.12,63.42 383.80,63.30 C383.48,63.18 383.20,63.07 382.80,62.94 C382.40,62.81 381.85,62.63 381.40,62.50 C380.95,62.37 380.59,62.28 380.12,62.16 C379.65,62.04 379.05,61.89 378.60,61.76 C378.15,61.63 377.79,61.55 377.44,61.40 C377.09,61.25 376.73,61.07 376.50,60.88 C376.27,60.69 376.00,60.50 376.08,60.24Z" stroke="#262626" stroke-width="1.0" fill="none" />
<path d="M378.85,60.33 C378.91,60.16 379.22,59.89 379.45,59.72 C379.68,59.55 379.95,59.43 380.23,59.33 C380.51,59.23 380.85,59.17 381.14,59.11 C381.43,59.05 381.66,59.02 381.99,58.97 C382.31,58.91 382.72,58.84 383.09,58.80 C383.46,58.75 383.91,58.72 384.23,58.71 C384.56,58.69 384.79,58.70 385.04,58.72 C385.29,58.74 385.51,58.78 385.73,58.84 C385.95,58.89 386.15,58.96 386.34,59.04 C386.53,59.13 386.71,59.23 386.86,59.37 C387.01,59.50 387.17,59.68 387.25,59.85 C387.33,60.02 387.36,60.20 387.35,60.37 C387.35,60.54 387.30,60.72 387.22,60.89 C387.15,61.06 387.06,61.23 386.93,61.41 C386.79,61.59 386.61,61.83 386.40,61.99 C386.20,62.16 385.93,62.31 385.69,62.42 C385.45,62.54 385.18,62.65 384.98,62.67 C384.77,62.69 384.67,62.63 384.48,62.57 C384.30,62.51 384.08,62.40 383.87,62.32 C383.66,62.24 383.48,62.17 383.22,62.09 C382.96,62.00 382.60,61.88 382.31,61.80 C382.02,61.72 381.78,61.66 381.48,61.58 C381.17,61.50 380.78,61.40 380.49,61.32 C380.20,61.24 379.96,61.18 379.74,61.09 C379.51,60.99 379.27,60.87 379.12,60.75 C378.98,60.62 378.80,60.50 378.85,60.33Z" stroke="#7c7c7c" stroke-width="0.8" fill="none" />
<path d="M344.40,59.20 C344.82,57.88 347.23,55.78 349.00,54.50 C350.77,53.22 352.83,52.28 355.00,51.50 C357.17,50.72 359.75,50.27 362.00,49.80 C364.25,49.33 366.00,49.10 368.50,48.70 C371.00,48.30 374.12,47.73 377.00,47.40 C379.88,47.07 383.30,46.80 385.80,46.70 C388.30,46.60 390.08,46.63 392.00,46.80 C393.92,46.97 395.63,47.28 397.30,47.70 C398.97,48.12 400.55,48.62 402.00,49.30 C403.45,49.98 404.83,50.77 406.00,51.80 C407.17,52.83 408.37,54.22 409.00,55.50 C409.63,56.78 409.83,58.17 409.80,59.50 C409.77,60.83 409.35,62.17 408.80,63.50 C408.25,64.83 407.55,66.08 406.50,67.50 C405.45,68.92 404.08,70.70 402.50,72.00 C400.92,73.30 398.83,74.43 397.00,75.30 C395.17,76.17 393.05,77.02 391.50,77.20 C389.95,77.38 389.12,76.85 387.70,76.40 C386.28,75.95 384.62,75.12 383.00,74.50 C381.38,73.88 380.00,73.37 378.00,72.70 C376.00,72.03 373.23,71.15 371.00,70.50 C368.77,69.85 366.93,69.42 364.60,68.80 C362.27,68.18 359.23,67.43 357.00,66.80 C354.77,66.17 352.95,65.73 351.20,65.00 C349.45,64.27 347.63,63.37 346.50,62.40 C345.37,61.43 343.98,60.52 344.40,59.20Z" stroke="#1a1a1a" stroke-width="1.3" fill="none" />
<path d="M383.00,84.00 C383.75,83.58 385.92,83.67 386.50,84.50 C387.08,85.33 387.00,88.08 386.50,89.00 C386.00,89.92 384.25,90.33 383.50,90.00 C382.75,89.67 382.08,88.00 382.00,87.00 C381.92,86.00 382.25,84.42 383.00,84.00Z" stroke="#555" stroke-width="0.8" fill="none" />
<rect x="92.00" y="44.00" width="37.70" height="32.80" fill="none" stroke="#444" stroke-width="1.0" />
<text x="130.00" y="51.60" font-size="5.6" text-anchor="end" font-weight="normal" font-style="normal" fill="#444" stroke="#444" stroke-width="0.2" >R4</text>
<rect x="90.70" y="77.80" width="34.70" height="33.70" fill="none" stroke="#444" stroke-width="1.0" />
<text x="125.70" y="85.40" font-size="5.6" text-anchor="end" font-weight="normal" font-style="normal" fill="#444" stroke="#444" stroke-width="0.2" >R5</text>
<rect x="56.80" y="82.00" width="34.60" height="36.90" fill="none" stroke="#444" stroke-width="1.0" />
<text x="91.70" y="89.60" font-size="5.6" text-anchor="end" font-weight="normal" font-style="normal" fill="#444" stroke="#444" stroke-width="0.2" >R6</text>
<rect x="241.20" y="44.90" width="38.00" height="33.60" fill="none" stroke="#444" stroke-width="1.0" />
<text x="279.50" y="52.50" font-size="5.6" text-anchor="end" font-weight="normal" font-style="normal" fill="#444" stroke="#444" stroke-width="0.2" >R4</text>
<rect x="240.30" y="78.50" width="34.30" height="34.60" fill="none" stroke="#444" stroke-width="1.0" />
<text x="274.90" y="86.10" font-size="5.6" text-anchor="end" font-weight="normal" font-style="normal" fill="#444" stroke="#444" stroke-width="0.2" >R5</text>
<rect x="205.20" y="83.20" width="35.10" height="36.50" fill="none" stroke="#444" stroke-width="1.0" />
<text x="240.60" y="90.80" font-size="5.6" text-anchor="end" font-weight="normal" font-style="normal" fill="#444" stroke="#444" stroke-width="0.2" >R6</text>
<rect x="390.00" y="44.30" width="37.40" height="33.40" fill="none" stroke="#444" stroke-width="1.0" />
<text x="427.70" y="51.90" font-size="5.6" text-anchor="end" font-weight="normal" font-style="normal" fill="#444" stroke="#444" stroke-width="0.2" >R4</text>
<rect x="388.60" y="77.70" width="34.50" height="34.60" fill="none" stroke="#444" stroke-width="1.0" />
<text x="423.40" y="85.30" font-size="5.6" text-anchor="end" font-weight="normal" font-style="normal" fill="#444" stroke="#444" stroke-width="0.2" >R5</text>
<rect x="353.70" y="83.10" width="34.90" height="36.30" fill="none" stroke="#444" stroke-width="1.0" />
<text x="388.90" y="90.70" font-size="5.6" text-anchor="end" font-weight="normal" font-style="normal" fill="#444" stroke="#444" stroke-width="0.2" >R6</text>
<path d="M34.40,48.00 C41.24,51.90 42.76,57.10 42.00,61.00 C42.76,64.90 41.24,70.10 34.40,74.00Z" stroke="#1a1a1a" stroke-width="1.0" fill="#999" />
<path d="M34.40,51.50 C38.85,54.35 39.83,58.15 39.34,61.00 C39.83,63.85 38.85,67.65 34.40,70.50Z" stroke="#444" stroke-width="1.0" fill="#666" />
<path d="M34.40,56.00 C36.79,57.50 37.33,59.50 37.06,61.00 C37.33,62.50 36.79,64.50 34.40,66.00Z" stroke="#444" stroke-width="1.0" fill="#444" />
<path d="M34.40,82.50 C39.62,88.35 40.78,96.15 40.20,102.00 C40.78,107.85 39.62,115.65 34.40,121.50Z" stroke="#222" stroke-width="1.0" fill="#d8d8d8" />
<path d="M34.40,89.50 C37.27,93.25 37.91,98.25 37.59,102.00 C37.91,105.75 37.27,110.75 34.40,114.50Z" stroke="#999" stroke-width="1.0" fill="#eee" />
<path d="M183.50,51.00 C189.80,54.45 191.20,59.05 190.50,62.50 C191.20,65.95 189.80,70.55 183.50,74.00Z" stroke="#1a1a1a" stroke-width="1.0" fill="#999" />
<path d="M183.50,54.50 C187.59,56.90 188.50,60.10 188.05,62.50 C188.50,64.90 187.59,68.10 183.50,70.50Z" stroke="#444" stroke-width="1.0" fill="#666" />
<path d="M183.50,59.00 C185.71,60.05 186.19,61.45 185.95,62.50 C186.19,63.55 185.71,64.95 183.50,66.00Z" stroke="#444" stroke-width="1.0" fill="#444" />
<path d="M183.50,76.00 C188.36,82.53 189.44,91.22 188.90,97.75 C189.44,104.28 188.36,112.97 183.50,119.50Z" stroke="#222" stroke-width="1.0" fill="#d8d8d8" />
<path d="M183.50,83.00 C186.17,87.42 186.77,93.33 186.47,97.75 C186.77,102.17 186.17,108.08 183.50,112.50Z" stroke="#999" stroke-width="1.0" fill="#eee" />
<path d="M332.10,43.80 C337.95,47.85 339.25,53.25 338.60,57.30 C339.25,61.35 337.95,66.75 332.10,70.80Z" stroke="#1a1a1a" stroke-width="1.0" fill="#999" />
<path d="M332.10,47.30 C335.90,50.30 336.75,54.30 336.33,57.30 C336.75,60.30 335.90,64.30 332.10,67.30Z" stroke="#444" stroke-width="1.0" fill="#666" />
<path d="M332.10,51.80 C334.15,53.45 334.60,55.65 334.38,57.30 C334.60,58.95 334.15,61.15 332.10,62.80Z" stroke="#444" stroke-width="1.0" fill="#444" />
<text transform="translate(16.3,102) rotate(-90)" font-size="11" fill="#111" stroke="#111" stroke-width="0.2">Fc<tspan font-size="8.5">γ</tspan>RcII/III</text>
<line x1="19.30" y1="36.00" x2="19.30" y2="127.50" stroke="#111" stroke-width="1.7" />
<path d="M19.3,32.5 L16.6,39 L22,39 Z" fill="#111"/>
<line x1="164.50" y1="156.40" x2="284.00" y2="156.40" stroke="#111" stroke-width="1.7" />
<path d="M289,156.4 L281.5,153.6 L281.5,159.2 Z" fill="#111"/>
<text x="217.00" y="165.30" font-size="11" text-anchor="start" font-weight="normal" font-style="normal" fill="#111" stroke="#111" stroke-width="0.2" >CD34</text>
<path d="M404,153 L407.5,153.5 L406.5,155 Z" fill="#222"/>
<text x="1.50" y="189.60" font-size="10.7" text-anchor="start" font-weight="bold" font-style="normal" fill="#000" stroke="#000" stroke-width="0.2" >B</text>
<rect x="42.80" y="183.90" width="15.00" height="7.20" fill="#fff" stroke="#111" stroke-width="1.2" />
<rect x="42.80" y="195.80" width="15.00" height="7.20" fill="#888" stroke="#111" stroke-width="1.2" />
<rect x="42.80" y="208.50" width="15.00" height="7.20" fill="#111" stroke="#111" stroke-width="1.2" />
<text x="59.30" y="191.20" font-size="11" text-anchor="start" font-weight="normal" font-style="italic" fill="#111" stroke="#111" stroke-width="0.2" >WT</text>
<text x="60.00" y="203.50" font-size="11" font-style="italic" fill="#111" stroke="#111" stroke-width="0.2"><tspan dy="0.00">c1</tspan><tspan font-size="6.2" dy="-4.40">fl/fl</tspan><tspan dy="4.40">c2</tspan><tspan font-size="6.2" dy="-4.40">-/-</tspan><tspan dy="4.40">X</tspan><tspan font-size="6.2" dy="-4.40">-/-</tspan></text>
<text x="60.00" y="215.90" font-size="11" font-style="italic" fill="#111" stroke="#111" stroke-width="0.2"><tspan dy="0.00">c1</tspan><tspan font-size="6.2" dy="-4.40">LC</tspan><tspan dy="4.40">c2</tspan><tspan font-size="6.2" dy="-4.40">-/-</tspan><tspan dy="4.40">X</tspan><tspan font-size="6.2" dy="-4.40">-/-</tspan></text>
<line x1="33.00" y1="209.80" x2="33.00" y2="327.90" stroke="#111" stroke-width="1.4" />
<line x1="32.40" y1="327.30" x2="408.50" y2="327.30" stroke="#111" stroke-width="1.4" />
<line x1="29.50" y1="327.30" x2="33.00" y2="327.30" stroke="#111" stroke-width="1.1" />
<text x="28.50" y="330.30" font-size="8.5" text-anchor="end" font-weight="normal" font-style="normal" fill="#222" stroke="#222" stroke-width="0.2" >0</text>
<line x1="29.50" y1="298.07" x2="33.00" y2="298.07" stroke="#111" stroke-width="1.1" />
<text x="28.50" y="301.07" font-size="8.5" text-anchor="end" font-weight="normal" font-style="normal" fill="#222" stroke="#222" stroke-width="0.2" >20</text>
<line x1="29.50" y1="268.85" x2="33.00" y2="268.85" stroke="#111" stroke-width="1.1" />
<text x="28.50" y="271.85" font-size="8.5" text-anchor="end" font-weight="normal" font-style="normal" fill="#222" stroke="#222" stroke-width="0.2" >40</text>
<line x1="29.50" y1="239.62" x2="33.00" y2="239.62" stroke="#111" stroke-width="1.1" />
<text x="28.50" y="242.62" font-size="8.5" text-anchor="end" font-weight="normal" font-style="normal" fill="#222" stroke="#222" stroke-width="0.2" >60</text>
<line x1="29.50" y1="210.40" x2="33.00" y2="210.40" stroke="#111" stroke-width="1.1" />
<text x="28.50" y="213.40" font-size="8.5" text-anchor="end" font-weight="normal" font-style="normal" fill="#222" stroke="#222" stroke-width="0.2" >80</text>
<text transform="translate(17.3,312) rotate(-90)" font-size="11" fill="#222" stroke="#222" stroke-width="0.2">Number of colonies</text>
<line x1="45.30" y1="327.30" x2="45.30" y2="330.50" stroke="#111" stroke-width="1.1" />
<rect x="35.50" y="299.24" width="6.00" height="28.06" fill="#fff" stroke="#111" stroke-width="1.05" />
<line x1="38.50" y1="290.33" x2="38.50" y2="299.24" stroke="#555" stroke-width="0.9" />
<line x1="36.80" y1="290.33" x2="40.20" y2="290.33" stroke="#555" stroke-width="0.9" />
<rect x="36.50" y="299.84" width="4.00" height="8.31" fill="#d0d0d0" stroke="none" stroke-width="0" />
<line x1="38.50" y1="299.74" x2="38.50" y2="308.16" stroke="#999" stroke-width="1.2" />
<rect x="42.30" y="302.02" width="6.00" height="25.28" fill="#808080" stroke="#111" stroke-width="1.05" />
<line x1="45.30" y1="292.96" x2="45.30" y2="302.02" stroke="#555" stroke-width="0.9" />
<line x1="43.60" y1="292.96" x2="47.00" y2="292.96" stroke="#555" stroke-width="0.9" />
<line x1="45.30" y1="302.52" x2="45.30" y2="311.08" stroke="#aaa" stroke-width="1.2" />
<rect x="49.10" y="303.04" width="6.00" height="24.26" fill="#161616" stroke="#111" stroke-width="1.05" />
<line x1="52.10" y1="292.96" x2="52.10" y2="303.04" stroke="#555" stroke-width="0.9" />
<line x1="50.40" y1="292.96" x2="53.80" y2="292.96" stroke="#555" stroke-width="0.9" />
<line x1="52.10" y1="303.54" x2="52.10" y2="313.13" stroke="#666" stroke-width="1.2" />
<line x1="70.10" y1="327.30" x2="70.10" y2="330.50" stroke="#111" stroke-width="1.1" />
<rect x="60.30" y="323.50" width="6.00" height="3.80" fill="#fff" stroke="#111" stroke-width="1.05" />
<line x1="63.30" y1="321.75" x2="63.30" y2="323.50" stroke="#555" stroke-width="0.9" />
<line x1="61.60" y1="321.75" x2="65.00" y2="321.75" stroke="#555" stroke-width="0.9" />
<rect x="61.30" y="324.10" width="4.00" height="1.15" fill="#d0d0d0" stroke="none" stroke-width="0" />
<line x1="63.30" y1="324.00" x2="63.30" y2="325.25" stroke="#999" stroke-width="1.2" />
<rect x="67.10" y="322.48" width="6.00" height="4.82" fill="#808080" stroke="#111" stroke-width="1.05" />
<line x1="70.10" y1="318.97" x2="70.10" y2="322.48" stroke="#555" stroke-width="0.9" />
<line x1="68.40" y1="318.97" x2="71.80" y2="318.97" stroke="#555" stroke-width="0.9" />
<line x1="70.10" y1="322.98" x2="70.10" y2="325.98" stroke="#aaa" stroke-width="1.2" />
<rect x="73.90" y="322.04" width="6.00" height="5.26" fill="#161616" stroke="#111" stroke-width="1.05" />
<line x1="76.90" y1="318.82" x2="76.90" y2="322.04" stroke="#555" stroke-width="0.9" />
<line x1="75.20" y1="318.82" x2="78.60" y2="318.82" stroke="#555" stroke-width="0.9" />
<line x1="76.90" y1="322.54" x2="76.90" y2="325.25" stroke="#666" stroke-width="1.2" />
<line x1="94.90" y1="327.30" x2="94.90" y2="330.50" stroke="#111" stroke-width="1.1" />
<rect x="85.10" y="262.42" width="6.00" height="64.88" fill="#fff" stroke="#111" stroke-width="1.05" />
<line x1="88.10" y1="230.42" x2="88.10" y2="262.42" stroke="#555" stroke-width="0.9" />
<line x1="86.40" y1="230.42" x2="89.80" y2="230.42" stroke="#555" stroke-width="0.9" />
<rect x="86.10" y="263.02" width="4.00" height="31.40" fill="#d0d0d0" stroke="none" stroke-width="0" />
<line x1="88.10" y1="262.92" x2="88.10" y2="294.42" stroke="#999" stroke-width="1.2" />
<rect x="91.90" y="291.35" width="6.00" height="35.95" fill="#808080" stroke="#111" stroke-width="1.05" />
<line x1="94.90" y1="286.09" x2="94.90" y2="291.35" stroke="#555" stroke-width="0.9" />
<line x1="93.20" y1="286.09" x2="96.60" y2="286.09" stroke="#555" stroke-width="0.9" />
<line x1="94.90" y1="291.85" x2="94.90" y2="296.61" stroke="#aaa" stroke-width="1.2" />
<rect x="98.70" y="310.93" width="6.00" height="16.37" fill="#161616" stroke="#111" stroke-width="1.05" />
<line x1="101.70" y1="310.06" x2="101.70" y2="310.93" stroke="#555" stroke-width="0.9" />
<line x1="100.00" y1="310.06" x2="103.40" y2="310.06" stroke="#555" stroke-width="0.9" />
<line x1="119.70" y1="327.30" x2="119.70" y2="330.50" stroke="#111" stroke-width="1.1" />
<rect x="109.90" y="320.43" width="6.00" height="6.87" fill="#fff" stroke="#111" stroke-width="1.05" />
<line x1="112.90" y1="316.49" x2="112.90" y2="320.43" stroke="#555" stroke-width="0.9" />
<line x1="111.20" y1="316.49" x2="114.60" y2="316.49" stroke="#555" stroke-width="0.9" />
<rect x="110.90" y="321.03" width="4.00" height="3.35" fill="#d0d0d0" stroke="none" stroke-width="0" />
<line x1="112.90" y1="320.93" x2="112.90" y2="324.38" stroke="#999" stroke-width="1.2" />
<rect x="116.70" y="325.84" width="6.00" height="1.46" fill="#808080" stroke="#111" stroke-width="1.05" />
<line x1="119.70" y1="325.25" x2="119.70" y2="325.84" stroke="#555" stroke-width="0.9" />
<line x1="118.00" y1="325.25" x2="121.40" y2="325.25" stroke="#555" stroke-width="0.9" />
<rect x="123.50" y="326.13" width="6.00" height="1.17" fill="#161616" stroke="#111" stroke-width="1.05" />
<line x1="126.50" y1="325.69" x2="126.50" y2="326.13" stroke="#555" stroke-width="0.9" />
<line x1="124.80" y1="325.69" x2="128.20" y2="325.69" stroke="#555" stroke-width="0.9" />
<line x1="144.50" y1="327.30" x2="144.50" y2="330.50" stroke="#111" stroke-width="1.1" />
<line x1="169.30" y1="327.30" x2="169.30" y2="330.50" stroke="#111" stroke-width="1.1" />
<rect x="159.50" y="290.48" width="6.00" height="36.82" fill="#fff" stroke="#111" stroke-width="1.05" />
<line x1="162.50" y1="275.72" x2="162.50" y2="290.48" stroke="#555" stroke-width="0.9" />
<line x1="160.80" y1="275.72" x2="164.20" y2="275.72" stroke="#555" stroke-width="0.9" />
<rect x="160.50" y="291.08" width="4.00" height="14.16" fill="#d0d0d0" stroke="none" stroke-width="0" />
<line x1="162.50" y1="290.98" x2="162.50" y2="305.24" stroke="#999" stroke-width="1.2" />
<rect x="166.30" y="304.94" width="6.00" height="22.36" fill="#808080" stroke="#111" stroke-width="1.05" />
<line x1="169.30" y1="299.97" x2="169.30" y2="304.94" stroke="#555" stroke-width="0.9" />
<line x1="167.60" y1="299.97" x2="171.00" y2="299.97" stroke="#555" stroke-width="0.9" />
<line x1="169.30" y1="305.44" x2="169.30" y2="309.91" stroke="#aaa" stroke-width="1.2" />
<rect x="173.10" y="302.75" width="6.00" height="24.55" fill="#161616" stroke="#111" stroke-width="1.05" />
<line x1="176.10" y1="290.04" x2="176.10" y2="302.75" stroke="#555" stroke-width="0.9" />
<line x1="174.40" y1="290.04" x2="177.80" y2="290.04" stroke="#555" stroke-width="0.9" />
<line x1="176.10" y1="303.25" x2="176.10" y2="315.46" stroke="#666" stroke-width="1.2" />
<line x1="194.10" y1="327.30" x2="194.10" y2="330.50" stroke="#111" stroke-width="1.1" />
<rect x="184.30" y="317.95" width="6.00" height="9.35" fill="#fff" stroke="#111" stroke-width="1.05" />
<line x1="187.30" y1="313.56" x2="187.30" y2="317.95" stroke="#555" stroke-width="0.9" />
<line x1="185.60" y1="313.56" x2="189.00" y2="313.56" stroke="#555" stroke-width="0.9" />
<rect x="185.30" y="318.55" width="4.00" height="3.78" fill="#d0d0d0" stroke="none" stroke-width="0" />
<line x1="187.30" y1="318.45" x2="187.30" y2="322.33" stroke="#999" stroke-width="1.2" />
<rect x="191.10" y="322.48" width="6.00" height="4.82" fill="#808080" stroke="#111" stroke-width="1.05" />
<line x1="194.10" y1="321.16" x2="194.10" y2="322.48" stroke="#555" stroke-width="0.9" />
<line x1="192.40" y1="321.16" x2="195.80" y2="321.16" stroke="#555" stroke-width="0.9" />
<line x1="194.10" y1="322.98" x2="194.10" y2="323.79" stroke="#aaa" stroke-width="1.2" />
<rect x="197.90" y="321.02" width="6.00" height="6.28" fill="#161616" stroke="#111" stroke-width="1.05" />
<line x1="200.90" y1="317.07" x2="200.90" y2="321.02" stroke="#555" stroke-width="0.9" />
<line x1="199.20" y1="317.07" x2="202.60" y2="317.07" stroke="#555" stroke-width="0.9" />
<line x1="200.90" y1="321.52" x2="200.90" y2="324.96" stroke="#666" stroke-width="1.2" />
<line x1="218.90" y1="327.30" x2="218.90" y2="330.50" stroke="#111" stroke-width="1.1" />
<rect x="209.10" y="297.05" width="6.00" height="30.25" fill="#fff" stroke="#111" stroke-width="1.05" />
<line x1="212.10" y1="291.21" x2="212.10" y2="297.05" stroke="#555" stroke-width="0.9" />
<line x1="210.40" y1="291.21" x2="213.80" y2="291.21" stroke="#555" stroke-width="0.9" />
<rect x="210.10" y="297.65" width="4.00" height="5.25" fill="#d0d0d0" stroke="none" stroke-width="0" />
<line x1="212.10" y1="297.55" x2="212.10" y2="302.90" stroke="#999" stroke-width="1.2" />
<rect x="215.90" y="311.23" width="6.00" height="16.07" fill="#808080" stroke="#111" stroke-width="1.05" />
<line x1="218.90" y1="306.84" x2="218.90" y2="311.23" stroke="#555" stroke-width="0.9" />
<line x1="217.20" y1="306.84" x2="220.60" y2="306.84" stroke="#555" stroke-width="0.9" />
<line x1="218.90" y1="311.73" x2="218.90" y2="315.61" stroke="#aaa" stroke-width="1.2" />
<rect x="222.70" y="321.75" width="6.00" height="5.55" fill="#161616" stroke="#111" stroke-width="1.05" />
<line x1="225.70" y1="320.43" x2="225.70" y2="321.75" stroke="#555" stroke-width="0.9" />
<line x1="224.00" y1="320.43" x2="227.40" y2="320.43" stroke="#555" stroke-width="0.9" />
<line x1="225.70" y1="322.25" x2="225.70" y2="323.06" stroke="#666" stroke-width="1.2" />
<line x1="243.70" y1="327.30" x2="243.70" y2="330.50" stroke="#111" stroke-width="1.1" />
<rect x="233.90" y="322.92" width="6.00" height="4.38" fill="#fff" stroke="#111" stroke-width="1.05" />
<line x1="236.90" y1="321.75" x2="236.90" y2="322.92" stroke="#555" stroke-width="0.9" />
<line x1="235.20" y1="321.75" x2="238.60" y2="321.75" stroke="#555" stroke-width="0.9" />
<rect x="234.90" y="323.52" width="4.00" height="0.57" fill="#d0d0d0" stroke="none" stroke-width="0" />
<line x1="236.90" y1="323.42" x2="236.90" y2="324.09" stroke="#999" stroke-width="1.2" />
<rect x="240.70" y="322.92" width="6.00" height="4.38" fill="#808080" stroke="#111" stroke-width="1.05" />
<line x1="243.70" y1="321.75" x2="243.70" y2="322.92" stroke="#555" stroke-width="0.9" />
<line x1="242.00" y1="321.75" x2="245.40" y2="321.75" stroke="#555" stroke-width="0.9" />
<line x1="243.70" y1="323.42" x2="243.70" y2="324.09" stroke="#aaa" stroke-width="1.2" />
<rect x="247.50" y="326.57" width="6.00" height="0.73" fill="#161616" stroke="#111" stroke-width="1.05" />
<line x1="268.50" y1="327.30" x2="268.50" y2="330.50" stroke="#111" stroke-width="1.1" />
<rect x="258.70" y="316.49" width="6.00" height="10.81" fill="#fff" stroke="#111" stroke-width="1.05" />
<line x1="261.70" y1="310.35" x2="261.70" y2="316.49" stroke="#555" stroke-width="0.9" />
<line x1="260.00" y1="310.35" x2="263.40" y2="310.35" stroke="#555" stroke-width="0.9" />
<rect x="259.70" y="317.09" width="4.00" height="5.54" fill="#d0d0d0" stroke="none" stroke-width="0" />
<line x1="261.70" y1="316.99" x2="261.70" y2="322.62" stroke="#999" stroke-width="1.2" />
<rect x="265.50" y="323.50" width="6.00" height="3.80" fill="#808080" stroke="#111" stroke-width="1.05" />
<line x1="268.50" y1="322.77" x2="268.50" y2="323.50" stroke="#555" stroke-width="0.9" />
<line x1="266.80" y1="322.77" x2="270.20" y2="322.77" stroke="#555" stroke-width="0.9" />
<rect x="272.30" y="322.92" width="6.00" height="4.38" fill="#161616" stroke="#111" stroke-width="1.05" />
<line x1="275.30" y1="321.75" x2="275.30" y2="322.92" stroke="#555" stroke-width="0.9" />
<line x1="273.60" y1="321.75" x2="277.00" y2="321.75" stroke="#555" stroke-width="0.9" />
<line x1="275.30" y1="323.42" x2="275.30" y2="324.09" stroke="#666" stroke-width="1.2" />
<line x1="293.30" y1="327.30" x2="293.30" y2="330.50" stroke="#111" stroke-width="1.1" />
<rect x="283.50" y="281.27" width="6.00" height="46.03" fill="#fff" stroke="#111" stroke-width="1.05" />
<line x1="286.50" y1="265.93" x2="286.50" y2="281.27" stroke="#555" stroke-width="0.9" />
<line x1="284.80" y1="265.93" x2="288.20" y2="265.93" stroke="#555" stroke-width="0.9" />
<rect x="284.50" y="281.87" width="4.00" height="14.74" fill="#d0d0d0" stroke="none" stroke-width="0" />
<line x1="286.50" y1="281.77" x2="286.50" y2="296.61" stroke="#999" stroke-width="1.2" />
<rect x="290.30" y="283.02" width="6.00" height="44.28" fill="#808080" stroke="#111" stroke-width="1.05" />
<line x1="293.30" y1="268.56" x2="293.30" y2="283.02" stroke="#555" stroke-width="0.9" />
<line x1="291.60" y1="268.56" x2="295.00" y2="268.56" stroke="#555" stroke-width="0.9" />
<line x1="293.30" y1="283.52" x2="293.30" y2="297.49" stroke="#aaa" stroke-width="1.2" />
<rect x="297.10" y="290.04" width="6.00" height="37.26" fill="#161616" stroke="#111" stroke-width="1.05" />
<line x1="300.10" y1="270.31" x2="300.10" y2="290.04" stroke="#555" stroke-width="0.9" />
<line x1="298.40" y1="270.31" x2="301.80" y2="270.31" stroke="#555" stroke-width="0.9" />
<line x1="300.10" y1="290.54" x2="300.10" y2="309.76" stroke="#666" stroke-width="1.2" />
<line x1="318.10" y1="327.30" x2="318.10" y2="330.50" stroke="#111" stroke-width="1.1" />
<rect x="308.30" y="308.74" width="6.00" height="18.56" fill="#fff" stroke="#111" stroke-width="1.05" />
<line x1="311.30" y1="304.94" x2="311.30" y2="308.74" stroke="#555" stroke-width="0.9" />
<line x1="309.60" y1="304.94" x2="313.00" y2="304.94" stroke="#555" stroke-width="0.9" />
<rect x="309.30" y="309.34" width="4.00" height="3.20" fill="#d0d0d0" stroke="none" stroke-width="0" />
<line x1="311.30" y1="309.24" x2="311.30" y2="312.54" stroke="#999" stroke-width="1.2" />
<rect x="315.10" y="318.82" width="6.00" height="8.48" fill="#808080" stroke="#111" stroke-width="1.05" />
<line x1="318.10" y1="316.49" x2="318.10" y2="318.82" stroke="#555" stroke-width="0.9" />
<line x1="316.40" y1="316.49" x2="319.80" y2="316.49" stroke="#555" stroke-width="0.9" />
<line x1="318.10" y1="319.32" x2="318.10" y2="321.16" stroke="#aaa" stroke-width="1.2" />
<rect x="321.90" y="322.04" width="6.00" height="5.26" fill="#161616" stroke="#111" stroke-width="1.05" />
<line x1="324.90" y1="318.82" x2="324.90" y2="322.04" stroke="#555" stroke-width="0.9" />
<line x1="323.20" y1="318.82" x2="326.60" y2="318.82" stroke="#555" stroke-width="0.9" />
<line x1="324.90" y1="322.54" x2="324.90" y2="325.25" stroke="#666" stroke-width="1.2" />
<line x1="342.90" y1="327.30" x2="342.90" y2="330.50" stroke="#111" stroke-width="1.1" />
<rect x="333.10" y="315.32" width="6.00" height="11.98" fill="#fff" stroke="#111" stroke-width="1.05" />
<line x1="336.10" y1="310.50" x2="336.10" y2="315.32" stroke="#555" stroke-width="0.9" />
<line x1="334.40" y1="310.50" x2="337.80" y2="310.50" stroke="#555" stroke-width="0.9" />
<rect x="334.10" y="315.92" width="4.00" height="4.22" fill="#d0d0d0" stroke="none" stroke-width="0" />
<line x1="336.10" y1="315.82" x2="336.10" y2="320.14" stroke="#999" stroke-width="1.2" />
<rect x="339.90" y="314.15" width="6.00" height="13.15" fill="#808080" stroke="#111" stroke-width="1.05" />
<line x1="342.90" y1="310.50" x2="342.90" y2="314.15" stroke="#555" stroke-width="0.9" />
<line x1="341.20" y1="310.50" x2="344.60" y2="310.50" stroke="#555" stroke-width="0.9" />
<line x1="342.90" y1="314.65" x2="342.90" y2="317.80" stroke="#aaa" stroke-width="1.2" />
<rect x="346.70" y="320.87" width="6.00" height="6.43" fill="#161616" stroke="#111" stroke-width="1.05" />
<line x1="349.70" y1="318.24" x2="349.70" y2="320.87" stroke="#555" stroke-width="0.9" />
<line x1="348.00" y1="318.24" x2="351.40" y2="318.24" stroke="#555" stroke-width="0.9" />
<line x1="349.70" y1="321.37" x2="349.70" y2="323.50" stroke="#666" stroke-width="1.2" />
<line x1="367.70" y1="327.30" x2="367.70" y2="330.50" stroke="#111" stroke-width="1.1" />
<rect x="357.90" y="322.04" width="6.00" height="5.26" fill="#fff" stroke="#111" stroke-width="1.05" />
<line x1="360.90" y1="321.60" x2="360.90" y2="322.04" stroke="#555" stroke-width="0.9" />
<line x1="359.20" y1="321.60" x2="362.60" y2="321.60" stroke="#555" stroke-width="0.9" />
<rect x="364.70" y="323.06" width="6.00" height="4.24" fill="#808080" stroke="#111" stroke-width="1.05" />
<line x1="367.70" y1="322.62" x2="367.70" y2="323.06" stroke="#555" stroke-width="0.9" />
<line x1="366.00" y1="322.62" x2="369.40" y2="322.62" stroke="#555" stroke-width="0.9" />
<rect x="371.50" y="323.79" width="6.00" height="3.51" fill="#161616" stroke="#111" stroke-width="1.05" />
<line x1="374.50" y1="323.35" x2="374.50" y2="323.79" stroke="#555" stroke-width="0.9" />
<line x1="372.80" y1="323.35" x2="376.20" y2="323.35" stroke="#555" stroke-width="0.9" />
<line x1="392.50" y1="327.30" x2="392.50" y2="330.50" stroke="#111" stroke-width="1.1" />
<rect x="382.70" y="284.19" width="6.00" height="43.11" fill="#fff" stroke="#111" stroke-width="1.05" />
<line x1="385.70" y1="269.58" x2="385.70" y2="284.19" stroke="#555" stroke-width="0.9" />
<line x1="384.00" y1="269.58" x2="387.40" y2="269.58" stroke="#555" stroke-width="0.9" />
<rect x="383.70" y="284.79" width="4.00" height="14.01" fill="#d0d0d0" stroke="none" stroke-width="0" />
<line x1="385.70" y1="284.69" x2="385.70" y2="298.81" stroke="#999" stroke-width="1.2" />
<rect x="389.50" y="311.81" width="6.00" height="15.49" fill="#808080" stroke="#111" stroke-width="1.05" />
<line x1="392.50" y1="307.72" x2="392.50" y2="311.81" stroke="#555" stroke-width="0.9" />
<line x1="390.80" y1="307.72" x2="394.20" y2="307.72" stroke="#555" stroke-width="0.9" />
<line x1="392.50" y1="312.31" x2="392.50" y2="315.90" stroke="#aaa" stroke-width="1.2" />
<rect x="396.30" y="314.59" width="6.00" height="12.71" fill="#161616" stroke="#111" stroke-width="1.05" />
<line x1="399.30" y1="307.72" x2="399.30" y2="314.59" stroke="#555" stroke-width="0.9" />
<line x1="397.60" y1="307.72" x2="401.00" y2="307.72" stroke="#555" stroke-width="0.9" />
<line x1="399.30" y1="315.09" x2="399.30" y2="321.45" stroke="#666" stroke-width="1.2" />
<text x="45.30" y="340.30" font-size="9.5" text-anchor="middle" font-weight="normal" font-style="normal" fill="#222" stroke="#222" stroke-width="0.2" >G</text>
<text x="70.10" y="340.30" font-size="9.5" text-anchor="middle" font-weight="normal" font-style="normal" fill="#222" stroke="#222" stroke-width="0.2" >GM</text>
<text x="94.90" y="340.30" font-size="9.5" text-anchor="middle" font-weight="normal" font-style="normal" fill="#222" stroke="#222" stroke-width="0.2" >M</text>
<text x="119.70" y="340.30" font-size="9.5" text-anchor="middle" font-weight="normal" font-style="normal" fill="#222" stroke="#222" stroke-width="0.2" >Eo</text>
<text x="142.30" y="340.30" font-size="9.5" text-anchor="middle" font-weight="normal" font-style="normal" fill="#222" stroke="#222" stroke-width="0.2" >Meg</text>
<text x="169.30" y="340.30" font-size="9.5" text-anchor="middle" font-weight="normal" font-style="normal" fill="#222" stroke="#222" stroke-width="0.2" >G</text>
<text x="194.10" y="340.30" font-size="9.5" text-anchor="middle" font-weight="normal" font-style="normal" fill="#222" stroke="#222" stroke-width="0.2" >GM</text>
<text x="218.90" y="340.30" font-size="9.5" text-anchor="middle" font-weight="normal" font-style="normal" fill="#222" stroke="#222" stroke-width="0.2" >M</text>
<text x="243.70" y="340.30" font-size="9.5" text-anchor="middle" font-weight="normal" font-style="normal" fill="#222" stroke="#222" stroke-width="0.2" >Eo</text>
<text x="266.30" y="340.30" font-size="9.5" text-anchor="middle" font-weight="normal" font-style="normal" fill="#222" stroke="#222" stroke-width="0.2" >Meg</text>
<text x="293.30" y="340.30" font-size="9.5" text-anchor="middle" font-weight="normal" font-style="normal" fill="#222" stroke="#222" stroke-width="0.2" >G</text>
<text x="318.10" y="340.30" font-size="9.5" text-anchor="middle" font-weight="normal" font-style="normal" fill="#222" stroke="#222" stroke-width="0.2" >GM</text>
<text x="342.90" y="340.30" font-size="9.5" text-anchor="middle" font-weight="normal" font-style="normal" fill="#222" stroke="#222" stroke-width="0.2" >M</text>
<text x="367.70" y="340.30" font-size="9.5" text-anchor="middle" font-weight="normal" font-style="normal" fill="#222" stroke="#222" stroke-width="0.2" >Eo</text>
<text x="390.30" y="340.30" font-size="9.5" text-anchor="middle" font-weight="normal" font-style="normal" fill="#222" stroke="#222" stroke-width="0.2" >Meg</text>
<line x1="34.60" y1="344.40" x2="150.80" y2="344.40" stroke="#111" stroke-width="1.3" />
<line x1="157.70" y1="344.00" x2="274.30" y2="344.00" stroke="#111" stroke-width="1.3" />
<line x1="281.90" y1="344.00" x2="399.20" y2="344.00" stroke="#111" stroke-width="1.3" />
<text x="69.20" y="357.30" font-size="9.5" text-anchor="start" font-weight="normal" font-style="normal" fill="#222" stroke="#222" stroke-width="0.2" >GM-CSF</text>
<text x="181.00" y="356.50" font-size="9.5" text-anchor="start" font-weight="normal" font-style="normal" fill="#222" stroke="#222" stroke-width="0.2" >GM-, M-, G-CSF</text>
<text x="301.20" y="357.30" font-size="9.5" text-anchor="start" font-weight="normal" font-style="normal" fill="#222" stroke="#222" stroke-width="0.2" >SCF+IL-3+Epo</text>
<line x1="88.10" y1="246.10" x2="103.50" y2="246.10" stroke="#111" stroke-width="1.1" />
<text x="101.30" y="246.50" font-size="8.5" text-anchor="start" font-weight="normal" font-style="normal" fill="#333" stroke="#333" stroke-width="0.2" >***</text>
<line x1="211.00" y1="246.00" x2="227.50" y2="246.00" stroke="#111" stroke-width="1.1" />
<text x="225.50" y="246.50" font-size="8.5" text-anchor="start" font-weight="normal" font-style="normal" fill="#333" stroke="#333" stroke-width="0.2" >*</text>
<line x1="384.30" y1="246.50" x2="398.90" y2="246.50" stroke="#111" stroke-width="1.1" />
<text x="396.30" y="246.80" font-size="8.5" text-anchor="start" font-weight="normal" font-style="normal" fill="#333" stroke="#333" stroke-width="0.2" >**</text>
<text x="0.60" y="384.60" font-size="10.7" text-anchor="start" font-weight="bold" font-style="normal" fill="#000" stroke="#000" stroke-width="0.2" >C</text>
<line x1="30.80" y1="426.40" x2="30.80" y2="546.90" stroke="#111" stroke-width="1.3" />
<line x1="30.30" y1="546.40" x2="148.80" y2="546.40" stroke="#111" stroke-width="1.3" />
<line x1="27.60" y1="546.40" x2="30.80" y2="546.40" stroke="#111" stroke-width="1.1" />
<text x="26.40" y="549.10" font-size="7.8" text-anchor="end" font-weight="normal" font-style="normal" fill="#222" stroke="#222" stroke-width="0.2" >0</text>
<line x1="27.60" y1="522.50" x2="30.80" y2="522.50" stroke="#111" stroke-width="1.1" />
<text x="26.40" y="525.20" font-size="7.8" text-anchor="end" font-weight="normal" font-style="normal" fill="#222" stroke="#222" stroke-width="0.2" >20</text>
<line x1="27.60" y1="498.60" x2="30.80" y2="498.60" stroke="#111" stroke-width="1.1" />
<text x="26.40" y="501.30" font-size="7.8" text-anchor="end" font-weight="normal" font-style="normal" fill="#222" stroke="#222" stroke-width="0.2" >40</text>
<line x1="27.60" y1="474.70" x2="30.80" y2="474.70" stroke="#111" stroke-width="1.1" />
<text x="26.40" y="477.40" font-size="7.8" text-anchor="end" font-weight="normal" font-style="normal" fill="#222" stroke="#222" stroke-width="0.2" >60</text>
<line x1="27.60" y1="450.80" x2="30.80" y2="450.80" stroke="#111" stroke-width="1.1" />
<text x="26.40" y="453.50" font-size="7.8" text-anchor="end" font-weight="normal" font-style="normal" fill="#222" stroke="#222" stroke-width="0.2" >80</text>
<line x1="27.60" y1="426.90" x2="30.80" y2="426.90" stroke="#111" stroke-width="1.1" />
<text x="26.40" y="429.60" font-size="7.8" text-anchor="end" font-weight="normal" font-style="normal" fill="#222" stroke="#222" stroke-width="0.2" >100</text>
<line x1="30.40" y1="546.40" x2="30.40" y2="549.40" stroke="#111" stroke-width="1.1" />
<text x="29.80" y="562.00" font-size="9" text-anchor="middle" font-weight="normal" font-style="normal" fill="#222" stroke="#222" stroke-width="0.2" >0</text>
<line x1="52.00" y1="546.40" x2="52.00" y2="549.40" stroke="#111" stroke-width="1.1" />
<text x="56.00" y="562.00" font-size="9" text-anchor="middle" font-weight="normal" font-style="normal" fill="#222" stroke="#222" stroke-width="0.2" >100</text>
<line x1="73.70" y1="546.40" x2="73.70" y2="549.40" stroke="#111" stroke-width="1.1" />
<text x="78.80" y="562.00" font-size="9" text-anchor="middle" font-weight="normal" font-style="normal" fill="#222" stroke="#222" stroke-width="0.2" >200</text>
<line x1="95.20" y1="546.40" x2="95.20" y2="549.40" stroke="#111" stroke-width="1.1" />
<text x="100.00" y="562.00" font-size="9" text-anchor="middle" font-weight="normal" font-style="normal" fill="#222" stroke="#222" stroke-width="0.2" >300</text>
<line x1="116.60" y1="546.40" x2="116.60" y2="549.40" stroke="#111" stroke-width="1.1" />
<text x="121.30" y="562.00" font-size="9" text-anchor="middle" font-weight="normal" font-style="normal" fill="#222" stroke="#222" stroke-width="0.2" >400</text>
<line x1="138.20" y1="546.40" x2="138.20" y2="549.40" stroke="#111" stroke-width="1.1" />
<text x="153.00" y="562.00" font-size="9" text-anchor="middle" font-weight="normal" font-style="normal" fill="#222" stroke="#222" stroke-width="0.2" >500</text>
<text x="55.80" y="578.00" font-size="11.0" text-anchor="start" font-weight="normal" font-style="normal" fill="#222" stroke="#222" stroke-width="0.2" >Comp. A (nM)</text>
<text transform="translate(9.5,541.5) rotate(-90)" font-size="10.8" fill="#222" stroke="#222" stroke-width="0.2">% cells PI positive (dead)</text>
<polyline points="30.80,532.30 42.73,529.55 138.20,467.53" fill="none" stroke="#111" stroke-width="1.5"/>
<line x1="30.80" y1="539.23" x2="42.73" y2="539.23" stroke="#111" stroke-width="1.5" />
<line x1="48.73" y1="534.10" x2="133.20" y2="460.57" stroke="#111" stroke-width="1.5" stroke-dasharray="9.5,3.8"/>
<line x1="30.80" y1="527.52" x2="30.80" y2="537.08" stroke="#333" stroke-width="1.0" />
<line x1="27.50" y1="527.52" x2="34.10" y2="527.52" stroke="#333" stroke-width="1.0" />
<line x1="27.50" y1="537.08" x2="34.10" y2="537.08" stroke="#333" stroke-width="1.0" />
<line x1="42.73" y1="525.01" x2="42.73" y2="534.09" stroke="#333" stroke-width="1.0" />
<line x1="39.43" y1="525.01" x2="46.03" y2="525.01" stroke="#333" stroke-width="1.0" />
<line x1="39.43" y1="534.09" x2="46.03" y2="534.09" stroke="#333" stroke-width="1.0" />
<line x1="138.20" y1="461.67" x2="138.20" y2="473.39" stroke="#333" stroke-width="1.0" />
<line x1="134.90" y1="461.67" x2="141.50" y2="461.67" stroke="#333" stroke-width="1.0" />
<line x1="134.90" y1="473.39" x2="141.50" y2="473.39" stroke="#333" stroke-width="1.0" />
<line x1="30.80" y1="536.84" x2="30.80" y2="541.62" stroke="#333" stroke-width="1.0" />
<line x1="27.50" y1="536.84" x2="34.10" y2="536.84" stroke="#333" stroke-width="1.0" />
<line x1="27.50" y1="541.62" x2="34.10" y2="541.62" stroke="#333" stroke-width="1.0" />
<line x1="42.73" y1="536.84" x2="42.73" y2="541.62" stroke="#333" stroke-width="1.0" />
<line x1="39.43" y1="536.84" x2="46.03" y2="536.84" stroke="#333" stroke-width="1.0" />
<line x1="39.43" y1="541.62" x2="46.03" y2="541.62" stroke="#333" stroke-width="1.0" />
<line x1="138.20" y1="447.21" x2="138.20" y2="465.38" stroke="#333" stroke-width="1.0" />
<line x1="134.90" y1="447.21" x2="141.50" y2="447.21" stroke="#333" stroke-width="1.0" />
<line x1="134.90" y1="465.38" x2="141.50" y2="465.38" stroke="#333" stroke-width="1.0" />
<circle cx="30.80" cy="532.30" r="2.8" fill="#111"/>
<circle cx="42.73" cy="529.55" r="2.8" fill="#111"/>
<circle cx="138.20" cy="467.53" r="2.8" fill="#111"/>
<rect x="28.00" y="536.43" width="5.60" height="5.60" fill="#111" stroke="none" stroke-width="0" />
<rect x="39.93" y="536.43" width="5.60" height="5.60" fill="#111" stroke="none" stroke-width="0" />
<rect x="135.40" y="453.50" width="5.60" height="5.60" fill="#111" stroke="none" stroke-width="0" />
<line x1="35.70" y1="416.60" x2="50.00" y2="416.60" stroke="#111" stroke-width="1.4" />
<circle cx="43.4" cy="416.6" r="2.6" fill="#111"/>
<text x="53.00" y="420.30" font-size="10.5" text-anchor="start" font-weight="normal" font-style="normal" fill="#111" stroke="#111" stroke-width="0.2" >BMDMs</text>
<line x1="35.70" y1="432.00" x2="39.50" y2="432.00" stroke="#111" stroke-width="1.4" />
<line x1="46.50" y1="432.00" x2="49.50" y2="432.00" stroke="#111" stroke-width="1.4" />
<rect x="40.60" y="429.80" width="4.60" height="4.60" fill="#111" stroke="none" stroke-width="0" />
<text x="53.00" y="435.60" font-size="10.5" text-anchor="start" font-weight="normal" font-style="normal" fill="#111" stroke="#111" stroke-width="0.2" >peritoneal Φ</text>
<text x="166.80" y="384.30" font-size="10.7" text-anchor="start" font-weight="bold" font-style="normal" fill="#000" stroke="#000" stroke-width="0.2" >D</text>
<line x1="198.50" y1="430.70" x2="198.50" y2="545.10" stroke="#111" stroke-width="1.2" />
<line x1="198.00" y1="544.60" x2="310.00" y2="544.60" stroke="#111" stroke-width="1.2" />
<line x1="195.50" y1="544.60" x2="198.50" y2="544.60" stroke="#111" stroke-width="1" />
<text x="194.90" y="547.40" font-size="7.9" text-anchor="end" font-weight="normal" font-style="normal" fill="#222" stroke="#222" stroke-width="0.2" >0</text>
<line x1="195.50" y1="521.92" x2="198.50" y2="521.92" stroke="#111" stroke-width="1" />
<text x="194.90" y="524.72" font-size="7.9" text-anchor="end" font-weight="normal" font-style="normal" fill="#222" stroke="#222" stroke-width="0.2" >20</text>
<line x1="195.50" y1="499.24" x2="198.50" y2="499.24" stroke="#111" stroke-width="1" />
<text x="194.90" y="502.04" font-size="7.9" text-anchor="end" font-weight="normal" font-style="normal" fill="#222" stroke="#222" stroke-width="0.2" >40</text>
<line x1="195.50" y1="476.56" x2="198.50" y2="476.56" stroke="#111" stroke-width="1" />
<text x="194.90" y="479.36" font-size="7.9" text-anchor="end" font-weight="normal" font-style="normal" fill="#222" stroke="#222" stroke-width="0.2" >60</text>
<line x1="195.50" y1="453.88" x2="198.50" y2="453.88" stroke="#111" stroke-width="1" />
<text x="194.90" y="456.68" font-size="7.9" text-anchor="end" font-weight="normal" font-style="normal" fill="#222" stroke="#222" stroke-width="0.2" >80</text>
<line x1="195.50" y1="431.20" x2="198.50" y2="431.20" stroke="#111" stroke-width="1" />
<text x="194.90" y="434.00" font-size="7.9" text-anchor="end" font-weight="normal" font-style="normal" fill="#222" stroke="#222" stroke-width="0.2" >100</text>
<text transform="translate(175.9,542) rotate(-90)" font-size="11.1" fill="#222" stroke="#222" stroke-width="0.2">% cells PI positive (Dead)</text>
<rect x="202.30" y="526.57" width="6.40" height="18.03" fill="#fff" stroke="#111" stroke-width="1.0" />
<line x1="205.50" y1="517.72" x2="205.50" y2="526.57" stroke="#555" stroke-width="0.9" />
<line x1="203.80" y1="517.72" x2="207.20" y2="517.72" stroke="#555" stroke-width="0.9" />
<line x1="205.50" y1="527.07" x2="205.50" y2="535.41" stroke="#aaa" stroke-width="1.4" />
<line x1="205.50" y1="544.60" x2="205.50" y2="547.60" stroke="#111" stroke-width="1" />
<text x="205.80" y="557.50" font-size="8.5" text-anchor="middle" font-weight="normal" font-style="normal" fill="#222" stroke="#222" stroke-width="0.2" >-</text>
<rect x="211.30" y="481.21" width="6.40" height="63.39" fill="#fff" stroke="#111" stroke-width="1.0" />
<line x1="214.50" y1="467.03" x2="214.50" y2="481.21" stroke="#555" stroke-width="0.9" />
<line x1="212.80" y1="467.03" x2="216.20" y2="467.03" stroke="#555" stroke-width="0.9" />
<line x1="214.50" y1="481.71" x2="214.50" y2="495.38" stroke="#aaa" stroke-width="1.4" />
<line x1="214.50" y1="544.60" x2="214.50" y2="547.60" stroke="#111" stroke-width="1" />
<text x="214.70" y="557.50" font-size="8.5" text-anchor="middle" font-weight="normal" font-style="normal" fill="#222" stroke="#222" stroke-width="0.2" >+</text>
<rect x="225.30" y="525.21" width="6.40" height="19.39" fill="#111" stroke="#111" stroke-width="1.0" />
<line x1="228.50" y1="517.04" x2="228.50" y2="525.21" stroke="#555" stroke-width="0.9" />
<line x1="226.80" y1="517.04" x2="230.20" y2="517.04" stroke="#555" stroke-width="0.9" />
<line x1="228.50" y1="525.71" x2="228.50" y2="533.37" stroke="#555" stroke-width="1.4" />
<line x1="228.50" y1="544.60" x2="228.50" y2="547.60" stroke="#111" stroke-width="1" />
<text x="228.80" y="557.50" font-size="8.5" text-anchor="middle" font-weight="normal" font-style="normal" fill="#222" stroke="#222" stroke-width="0.2" >-</text>
<rect x="234.30" y="526.57" width="6.40" height="18.03" fill="#111" stroke="#111" stroke-width="1.0" />
<line x1="237.50" y1="520.90" x2="237.50" y2="526.57" stroke="#555" stroke-width="0.9" />
<line x1="235.80" y1="520.90" x2="239.20" y2="520.90" stroke="#555" stroke-width="0.9" />
<line x1="237.50" y1="527.07" x2="237.50" y2="532.24" stroke="#555" stroke-width="1.4" />
<line x1="237.50" y1="544.60" x2="237.50" y2="547.60" stroke="#111" stroke-width="1" />
<text x="237.70" y="557.50" font-size="8.5" text-anchor="middle" font-weight="normal" font-style="normal" fill="#222" stroke="#222" stroke-width="0.2" >+</text>
<rect x="248.30" y="531.33" width="6.40" height="13.27" fill="#585858" stroke="#111" stroke-width="1.0" />
<line x1="251.50" y1="529.52" x2="251.50" y2="531.33" stroke="#555" stroke-width="0.9" />
<line x1="249.80" y1="529.52" x2="253.20" y2="529.52" stroke="#555" stroke-width="0.9" />
<line x1="251.50" y1="531.83" x2="251.50" y2="533.15" stroke="#888" stroke-width="1.4" />
<line x1="251.50" y1="544.60" x2="251.50" y2="547.60" stroke="#111" stroke-width="1" />
<text x="251.80" y="557.50" font-size="8.5" text-anchor="middle" font-weight="normal" font-style="normal" fill="#222" stroke="#222" stroke-width="0.2" >-</text>
<rect x="257.30" y="531.33" width="6.40" height="13.27" fill="#585858" stroke="#111" stroke-width="1.0" />
<line x1="260.50" y1="529.52" x2="260.50" y2="531.33" stroke="#555" stroke-width="0.9" />
<line x1="258.80" y1="529.52" x2="262.20" y2="529.52" stroke="#555" stroke-width="0.9" />
<line x1="260.50" y1="531.83" x2="260.50" y2="533.15" stroke="#888" stroke-width="1.4" />
<line x1="260.50" y1="544.60" x2="260.50" y2="547.60" stroke="#111" stroke-width="1" />
<text x="260.70" y="557.50" font-size="8.5" text-anchor="middle" font-weight="normal" font-style="normal" fill="#222" stroke="#222" stroke-width="0.2" >+</text>
<rect x="271.30" y="531.33" width="6.40" height="13.27" fill="#3c3c3c" stroke="#111" stroke-width="1.0" />
<line x1="274.50" y1="529.29" x2="274.50" y2="531.33" stroke="#555" stroke-width="0.9" />
<line x1="272.80" y1="529.29" x2="276.20" y2="529.29" stroke="#555" stroke-width="0.9" />
<line x1="274.50" y1="531.83" x2="274.50" y2="533.37" stroke="#777" stroke-width="1.4" />
<line x1="274.50" y1="544.60" x2="274.50" y2="547.60" stroke="#111" stroke-width="1" />
<text x="274.80" y="557.50" font-size="8.5" text-anchor="middle" font-weight="normal" font-style="normal" fill="#222" stroke="#222" stroke-width="0.2" >-</text>
<rect x="280.30" y="533.49" width="6.40" height="11.11" fill="#3c3c3c" stroke="#111" stroke-width="1.0" />
<line x1="283.50" y1="531.56" x2="283.50" y2="533.49" stroke="#555" stroke-width="0.9" />
<line x1="281.80" y1="531.56" x2="285.20" y2="531.56" stroke="#555" stroke-width="0.9" />
<line x1="283.50" y1="533.99" x2="283.50" y2="535.41" stroke="#777" stroke-width="1.4" />
<line x1="283.50" y1="544.60" x2="283.50" y2="547.60" stroke="#111" stroke-width="1" />
<text x="283.70" y="557.50" font-size="8.5" text-anchor="middle" font-weight="normal" font-style="normal" fill="#222" stroke="#222" stroke-width="0.2" >+</text>
<rect x="294.30" y="527.70" width="6.40" height="16.90" fill="#a8a8a8" stroke="#111" stroke-width="1.0" />
<line x1="297.50" y1="523.85" x2="297.50" y2="527.70" stroke="#555" stroke-width="0.9" />
<line x1="295.80" y1="523.85" x2="299.20" y2="523.85" stroke="#555" stroke-width="0.9" />
<line x1="297.50" y1="528.20" x2="297.50" y2="531.56" stroke="#ccc" stroke-width="1.4" />
<line x1="297.50" y1="544.60" x2="297.50" y2="547.60" stroke="#111" stroke-width="1" />
<text x="297.80" y="557.50" font-size="8.5" text-anchor="middle" font-weight="normal" font-style="normal" fill="#222" stroke="#222" stroke-width="0.2" >-</text>
<rect x="303.30" y="466.01" width="6.40" height="78.59" fill="#a8a8a8" stroke="#111" stroke-width="1.0" />
<line x1="306.50" y1="461.02" x2="306.50" y2="466.01" stroke="#555" stroke-width="0.9" />
<line x1="304.80" y1="461.02" x2="308.20" y2="461.02" stroke="#555" stroke-width="0.9" />
<line x1="306.50" y1="466.51" x2="306.50" y2="471.00" stroke="#ccc" stroke-width="1.4" />
<line x1="306.50" y1="544.60" x2="306.50" y2="547.60" stroke="#111" stroke-width="1" />
<text x="306.70" y="557.50" font-size="8.5" text-anchor="middle" font-weight="normal" font-style="normal" fill="#222" stroke="#222" stroke-width="0.2" >+</text>
<text x="313.80" y="558.00" font-size="10.5" text-anchor="start" font-weight="normal" font-style="normal" fill="#111" stroke="#111" stroke-width="0.2" >Comp. A</text>
<line x1="213.90" y1="462.30" x2="213.90" y2="481.20" stroke="#444" stroke-width="1.0" />
<line x1="213.90" y1="462.30" x2="283.00" y2="462.30" stroke="#111" stroke-width="1.1" />
<line x1="213.90" y1="467.90" x2="257.40" y2="467.90" stroke="#111" stroke-width="1.1" />
<line x1="213.90" y1="473.20" x2="235.60" y2="473.20" stroke="#111" stroke-width="1.1" />
<text x="272.30" y="467.00" font-size="14" text-anchor="start" font-weight="normal" font-style="normal" fill="#3a3a3a" stroke="#3a3a3a" stroke-width="0.2" >***</text>
<text x="254.00" y="473.20" font-size="14" text-anchor="start" font-weight="normal" font-style="normal" fill="#3a3a3a" stroke="#3a3a3a" stroke-width="0.2" >***</text>
<text x="231.30" y="478.50" font-size="14" text-anchor="start" font-weight="normal" font-style="normal" fill="#3a3a3a" stroke="#3a3a3a" stroke-width="0.2" >***</text>
<rect x="203.60" y="403.70" width="13.00" height="6.20" fill="#fff" stroke="#111" stroke-width="1.3" />
<text x="222.60" y="408.80" font-size="11" text-anchor="start" font-weight="normal" font-style="normal" fill="#111" stroke="#111" stroke-width="0.2" >WT</text>
<rect x="203.60" y="414.90" width="13.00" height="6.20" fill="#111" stroke="#111" stroke-width="1.3" />
<text x="223.20" y="421.00" font-size="11" text-anchor="start" font-weight="normal" font-style="normal" fill="#111" stroke="#111" stroke-width="0.2" >anti-TNF Ab</text>
<rect x="203.60" y="427.90" width="13.00" height="6.20" fill="#585858" stroke="#111" stroke-width="1.3" />
<text x="222.60" y="434.00" font-size="11" text-anchor="start" font-weight="normal" font-style="italic" fill="#111" stroke="#111" stroke-width="0.2" >Tnf<tspan font-size="5.5" dy="-4">-/-</tspan></text>
<rect x="203.60" y="440.00" width="13.00" height="6.20" fill="#3c3c3c" stroke="#111" stroke-width="1.3" />
<text x="222.60" y="446.80" font-size="11" text-anchor="start" font-weight="normal" font-style="italic" fill="#111" stroke="#111" stroke-width="0.2" >Tnfr1<tspan font-size="5.5" dy="-4">-/-</tspan></text>
<rect x="203.60" y="452.50" width="13.00" height="6.20" fill="#a8a8a8" stroke="#111" stroke-width="1.3" />
<text x="222.60" y="458.60" font-size="11" text-anchor="start" font-weight="normal" font-style="italic" fill="#111" stroke="#111" stroke-width="0.2" >Tnfr2<tspan font-size="5.5" dy="-4">-/-</tspan></text>
<text x="361.30" y="384.20" font-size="10.7" text-anchor="start" font-weight="bold" font-style="normal" fill="#000" stroke="#000" stroke-width="0.2" >E</text>
<rect x="397.50" y="378.60" width="14.60" height="7.00" fill="#fff" stroke="#111" stroke-width="1.3" />
<rect x="397.50" y="392.60" width="14.60" height="7.00" fill="#4a4a4a" stroke="#111" stroke-width="1.3" />
<rect x="397.50" y="404.60" width="14.60" height="7.00" fill="#111" stroke="#111" stroke-width="1.3" />
<text x="418.30" y="384.20" font-size="11" text-anchor="start" font-weight="normal" font-style="normal" fill="#111" stroke="#111" stroke-width="0.2" >No Treatment</text>
<text x="418.30" y="398.40" font-size="11" text-anchor="start" font-weight="normal" font-style="normal" fill="#111" stroke="#111" stroke-width="0.2" >Comp. A</text>
<text x="418.30" y="410.80" font-size="11" text-anchor="start" font-weight="normal" font-style="normal" fill="#111" stroke="#111" stroke-width="0.2" >cIAP1/cIAP2 specific</text>
<line x1="390.40" y1="424.30" x2="390.40" y2="546.30" stroke="#111" stroke-width="1.2" />
<line x1="389.90" y1="545.80" x2="511.40" y2="545.80" stroke="#111" stroke-width="1.2" />
<line x1="387.40" y1="545.80" x2="390.40" y2="545.80" stroke="#111" stroke-width="1" />
<text x="387.00" y="548.80" font-size="8.6" text-anchor="end" font-weight="normal" font-style="normal" fill="#222" stroke="#222" stroke-width="0.2" >0</text>
<line x1="387.40" y1="521.60" x2="390.40" y2="521.60" stroke="#111" stroke-width="1" />
<text x="387.00" y="524.60" font-size="8.6" text-anchor="end" font-weight="normal" font-style="normal" fill="#222" stroke="#222" stroke-width="0.2" >20</text>
<line x1="387.40" y1="497.40" x2="390.40" y2="497.40" stroke="#111" stroke-width="1" />
<text x="387.00" y="500.40" font-size="8.6" text-anchor="end" font-weight="normal" font-style="normal" fill="#222" stroke="#222" stroke-width="0.2" >40</text>
<line x1="387.40" y1="473.20" x2="390.40" y2="473.20" stroke="#111" stroke-width="1" />
<text x="387.00" y="476.20" font-size="8.6" text-anchor="end" font-weight="normal" font-style="normal" fill="#222" stroke="#222" stroke-width="0.2" >60</text>
<line x1="387.40" y1="449.00" x2="390.40" y2="449.00" stroke="#111" stroke-width="1" />
<text x="387.00" y="452.00" font-size="8.6" text-anchor="end" font-weight="normal" font-style="normal" fill="#222" stroke="#222" stroke-width="0.2" >80</text>
<line x1="387.40" y1="424.80" x2="390.40" y2="424.80" stroke="#111" stroke-width="1" />
<text x="387.00" y="427.80" font-size="8.6" text-anchor="end" font-weight="normal" font-style="normal" fill="#222" stroke="#222" stroke-width="0.2" >100</text>
<text transform="translate(371.2,545.3) rotate(-90)" font-size="10.7" fill="#222" stroke="#222" stroke-width="0.2">% cells PI positive (Dead)</text>
<rect x="395.35" y="524.02" width="6.20" height="21.78" fill="#fff" stroke="#111" stroke-width="1.0" />
<line x1="398.45" y1="506.47" x2="398.45" y2="524.02" stroke="#555" stroke-width="0.9" />
<line x1="396.75" y1="506.47" x2="400.15" y2="506.47" stroke="#555" stroke-width="0.9" />
<line x1="398.45" y1="524.52" x2="398.45" y2="541.56" stroke="#aaa" stroke-width="1.4" />
<rect x="403.75" y="478.04" width="6.20" height="67.76" fill="#4a4a4a" stroke="#111" stroke-width="1.0" />
<line x1="406.85" y1="439.56" x2="406.85" y2="478.04" stroke="#555" stroke-width="0.9" />
<line x1="405.15" y1="439.56" x2="408.55" y2="439.56" stroke="#555" stroke-width="0.9" />
<line x1="406.85" y1="478.54" x2="406.85" y2="516.52" stroke="#777" stroke-width="1.4" />
<rect x="412.15" y="532.49" width="6.20" height="13.31" fill="#111" stroke="#111" stroke-width="1.0" />
<line x1="415.25" y1="530.67" x2="415.25" y2="532.49" stroke="#555" stroke-width="0.9" />
<line x1="413.55" y1="530.67" x2="416.95" y2="530.67" stroke="#555" stroke-width="0.9" />
<line x1="415.25" y1="532.99" x2="415.25" y2="534.30" stroke="#555" stroke-width="1.4" />
<rect x="425.35" y="534.30" width="6.20" height="11.50" fill="#fff" stroke="#111" stroke-width="1.0" />
<line x1="428.45" y1="527.04" x2="428.45" y2="534.30" stroke="#555" stroke-width="0.9" />
<line x1="426.75" y1="527.04" x2="430.15" y2="527.04" stroke="#555" stroke-width="0.9" />
<line x1="428.45" y1="534.80" x2="428.45" y2="541.56" stroke="#aaa" stroke-width="1.4" />
<rect x="433.75" y="453.84" width="6.20" height="91.96" fill="#4a4a4a" stroke="#111" stroke-width="1.0" />
<line x1="436.85" y1="424.80" x2="436.85" y2="453.84" stroke="#555" stroke-width="0.9" />
<line x1="435.15" y1="424.80" x2="438.55" y2="424.80" stroke="#555" stroke-width="0.9" />
<line x1="436.85" y1="454.34" x2="436.85" y2="482.88" stroke="#777" stroke-width="1.4" />
<rect x="442.15" y="485.90" width="6.20" height="59.89" fill="#111" stroke="#111" stroke-width="1.0" />
<line x1="445.25" y1="467.75" x2="445.25" y2="485.90" stroke="#555" stroke-width="0.9" />
<line x1="443.55" y1="467.75" x2="446.95" y2="467.75" stroke="#555" stroke-width="0.9" />
<line x1="445.25" y1="486.40" x2="445.25" y2="504.05" stroke="#555" stroke-width="1.4" />
<rect x="454.65" y="530.67" width="6.20" height="15.12" fill="#fff" stroke="#111" stroke-width="1.0" />
<line x1="457.75" y1="519.18" x2="457.75" y2="530.67" stroke="#555" stroke-width="0.9" />
<line x1="456.05" y1="519.18" x2="459.45" y2="519.18" stroke="#555" stroke-width="0.9" />
<line x1="457.75" y1="531.17" x2="457.75" y2="542.17" stroke="#aaa" stroke-width="1.4" />
<rect x="463.05" y="473.20" width="6.20" height="72.60" fill="#4a4a4a" stroke="#111" stroke-width="1.0" />
<line x1="466.15" y1="461.10" x2="466.15" y2="473.20" stroke="#555" stroke-width="0.9" />
<line x1="464.45" y1="461.10" x2="467.85" y2="461.10" stroke="#555" stroke-width="0.9" />
<line x1="466.15" y1="473.70" x2="466.15" y2="485.30" stroke="#777" stroke-width="1.4" />
<rect x="471.45" y="526.44" width="6.20" height="19.36" fill="#111" stroke="#111" stroke-width="1.0" />
<line x1="474.55" y1="517.97" x2="474.55" y2="526.44" stroke="#555" stroke-width="0.9" />
<line x1="472.85" y1="517.97" x2="476.25" y2="517.97" stroke="#555" stroke-width="0.9" />
<line x1="474.55" y1="526.94" x2="474.55" y2="534.91" stroke="#555" stroke-width="1.4" />
<rect x="484.90" y="536.12" width="6.20" height="9.68" fill="#fff" stroke="#111" stroke-width="1.0" />
<line x1="488.00" y1="534.30" x2="488.00" y2="536.12" stroke="#555" stroke-width="0.9" />
<line x1="486.30" y1="534.30" x2="489.70" y2="534.30" stroke="#555" stroke-width="0.9" />
<line x1="488.00" y1="536.62" x2="488.00" y2="537.93" stroke="#aaa" stroke-width="1.4" />
<rect x="493.30" y="451.42" width="6.20" height="94.38" fill="#4a4a4a" stroke="#111" stroke-width="1.0" />
<line x1="496.40" y1="439.32" x2="496.40" y2="451.42" stroke="#555" stroke-width="0.9" />
<line x1="494.70" y1="439.32" x2="498.10" y2="439.32" stroke="#555" stroke-width="0.9" />
<line x1="496.40" y1="451.92" x2="496.40" y2="463.52" stroke="#777" stroke-width="1.4" />
<rect x="501.70" y="531.28" width="6.20" height="14.52" fill="#111" stroke="#111" stroke-width="1.0" />
<line x1="504.80" y1="527.65" x2="504.80" y2="531.28" stroke="#555" stroke-width="0.9" />
<line x1="503.10" y1="527.65" x2="506.50" y2="527.65" stroke="#555" stroke-width="0.9" />
<line x1="504.80" y1="531.78" x2="504.80" y2="534.91" stroke="#555" stroke-width="1.4" />
<text x="398.50" y="559.60" font-size="10.8" text-anchor="start" font-weight="normal" font-style="normal" fill="#111" stroke="#111" stroke-width="0.2" >WT</text>
<text x="425.0" y="559.4" font-size="10.8" font-style="italic" fill="#111" stroke="#111" stroke-width="0.2">Xiap<tspan font-size="6" dy="-4">-/-</tspan><tspan dy="4" dx="0.9">ciap1</tspan><tspan font-size="6" dy="-4">-/-</tspan><tspan dy="4" dx="0.9">ciap2</tspan><tspan font-size="6" dy="-4">-/-</tspan></text>
<line x1="407.20" y1="545.80" x2="407.20" y2="549.00" stroke="#111" stroke-width="1.1" />
<line x1="437.00" y1="545.80" x2="437.00" y2="549.00" stroke="#111" stroke-width="1.1" />
<line x1="466.30" y1="545.80" x2="466.30" y2="549.00" stroke="#111" stroke-width="1.1" />
<line x1="496.40" y1="545.80" x2="496.40" y2="549.00" stroke="#111" stroke-width="1.1" />
</svg></body></html>
